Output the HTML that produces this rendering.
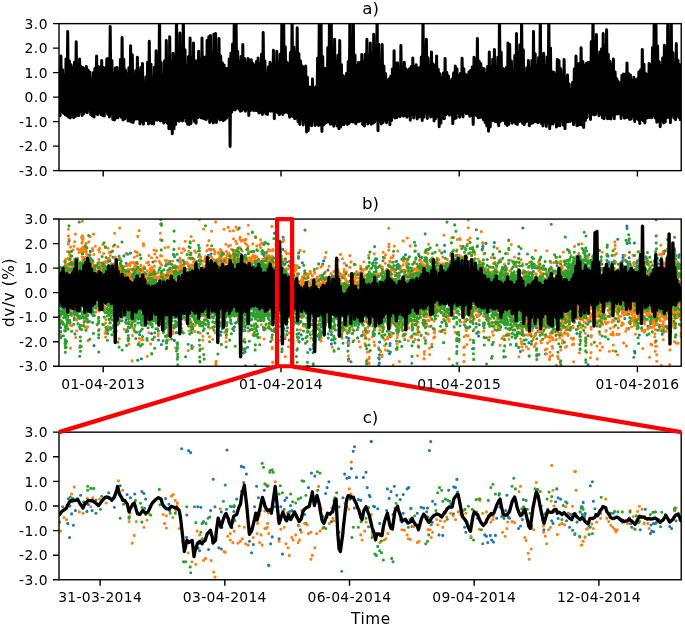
<!DOCTYPE html>
<html lang="en"><head><meta charset="utf-8"><title>dv/v time series</title>
<style>html,body{margin:0;padding:0;background:#fff}svg{display:block}</style></head>
<body>
<svg width="685" height="626" viewBox="0 0 685 626" style="display:block">
<rect width="685" height="626" fill="#fff"/>
<defs>
<clipPath id="ca"><rect x="59.0" y="23.64" width="622.2" height="147.0"/></clipPath>
<clipPath id="cb"><rect x="59.0" y="219.07" width="622.2" height="147.2"/></clipPath>
<clipPath id="cc"><rect x="59.0" y="432.16" width="622.2" height="147.6"/></clipPath>
</defs>
<g clip-path="url(#ca)"><path d="M59.2,70.1 60.1,115.8 60.9,55.9 61.8,111.3 62.6,69.8 63.5,113.3 64.3,75.4 65.2,114.8 66,59.1 66.9,115.7 67.7,31.6 68.6,117.3 69.4,60.7 70.3,117.9 71.1,64.8 72,115.5 72.8,67.9 73.7,117.7 74.5,62.2 75.4,116.5 76.2,41.8 77.1,115.2 77.9,64.2 78.8,115.6 79.6,58.9 80.5,111.8 81.3,66.8 82.2,115.5 83,67.4 83.9,113.4 84.7,69.3 85.6,111.4 86.4,66.6 87.3,112.8 88.1,70 89,110 89.8,71.9 90.7,114.4 91.5,79.5 92.4,116 93.2,72.7 94.1,117 94.9,68.5 95.8,113.4 96.6,55.9 97.5,114.8 98.3,66.6 99.2,112.6 100,68.1 100.9,114.7 101.7,60.5 102.6,115.4 103.4,67.6 104.3,116.1 105.1,68.2 106,111.1 106.8,59 107.7,114.2 108.5,58.2 109.4,117.1 110.2,26.5 111.1,114.1 111.9,60.4 112.8,119.4 113.6,73.5 114.5,120 115.3,68 116.2,118 117,67.4 117.9,117.8 118.7,71.4 119.6,115.8 120.4,59.5 121.3,117.2 122.1,37.5 123,119.9 123.8,59.3 124.7,119.1 125.5,70 126.4,117.2 127.2,74.1 128.1,120.9 128.9,67.8 129.8,121 130.6,45.7 131.5,122.1 132.3,54.7 133.2,122.5 134,75.1 134.9,119.3 135.7,70.7 136.6,119 137.4,57.2 138.3,119 139.1,71 140,123.9 140.8,67.4 141.7,122 142.5,63.5 143.4,124.3 144.2,82.2 145.1,120.5 145.9,77.1 146.8,120.6 147.6,62.3 148.5,124.1 149.3,41.3 150.2,122.5 151,63.9 151.9,123.8 152.7,78.2 153.6,124 154.4,67.3 155.3,120 156.1,50.8 157,120.3 157.8,57.4 158.7,119.5 159.5,11.6 160.4,121 161.2,62.5 162.1,120.7 162.9,78 163.8,123.1 164.6,60.7 165.5,121.4 166.3,40.6 167.2,123.3 168,64.2 168.9,128.7 169.7,36.7 170.6,128.5 171.4,61.9 172.3,133.8 173.1,53.3 174,128.9 174.8,58.3 175.7,124.6 176.5,11.6 177.4,120.6 178.2,54.4 179.1,121.2 179.9,32.9 180.8,120 181.6,49 182.5,121.1 183.3,11.6 184.2,117.5 185,49.7 185.9,121.3 186.7,66.1 187.6,124.2 188.4,56.7 189.3,124.4 190.1,38 191,123.5 191.8,58 192.7,118 193.5,43.1 194.4,121.4 195.2,60.8 196.1,123.2 196.9,61 197.8,117.7 198.6,51.2 199.5,116.8 200.3,59.7 201.2,118.1 202,38 202.9,118.3 203.7,56.9 204.6,119 205.4,57.2 206.3,119.4 207.1,40.6 208,117.6 208.8,36.7 209.7,122.6 210.5,35.4 211.4,120.2 212.2,53.2 213.1,123.1 213.9,34.2 214.8,122.1 215.6,33.4 216.5,122.4 217.3,54.3 218.2,117.9 219,38.5 219.9,120.1 220.7,55.9 221.6,119.3 222.4,62.7 223.3,120.7 224.1,65 225,119.4 225.8,68.6 226.7,118.1 227.5,68.6 228.4,113 229.2,58.9 230.1,146.6 230.9,53.3 231.8,111.9 232.6,44 233.5,109.4 234.3,11.6 235.2,109.9 236,11.6 236.9,107.5 237.7,51.2 238.6,109 239.4,61.4 240.3,111.3 241.1,56.5 242,110.5 242.8,44.4 243.7,108.9 244.5,58.6 245.4,111.2 246.2,62.2 247.1,109 247.9,58.5 248.8,115.5 249.6,60 250.5,110.6 251.3,59.7 252.2,110.1 253,63.5 253.9,110.5 254.7,66 255.6,110.4 256.4,61.6 257.3,110.8 258.1,57.9 259,113 259.8,63.7 260.7,112.2 261.5,54.2 262.4,114.4 263.2,32.4 264.1,111.7 264.9,60.8 265.8,113.8 266.6,73.3 267.5,114.5 268.3,67 269.2,111 270,62.3 270.9,111.2 271.7,65 272.6,110.9 273.4,50.3 274.3,118.8 275.1,63.8 276,111 276.8,51.3 277.7,112.9 278.5,62.6 279.4,114.8 280.2,53.9 281.1,113 281.9,11.6 282.8,114.5 283.6,11.6 284.5,112.5 285.3,46.8 286.2,112 287,62.3 287.9,113 288.7,63.6 289.6,117.2 290.4,52.6 291.3,115.9 292.1,11.6 293,116.6 293.8,46.9 294.7,118.8 295.5,52.9 296.4,118.1 297.2,27.8 298.1,122.1 298.9,53.4 299.8,124.6 300.6,61 301.5,119.3 302.3,65.9 303.2,124.9 304,67.5 304.9,122 305.7,66.1 306.6,132.1 307.4,77.3 308.3,130.4 309.1,87 310,124.9 310.8,87.3 311.7,125.8 312.5,79 313.4,120.8 314.2,88.8 315.1,125.4 315.9,86.8 316.8,124 317.6,58.1 318.5,125.6 319.3,11.6 320.2,124.9 321,11.6 321.9,131.4 322.7,56.5 323.6,124.9 324.4,68.7 325.3,123.3 326.1,68.3 327,122.3 327.8,47.5 328.7,122 329.5,11.6 330.4,124.2 331.2,11.6 332.1,123.7 332.9,50.7 333.8,126.2 334.6,39.3 335.5,123.2 336.3,61.1 337.2,126 338,55.2 338.9,128.8 339.7,40.6 340.6,127 341.4,64.5 342.3,124.8 343.1,75.5 344,124.6 344.8,77.1 345.7,122.2 346.5,73.4 347.4,124.5 348.2,61.4 349.1,123.3 349.9,11.6 350.8,121.6 351.6,46.1 352.5,122 353.3,11.6 354.2,122 355,54.9 355.9,123.8 356.7,65.5 357.6,121.6 358.4,62.6 359.3,121.4 360.1,62.7 361,120.7 361.8,54.6 362.7,124.6 363.5,61.5 364.4,126.1 365.2,54.2 366.1,121.2 366.9,39.3 367.8,124.1 368.6,55.4 369.5,122.4 370.3,43.1 371.2,124.3 372,54.3 372.9,123.2 373.7,34.2 374.6,122.2 375.4,49.3 376.3,119.8 377.1,11.6 378,130.8 378.8,44.2 379.7,121.2 380.5,61.9 381.4,124.1 382.2,44.4 383.1,122.5 383.9,66.1 384.8,120.1 385.6,73.5 386.5,122.8 387.3,80.4 388.2,119.5 389,79 389.9,124.8 390.7,76.2 391.6,120.6 392.4,69.1 393.3,116.7 394.1,50.8 395,117.9 395.8,63.5 396.7,117.8 397.5,62.8 398.4,115.9 399.2,72.9 400.1,116.7 400.9,45.4 401.8,115 402.6,69 403.5,116.2 404.3,62.3 405.2,115.4 406,68.8 406.9,117.3 407.7,70.4 408.6,115.4 409.4,69 410.3,120.3 411.1,66.8 412,114.4 412.8,57.9 413.7,118 414.5,66.7 415.4,113.9 416.2,64.8 417.1,119 417.9,68.4 418.8,117.3 419.6,67.5 420.5,116.5 421.3,57.1 422.2,120.6 423,11.6 423.9,117.3 424.7,49.3 425.6,113 426.4,39.3 427.3,118.5 428.1,57.7 429,113.7 429.8,65.8 430.7,117.1 431.5,52.1 432.4,116.2 433.2,63.9 434.1,121 434.9,65.5 435.8,118.4 436.6,55.9 437.5,116.5 438.3,69.2 439.2,126.7 440,73.8 440.9,123.1 441.7,78.1 442.6,118.3 443.4,72.9 444.3,118.7 445.1,58.5 446,114.7 446.8,72.2 447.7,113.4 448.5,76 449.4,115.2 450.2,81.4 451.1,114.1 451.9,79.1 452.8,123.8 453.6,73 454.5,118.8 455.3,66.1 456.2,118.1 457,68.8 457.9,113.1 458.7,75.5 459.6,117.2 460.4,73.6 461.3,114.8 462.1,58.2 463,117.1 463.8,68.7 464.7,112.1 465.5,74.2 466.4,113.8 467.2,75.8 468.1,113.7 468.9,72.1 469.8,116.2 470.6,70.4 471.5,115.4 472.3,67.1 473.2,124.4 474,57.2 474.9,114.7 475.7,60.3 476.6,115.8 477.4,38.5 478.3,117.8 479.1,61 480,117.5 480.8,63.6 481.7,117.2 482.5,68.2 483.4,119.8 484.2,68.8 485.1,122.5 485.9,73.7 486.8,126 487.6,66.4 488.5,131.3 489.3,52.1 490.2,126.9 491,66.7 491.9,121.1 492.7,59.3 493.6,120.3 494.4,49.5 495.3,121.8 496.1,67.1 497,121.9 497.8,57.3 498.7,125.7 499.5,11.6 500.4,121.6 501.2,51.9 502.1,120.2 502.9,68.3 503.8,120.5 504.6,69.5 505.5,124.1 506.3,67.4 507.2,125.6 508,43.1 508.9,124.3 509.7,44.4 510.6,120.6 511.4,61 512.3,123.2 513.1,72.2 514,121.4 514.8,55.5 515.7,123.8 516.5,33.4 517.4,124.5 518.2,52.7 519.1,121.4 519.9,44.7 520.8,121 521.6,11.6 522.5,123.2 523.3,49.8 524.2,124.7 525,74 525.9,121.9 526.7,67.8 527.6,120.8 528.4,60.5 529.3,125.7 530.1,67.7 531,123.4 531.8,60.5 532.7,123.1 533.5,31.6 534.4,121.8 535.2,53.7 536.1,121.5 536.9,66.1 537.8,122.7 538.6,57.6 539.5,121.7 540.3,11.6 541.2,123.2 542,56.7 542.9,125.9 543.7,53.3 544.6,122.2 545.4,66.3 546.3,126.4 547.1,57.1 548,122.8 548.8,11.6 549.7,128.7 550.5,48.1 551.4,124.1 552.2,71.7 553.1,123.9 553.9,72.2 554.8,121.6 555.6,74.9 556.5,127.1 557.3,59.5 558.2,125.2 559,60.5 559.9,125.7 560.7,68.7 561.6,120.9 562.4,74.6 563.3,125.1 564.1,59.5 565,128.7 565.8,77.4 566.7,122 567.5,74.9 568.4,121.4 569.2,84 570.1,121.4 570.9,90.3 571.8,120.2 572.6,82.5 573.5,124.7 574.3,68.9 575.2,121.9 576,55.9 576.9,125.7 577.7,63.6 578.6,124.9 579.4,63.8 580.3,124.5 581.1,47.7 582,125.1 582.8,61.5 583.7,127.5 584.5,65.4 585.4,120.5 586.2,63.6 587.1,117.6 587.9,62.5 588.8,112.2 589.6,62.5 590.5,119.4 591.3,41.5 592.2,114.2 593,11.6 593.9,115.1 594.7,41.1 595.6,114.5 596.4,34.4 597.3,111.9 598.1,56.7 599,115.8 599.8,52.1 600.7,113.8 601.5,49 602.4,117.8 603.2,33.4 604.1,118.8 604.9,45.9 605.8,114.9 606.6,29.8 607.5,118.8 608.3,54.2 609.2,118.4 610,61.3 610.9,119.1 611.7,64.9 612.6,115 613.4,59 614.3,118.7 615.1,71.9 616,114 616.8,78.7 617.7,114 618.5,81.7 619.4,113.7 620.2,83.3 621.1,118.4 621.9,75.4 622.8,114.8 623.6,74 624.5,118.2 625.3,74.3 626.2,117.4 627,63.1 627.9,117.6 628.7,73.7 629.6,119.4 630.4,74.9 631.3,118.9 632.1,80.7 633,116.8 633.8,77.2 634.7,121.5 635.5,80.1 636.4,118.2 637.2,79 638.1,119.4 638.9,72.1 639.8,123.6 640.6,70.1 641.5,119.2 642.3,49.5 643.2,120.8 644,64.3 644.9,123.1 645.7,73.5 646.6,118.2 647.4,74.8 648.3,117.6 649.1,63.5 650,117.6 650.8,65.1 651.7,117.8 652.5,47.4 653.4,115.3 654.2,11.6 655.1,117.9 655.9,11.6 656.8,122.2 657.6,45.8 658.5,121.3 659.3,61.7 660.2,126.7 661,66.2 661.9,120.7 662.7,58 663.6,123.1 664.4,45.2 665.3,121.9 666.1,51 667,117.6 667.8,11.6 668.7,117.5 669.5,43.3 670.4,122.7 671.2,11.6 672.1,115.3 672.9,52.6 673.8,117.9 674.6,64 675.5,119.7 676.3,43.6 677.2,116 678,60.2 678.9,117.8 679.7,64.6 680.6,121" fill="none" stroke="#000" stroke-width="3.0" stroke-linejoin="round"/></g>
<g clip-path="url(#cb)">
<path d="M110.7,266.6h0M142.7,278.1h0M77.1,275.8h0M90.4,251.4h0M79.1,268.1h0M147.5,285.4h0M86.1,247.6h0M68,264.3h0M135,282.8h0M113,257.2h0M122.2,274.9h0M94.1,274.5h0M85.8,266.3h0M141.3,281.2h0M92,263.9h0M103.8,269.2h0M91,264.3h0M90.3,263.9h0M145,281.4h0M132.7,278.2h0M125.8,276.2h0M135.3,264.3h0M123.8,274.7h0M84.5,262h0M78.7,275.6h0M99.1,272.4h0M129.9,282.5h0M144.8,283.3h0M85.8,249.4h0M140.4,276.4h0M89.5,261.5h0M135,278.2h0M132.3,274.6h0M101.8,268h0M94.2,268.4h0M117.3,272.1h0M107.5,272.6h0M108,274.4h0M149.2,277.3h0M62.7,267.7h0M107.5,275.2h0M133.7,273.3h0M124,255.9h0M108.1,274.8h0M133.9,274.6h0M141.8,278.1h0M130.5,253.1h0M91.5,263.3h0M89.6,268.5h0M80.3,273.1h0M69.1,241h0M98,267.9h0M85.1,264.2h0M127.6,280.6h0M113.4,264.3h0M109.8,260.6h0M83.6,264.4h0M121.6,278.8h0M146.6,274.2h0M81.6,269.3h0M133.3,275.6h0M142.4,281.7h0M107.2,267.3h0M142.5,278.5h0M113.9,269.4h0M111.1,267.8h0M141.4,281.4h0M126.2,263.2h0M65.3,265.7h0M101.6,265h0M136.4,268.8h0M136.5,263.5h0M126.9,308.4h0M94.3,315.6h0M140.7,318.3h0M142.4,309.2h0M74.4,319.6h0M87,308.2h0M104.4,299.7h0M127.7,331.1h0M72.5,313.1h0M131.9,316.1h0M138.2,318.9h0M92.6,309.9h0M75.3,313.7h0M80.2,303.7h0M93.8,299.4h0M102,302.2h0M118.4,318.7h0M139.6,334.7h0M140.7,317.8h0M131.8,326.3h0M107.1,331.6h0M113.6,315.5h0M130.7,307.4h0M134.7,308h0M80.9,303.2h0M82.6,314.1h0M61.5,313.5h0M111.4,314.1h0M129.5,309.9h0M79.3,318.3h0M70.4,303.6h0M80.3,304.4h0M144.8,318.6h0M110.5,315.4h0M122.2,308.5h0M89.8,301.6h0M77.5,315.3h0M116.8,312.7h0M63.3,323.9h0M94,345.6h0M113.2,305h0M133.5,313.6h0M120.5,305.4h0M114.1,309.6h0M66.2,305.9h0M102.8,306.2h0M128.7,307.1h0M60.6,327.5h0M105.5,303.2h0M78.2,305.9h0M130.9,307.3h0M135.2,317h0M92,309.9h0M75.9,306.1h0M136.5,307.5h0M130.6,315.8h0M61,304.4h0M126,319.6h0M87.7,321.9h0M78.4,317.1h0M69.7,323.3h0M67.2,307.1h0M128.8,311.1h0M119.3,315.4h0M84,318.2h0M126.6,323.2h0M126.4,312.4h0M141.6,324.9h0M141.4,358.8h0M141.7,319.6h0M188.5,276.2h0M196.4,261.5h0M212.8,269.1h0M194.2,276h0M241.9,268.8h0M256.8,266.4h0M182,267.5h0M263.4,269.9h0M210.1,268.9h0M164,283.4h0M264.6,256.1h0M181.9,276.7h0M152,273.6h0M153.2,281.2h0M201.6,274.1h0M267.6,265.7h0M152.3,285.7h0M243.7,268.6h0M157.3,284.5h0M272.2,268.6h0M168.5,274.7h0M197.2,268.4h0M274.5,233.3h0M216.9,260.4h0M256.3,266.2h0M239.9,259.1h0M200.3,276h0M180,261.9h0M211.1,254.1h0M233.8,261.8h0M250.7,268.1h0M233.4,263.9h0M194.1,265.1h0M158.9,277.4h0M270.1,257.4h0M208.4,255.2h0M200.3,268.9h0M177.7,260.3h0M260.1,265.4h0M256.6,265h0M257.4,260.7h0M233.8,250.7h0M240.8,254.3h0M209.1,269.8h0M165.7,265.7h0M172.7,277.5h0M170,268h0M269.5,258.4h0M154.9,281.8h0M209.5,264.2h0M168.6,281h0M264.9,242.9h0M263.6,254.5h0M234.3,262.4h0M232.5,270h0M169.4,285.1h0M163.9,284.8h0M198.1,272.5h0M257.6,265.6h0M170.1,261.5h0M264.6,258.7h0M152.9,262h0M228.8,253.8h0M173.5,254.2h0M217.1,270.1h0M193.3,270.2h0M175.4,271.7h0M176.2,279.7h0M186.6,276.3h0M260.5,266.4h0M243.9,258.5h0M185.4,278.9h0M215.7,269.7h0M259.2,269.7h0M240.2,268.6h0M183.9,278.7h0M256.5,263.6h0M232.5,269.5h0M188.6,265.7h0M226.7,270.1h0M212.7,269.3h0M264.2,266.2h0M245.3,263.1h0M245.4,259.1h0M150.9,279.3h0M150.8,272h0M181.7,316.2h0M223.1,313.6h0M235.5,323h0M221.1,331.9h0M245.9,324.7h0M223.6,308.2h0M179,319.3h0M200.3,324.6h0M166.4,318.5h0M226.1,323.7h0M271.1,314.9h0M189.1,315.5h0M191.8,345.9h0M270.5,323.2h0M234.4,326.7h0M151.7,314.1h0M217.5,306.8h0M168.8,335.7h0M234.3,309.9h0M164.7,324.5h0M209.1,311.3h0M239.9,312.9h0M274.3,306.8h0M246.1,315.2h0M181,324.3h0M152.6,309.6h0M163.6,331.1h0M238.5,310.4h0M188.4,324.5h0M198.5,317.5h0M268.2,313.9h0M217.3,306.7h0M155.2,315.6h0M248.6,316.2h0M261.3,311.5h0M209.4,307.8h0M173.2,312.5h0M174.9,317.4h0M204.9,310.2h0M245.5,325h0M217.6,314.5h0M208.5,308.7h0M212.9,308.7h0M269.4,314.3h0M158.3,313.7h0M161.4,344.5h0M256.2,313.8h0M164.9,311.5h0M174.4,340.4h0M238.8,320.5h0M194.5,319.6h0M176,332.8h0M267.3,306h0M220.5,322.8h0M178.9,312.5h0M150.3,324.1h0M151.5,333.5h0M249.8,306.9h0M238.3,309.4h0M198.7,323.1h0M194,311.6h0M233.7,311h0M165,324.2h0M158.5,340h0M208.7,323.1h0M164,314.2h0M216.9,319.1h0M239.5,311.7h0M234.2,306h0M177.3,315.8h0M182,318.8h0M199.9,309.2h0M151.3,316h0M269.6,309.7h0M184.1,313.1h0M264,329.8h0M237.1,314.8h0M272.6,312.8h0M163.5,322h0M156.3,322.9h0M156.2,318.7h0M156.5,321.9h0M245.2,323.9h0M245,342.1h0M245.1,352h0M244.9,330.6h0M245.1,348.9h0M245.1,327.2h0M245.5,365.7h0M245.2,323.9h0M290,281.8h0M279,259.2h0M276.1,273.6h0M277.4,272.5h0M290.5,279h0M286.4,274.4h0M290.7,267.1h0M276.2,272.5h0M288.9,265.9h0M282.9,272.2h0M279.9,262h0M277.8,252.1h0M291.5,270.8h0M294.6,281.1h0M286.6,262h0M289,277.7h0M276.2,259.6h0M278.1,265.3h0M278.3,255.9h0M278.1,254.7h0M278,260.8h0M278,251.9h0M282.4,261.5h0M282.9,268.4h0M282.7,241.5h0M283.1,237.3h0M282.9,249.4h0M285.4,270.1h0M284.8,264.2h0M280.7,266.1h0M280.8,265.5h0M280.4,255.5h0M277.1,314.8h0M291.4,309.3h0M295,310.2h0M285,338.5h0M293.4,313.3h0M284.1,321.8h0M284.2,320.3h0M279,320.7h0M287.4,327.8h0M288.7,310.8h0M283.9,312h0M291.1,318.8h0M277.9,326.3h0M341.8,275.2h0M343,292h0M331.4,284.5h0M313.9,292h0M299.1,285.2h0M360.4,284.2h0M316.4,282.1h0M307.5,287.9h0M328,270.1h0M302.4,262.8h0M338.8,288h0M352.9,292h0M336,289.8h0M339.9,273.8h0M299.9,287.4h0M319.6,285.4h0M353,283.5h0M333.4,289.1h0M330.2,284.9h0M302.9,284.6h0M353.9,288h0M312.3,281.5h0M317.6,285h0M297.6,276.2h0M334.2,279.9h0M335,282.7h0M310.5,288.8h0M317.7,284.4h0M362,285.2h0M338.6,289.8h0M333.4,277.3h0M304.8,290.3h0M364.5,288.6h0M352.9,276.8h0M351,281.7h0M340.3,283.3h0M336.7,277.8h0M352.4,286.3h0M326.9,288.6h0M303.1,285.3h0M322.7,264.1h0M331.5,287.7h0M339.2,275.5h0M338.9,277.3h0M323.7,260.8h0M323.4,278.4h0M342.1,311.5h0M362.3,323.7h0M298.6,307.4h0M318.1,309.6h0M361.5,335.8h0M320.7,310.7h0M299.7,312.5h0M347,311.1h0M350,318.1h0M342.8,331.1h0M302.6,339.1h0M356.4,314.4h0M363,316.7h0M337.4,313.9h0M298.2,310.4h0M358.4,319.7h0M310.2,349.4h0M319.1,312.5h0M349.7,319.2h0M299.8,322.1h0M295.9,308.3h0M324,310.2h0M331.4,313.1h0M313.1,352.6h0M300,308.2h0M329.9,310.8h0M348.1,316.9h0M295.5,310.3h0M334.9,342.9h0M351,361.7h0M354.8,320.4h0M348,342.7h0M301.1,334.9h0M342.5,323.1h0M325.6,310.7h0M316.8,312.8h0M333.6,318.8h0M312.9,314.4h0M346.6,337.2h0M320.7,313.4h0M298.8,311.4h0M358.7,324.4h0M329.4,310.4h0M340.4,315.2h0M319.5,339.2h0M347.1,313.8h0M313.1,310.5h0M313.1,311.2h0M306.3,313.6h0M327.2,312.4h0M331.5,334.6h0M331.4,343.9h0M331.6,332h0M331.6,339.7h0M301.1,316.2h0M301,321.5h0M301.7,316.4h0M348.4,343.5h0M348.7,358.9h0M348.5,341h0M348.7,338.3h0M348.5,359.6h0M348.3,345.5h0M348.6,320.1h0M320.9,320.8h0M320.7,319.6h0M320.9,327.1h0M376.6,259.1h0M404.4,270.4h0M384.2,280.4h0M407.8,277.3h0M458.1,270.5h0M459,263.5h0M388.6,283.5h0M519,253.9h0M370.5,287.9h0M468.4,266h0M521.6,281.6h0M441,270.6h0M501.5,275.4h0M371.2,288.5h0M445.1,274.1h0M447,273.1h0M446.1,267.9h0M367.5,282.5h0M370.9,283.8h0M389.2,277h0M494.3,242.6h0M506.6,274.5h0M450.5,261.6h0M376.2,287.8h0M506.2,269.4h0M433.7,268.6h0M520.5,285.7h0M405.5,254.7h0M486.6,275.4h0M515.2,281.8h0M427.8,270.1h0M454.9,269h0M418.8,272.3h0M508.1,284.9h0M395.3,275.4h0M467,270.6h0M494.9,279.5h0M379.1,287h0M490.5,273h0M475.7,264.9h0M522.9,228h0M435.1,274.5h0M365.3,288.6h0M435.1,271.8h0M448.7,273h0M516.8,275.5h0M391.1,273.8h0M457.3,262.4h0M523.3,281.8h0M365,287.6h0M430.3,271.5h0M442.9,273.7h0M448.8,272h0M369,288.7h0M474.6,268.8h0M453.2,268.7h0M475.5,262.7h0M463.1,265.1h0M481.2,274.8h0M475.1,274.3h0M366.8,286.2h0M401.3,285.9h0M506.5,278.4h0M441.8,267.7h0M369.8,286.6h0M505.8,268.5h0M408.9,272.5h0M400.5,282.3h0M426,267.9h0M418.4,278.9h0M407.2,281.3h0M439.4,269.3h0M368.1,285.9h0M496.1,281.5h0M385.3,283.8h0M465.7,262.7h0M373,282.6h0M446.7,268h0M455,262h0M506.8,280.1h0M397.1,266.6h0M398.8,286.6h0M490,278.3h0M381.6,283.7h0M377.9,276.4h0M439.2,265.9h0M510.7,282.9h0M451.5,269.9h0M393.3,269.2h0M503.6,285h0M365.9,286.4h0M444.6,275.4h0M388,283.3h0M499.8,280.3h0M387.2,279.5h0M457,255.4h0M483.2,276.1h0M373.3,262.7h0M461.9,266.7h0M388.1,284.7h0M465.3,264.2h0M376.7,277.5h0M437.2,262.9h0M490.7,283.1h0M481.7,270.6h0M482.9,246.4h0M482.4,248.8h0M482.7,243h0M386.5,271.1h0M386,271.5h0M386.2,274.7h0M444.7,251.6h0M444.6,245.3h0M419.6,273.5h0M420.2,257.9h0M420,264.2h0M419.1,255.6h0M397,273.6h0M397.1,278.7h0M396.7,273.6h0M396.9,268.2h0M396.7,265.4h0M441.2,312.3h0M514.4,309.4h0M465.3,309.7h0M427.5,307.1h0M375.7,313.2h0M445.6,314.7h0M517.3,333.7h0M513.5,312.4h0M437.1,301.1h0M503,322.7h0M478.6,336h0M511.6,315.8h0M405.9,312h0M403.4,317.1h0M424,308.7h0M386.2,312.6h0M456.3,303.2h0M517.7,313.3h0M390,319h0M519.7,314.4h0M451.5,315.6h0M467.3,300.4h0M440.5,302.4h0M450.9,299.9h0M519.2,315.9h0M472.6,348.8h0M405.4,311.8h0M463.5,314.2h0M507.3,311h0M397.6,333.1h0M377.2,312.7h0M497.1,306.7h0M489.9,310.5h0M479.8,302.3h0M383.6,315.3h0M414.8,309.5h0M523.6,315.9h0M380,316.6h0M493.2,313.8h0M448.5,315.7h0M511.7,308.9h0M496.3,309.1h0M368.6,314h0M507.3,311.8h0M391.4,314.8h0M511.1,308.9h0M374.8,315.2h0M416.1,334.1h0M472.6,320.9h0M416.3,311.2h0M495.5,322.1h0M512.9,311.5h0M455.7,304.2h0M479.2,324.8h0M387.9,325h0M389.1,312.4h0M469.8,326.8h0M465.7,321.2h0M428.9,302h0M518.2,318.3h0M508.8,311.2h0M484.9,306.1h0M496.7,315.2h0M366.9,321.4h0M408.2,311.7h0M420.2,303.3h0M446.8,309.1h0M463.7,300.2h0M520.4,351.5h0M506.3,313.6h0M477.7,310.8h0M492.5,309.4h0M404.3,316.5h0M501.7,309h0M441.9,322.2h0M470.4,302.3h0M430.4,302.6h0M465,305.1h0M431.8,305.5h0M511.2,314.5h0M389,314.6h0M488.5,317.8h0M401,322.7h0M442.9,306.2h0M476.7,333.3h0M496.1,309.5h0M461.4,302.4h0M394.9,316.4h0M456.6,312.6h0M372.5,315h0M392.1,320.3h0M503.1,316.5h0M404.5,329.8h0M522.1,331.5h0M388.7,329.3h0M521.1,323.1h0M389.7,335.1h0M390.2,332.3h0M389.9,336.7h0M390.1,343.5h0M390,318.2h0M390,345.5h0M389.5,353.7h0M390.1,336.8h0M390.3,325.5h0M390.4,352.1h0M379.2,358.9h0M379.6,342.1h0M378.9,365.1h0M379.3,363.1h0M379.6,354.7h0M379.7,322.9h0M555.9,281.2h0M533.4,271.6h0M548.6,282.4h0M546.7,273.8h0M529.6,283.8h0M526.5,286.2h0M528.5,281.6h0M532.6,265h0M532.5,280.9h0M551.9,280.9h0M546.8,282.4h0M532.2,277.6h0M535.1,282.5h0M553.5,279.8h0M530.2,281.2h0M549.1,270.9h0M548.1,283.5h0M540.2,284.6h0M557.1,265.7h0M550.9,318.9h0M550.9,314.6h0M527.8,315.7h0M526,315.6h0M535.7,333.5h0M547.8,319.9h0M545.4,354h0M555.6,313.2h0M552.4,323.1h0M552.9,325.7h0M552.5,311.6h0M527.9,314.2h0M553.7,313.2h0M555.5,331.6h0M564.8,333h0M564.1,317.1h0M528.8,342.8h0M538,331.2h0M553.6,318.5h0M533.3,313.1h0M552.3,310.9h0M552.2,313.2h0M544.5,312h0M554.8,311.9h0M552.9,326h0M535.2,335.2h0M534.3,317.6h0M557.2,319.8h0M561.9,318.7h0M566.2,281.9h0M573,275.1h0M565.5,273.2h0M592.6,274.8h0M593.5,267.3h0M570.3,265.3h0M578,267.5h0M588.2,272.8h0M597.6,274.2h0M571.2,265h0M574,274.1h0M580.9,260.5h0M596.8,272.8h0M573,265.8h0M576.2,272h0M566.2,273.1h0M583.4,263.6h0M567.3,260.6h0M592.8,256.5h0M579.4,268h0M577.7,264.9h0M586.9,274.6h0M595.1,268.1h0M584.5,252.7h0M583.7,259.9h0M584.2,267h0M566.3,321.7h0M571.6,312.8h0M583.1,312.4h0M594.6,317.1h0M597.3,299.5h0M592.4,301.4h0M581.5,315.4h0M580.1,304h0M596.6,301.1h0M577.3,305h0M569,321.2h0M576.7,316.7h0M569.1,309.2h0M587.8,302.9h0M576.9,333.5h0M573,310.2h0M576.6,313h0M582.4,316.6h0M570,309.3h0M597,326h0M568.6,314.7h0M594.3,302.4h0M582.1,314.7h0M574.7,316.7h0M579.4,322.9h0M588.1,364.7h0M588.4,322.5h0M588.3,310h0M588.1,335.8h0M655.6,270.7h0M664.4,271.4h0M638.7,274.5h0M616.3,274.8h0M652.1,270.4h0M657.4,269.5h0M622.3,261.8h0M620.8,262.7h0M646.7,258.9h0M681,284.9h0M657.2,272.4h0M662.5,272h0M622.8,260.5h0M656.7,267h0M609.3,276.4h0M664.6,263.7h0M620.6,276.4h0M646.5,271.2h0M676.7,270.7h0M616.6,276h0M634.1,275.1h0M608.5,262h0M629.1,257.7h0M626.1,271.7h0M627.8,267.8h0M630.8,275.6h0M637.7,270.9h0M631.7,267.5h0M641.9,274.2h0M634.7,275.8h0M626.8,261.6h0M617.8,239.3h0M616.1,271.5h0M643.7,275.5h0M626.9,274.8h0M608.9,264.4h0M634.3,243h0M659.9,260.5h0M666.2,269.5h0M627,268.9h0M608.1,256.1h0M668.5,256.6h0M601.9,264.3h0M669,270.6h0M623,257.5h0M638.4,273.7h0M658.7,269.5h0M614.3,261h0M673.1,272.9h0M607.9,271.4h0M601.5,278.3h0M628.2,263.1h0M633.9,263.3h0M674.7,276.7h0M663.7,253.6h0M647.5,271.5h0M663.3,253.5h0M630.6,268.1h0M613.3,275.4h0M636.9,263.3h0M643.8,272.6h0M623.2,255.2h0M606.5,266.7h0M613.4,269h0M663.7,251.5h0M658.6,263.7h0M634.9,269.6h0M605.6,273.3h0M672.1,266.1h0M679.1,267.2h0M678.8,257.2h0M679.1,254.9h0M668.6,258.6h0M668.9,260.1h0M627.1,243.4h0M627.3,266.7h0M627,228.4h0M626.9,226.1h0M634.2,262.5h0M659.7,325.6h0M630.7,305h0M677.6,306.3h0M622.6,309.4h0M622.3,302.5h0M620.9,300.9h0M665.9,308.5h0M675.1,310.9h0M678.1,305.8h0M636.3,303.4h0M632.8,305.1h0M650.8,303.4h0M642.7,308.3h0M654.2,303.2h0M660.5,310.1h0M643.6,316.5h0M679.7,298.3h0M679.5,313.4h0M647.9,326.2h0M610.5,298.7h0M637.3,306.5h0M654.9,318.5h0M664.8,305.6h0M647.1,306.3h0M608.2,310.2h0M604,309.1h0M644.4,303.5h0M615.6,302.7h0M678.4,298.8h0M603.4,301.8h0M632.3,312.1h0M617.2,298.8h0M621.6,308.4h0M628.8,328.6h0M639.3,335h0M602.2,309.5h0M662.2,334.3h0M661.3,311.7h0M665.7,326.4h0M669.7,329h0M645.9,302.6h0M680.6,298.3h0M650.4,302.9h0M602.7,315.2h0M680.5,303h0M638.9,301.3h0M600.8,297.9h0M672.9,304.3h0M605.4,318.4h0M615.7,307.2h0M665.2,308.4h0M623.6,311.4h0M649.9,303.6h0M659.6,329.8h0M624.8,318.6h0M634.7,310.1h0M634.5,351.4h0M634.9,353h0" stroke="#1f77b4" stroke-width="3.1" stroke-linecap="round" fill="none"/>
<path d="M107.4,262.2h0M89.3,266.5h0M101.9,269.2h0M78.9,276.2h0M67.3,275.7h0M137.1,255.8h0M127.3,275.3h0M68.6,275.1h0M137.6,273.3h0M116.6,273.7h0M72.9,270.1h0M103.3,267.1h0M82.7,260h0M88.1,262h0M82.9,260h0M93.3,274.5h0M143.4,277.1h0M126.1,273h0M135.5,276.5h0M148.9,255.6h0M119.1,271.7h0M108.6,258.5h0M70.6,247.1h0M72.2,272.4h0M111.4,263.5h0M72.8,262.2h0M90.7,265.2h0M92.2,273h0M67.3,267.6h0M129.5,274.9h0M92.4,248.6h0M86.2,251.6h0M142.6,283h0M137.4,266.9h0M123,271h0M108,260h0M92.6,265.5h0M141,280.4h0M129.3,281.6h0M76,272.2h0M111.3,267.3h0M81.3,272.3h0M88.8,241.9h0M61.3,273.1h0M114,275.4h0M86,243.4h0M149.5,273.1h0M74.7,241.7h0M100.2,274.5h0M102.9,244.5h0M138.9,280.9h0M65,261.3h0M148.8,284.3h0M79.7,262.1h0M122.5,274h0M91.3,267.7h0M86.2,265.5h0M82.4,241.8h0M60,267.3h0M130.9,269.2h0M113.3,270.1h0M119.9,270.4h0M125.9,278.4h0M147.3,270.8h0M111.2,272.3h0M84.2,248.4h0M117.8,246.6h0M85.5,257.6h0M68.9,272.7h0M69.3,274h0M128.6,281.5h0M94,273h0M136.4,282.3h0M89.8,254.8h0M121.6,268.9h0M149.2,285.8h0M119.6,266.2h0M127.2,274.2h0M65.8,276.4h0M129.4,275h0M83.1,270.1h0M107.7,272.9h0M127.2,275.3h0M132.5,280.6h0M104.1,275.2h0M130.1,263.1h0M80.6,267.3h0M121.2,270.4h0M136.9,282h0M144.8,276.4h0M148.6,284.7h0M125.9,272.1h0M97.7,275.6h0M63.5,270.8h0M68.7,269.4h0M79.4,271.4h0M89.1,266.2h0M144.1,266.9h0M118.3,269.6h0M133.8,277.6h0M66.4,272.3h0M74.7,276.7h0M142.7,276.8h0M96.9,275h0M128.3,275.4h0M75.1,263.1h0M145.5,280.2h0M134.3,277.2h0M86.6,262.5h0M73,266.4h0M65.3,277.9h0M124.2,277.5h0M122.5,269.8h0M135.1,264.9h0M136.1,271.9h0M143.4,243.8h0M63.2,277.5h0M94.6,273.2h0M75.3,264.9h0M61.6,276h0M128.3,279.4h0M82.7,268.1h0M100,273.9h0M83.7,251.7h0M131.1,282.1h0M123.4,272.9h0M124.6,275.8h0M71.1,277.1h0M86.1,260.6h0M140.1,278.9h0M127.1,279.9h0M91.4,267.3h0M148.8,281.8h0M129.7,272.8h0M149.7,284h0M118.6,273.9h0M101.5,273.4h0M84.6,266.6h0M128.8,277.7h0M135.5,278.1h0M80.8,266.9h0M144.3,276h0M77.5,270h0M146.1,278.3h0M140.8,265.4h0M83.1,263h0M130.8,276.7h0M94.8,276h0M81.1,265h0M142.7,281h0M138.6,280h0M99.9,271.7h0M79.4,275.6h0M83.5,268.8h0M106.1,273.8h0M130.1,278.3h0M99.6,248.2h0M71.8,262.1h0M110.4,272.5h0M140.3,273.9h0M70.3,257.3h0M109.2,258.4h0M73.8,273.6h0M122.8,270.9h0M132.4,281.1h0M134.8,266.9h0M119.9,270h0M96.1,265.3h0M139.2,276.3h0M93.8,254.5h0M75,269.2h0M140.1,281.3h0M126.8,265.8h0M62.6,269.9h0M102.8,273h0M62,271.4h0M89.9,268.4h0M77,271h0M95.3,246.2h0M119.7,228.1h0M82.1,272.2h0M139.1,230.6h0M142.9,276.1h0M114.2,270h0M91.6,272.2h0M79.5,264.1h0M105.3,275.4h0M95,276.6h0M116.8,272.3h0M115,271.6h0M115,275.6h0M93.4,266.4h0M145.1,281.5h0M60.3,274.3h0M137.3,271.9h0M133.4,270.6h0M141.4,281h0M99.6,252h0M78.9,272.4h0M83.1,238.6h0M132.2,279.9h0M149.1,265h0M127.9,281.7h0M69.5,254.5h0M144.8,282.8h0M142.1,282.5h0M140.2,270.8h0M116.3,275.7h0M123.2,278.5h0M119.9,272.2h0M108.3,273.1h0M59.5,277h0M134.9,281.6h0M66,272.3h0M106.4,270.5h0M138.9,276.9h0M147.2,282.8h0M100.1,275.8h0M146,281h0M115.7,274.4h0M133.4,282h0M97.5,274.7h0M137.4,278.8h0M116.5,271.7h0M75.3,234.1h0M128.6,279.7h0M149.7,277.2h0M75.5,270.5h0M85.4,257.2h0M101,271.9h0M142.9,271.3h0M97,270.8h0M137.3,252.4h0M109.3,252.4h0M103.9,274.2h0M84,263.5h0M93.7,265.2h0M95.8,272.7h0M67.8,276.6h0M120.3,275.3h0M100.7,263.5h0M116.1,259.6h0M128.4,264.9h0M65.4,263.8h0M145.4,280.5h0M145.3,283.4h0M64.8,266.9h0M96.6,272.2h0M144.2,277.5h0M147.1,277.7h0M81.7,271.1h0M106.3,268.4h0M139.7,282.7h0M63.3,277.8h0M114.2,258h0M102.8,274.6h0M117.6,277.7h0M81.6,250.6h0M103.9,274.1h0M59.5,278.1h0M88.5,263.4h0M99.9,264.2h0M102.3,276h0M83.5,263.7h0M61.8,274.9h0M102.5,271.9h0M89.5,255h0M106.2,261.2h0M89.1,267.7h0M62.8,269.3h0M87.8,266.7h0M113.4,267.9h0M113.7,275h0M96.1,275.8h0M60.8,276.4h0M71.5,271.1h0M148.7,279.7h0M82.3,269.9h0M106.9,271.8h0M139,278.1h0M112.4,272.4h0M106.4,275.9h0M69.4,275.8h0M86.6,259.8h0M123.2,278.8h0M69.4,271.8h0M120.3,278.2h0M124.6,271.6h0M109.4,271.3h0M66.7,272.1h0M126.5,281.4h0M107.4,271.6h0M98.4,263.1h0M119.2,268.7h0M84.1,264.3h0M118.9,267.8h0M138.1,267.5h0M148.2,281.5h0M140.9,280.7h0M123.7,279.4h0M102.3,272.8h0M64.5,275.3h0M124.2,266.3h0M93,262.3h0M142,281.2h0M135,280.7h0M89.9,267.4h0M78.7,271.2h0M74,246.3h0M147.7,284.9h0M64.3,278h0M143.8,281.9h0M121,271.9h0M77.3,275.4h0M121.9,279.7h0M137.7,275.5h0M80.7,274.6h0M118.7,272.3h0M88.2,265.1h0M101.3,269.1h0M108.1,248.3h0M117.4,266.3h0M103.7,253.5h0M103.9,262.7h0M75.8,274.4h0M138.5,282.5h0M135.8,271h0M111.8,273.8h0M128,272.6h0M85.7,249.9h0M103.1,275h0M65.5,270.4h0M114.6,233.3h0M68.3,277.3h0M115.8,268.5h0M99.4,262.6h0M142.7,268h0M130,283h0M73,250.1h0M145.9,282.3h0M106,274.5h0M96.2,274.6h0M83.9,265.7h0M68.7,259.5h0M99.7,272.9h0M117.3,271.1h0M90.1,236.6h0M94.2,268.7h0M132.3,276.4h0M99.8,276h0M69.3,270.4h0M67.9,271.9h0M115.8,266h0M149.9,282.7h0M72.6,267.1h0M99.3,271.1h0M129,271.4h0M110.3,255.5h0M112.1,272.6h0M143.5,245.8h0M148.1,274.1h0M68.8,268.3h0M130.2,280h0M114.3,274.8h0M77.8,271.2h0M65.7,276.1h0M80.2,263.7h0M88.2,255.3h0M132,277.2h0M63.8,277.7h0M114.7,274.7h0M81.8,265.8h0M104.2,271.5h0M110,267.2h0M62.9,278h0M87.2,262.3h0M64,276.5h0M76.9,272.2h0M132.9,283h0M137.6,270.4h0M79,250.1h0M85.9,250.7h0M66.1,274.8h0M105.2,246.5h0M135.2,262.9h0M64,277.9h0M149.6,281.3h0M96,271.6h0M128.9,281.3h0M133.4,262.6h0M98.8,259.4h0M95.4,276.2h0M97.1,275.7h0M67.2,272.4h0M134.1,269.2h0M104.7,267h0M134.3,257.2h0M120.5,268h0M112.1,266.9h0M101.5,269.1h0M80.9,273.9h0M92.8,250.6h0M109.4,274.8h0M133.1,283.3h0M143.8,275.1h0M109.7,275.3h0M60.7,274.1h0M86.2,262.3h0M108,275.3h0M148.5,262.1h0M68.3,272h0M107.6,273.9h0M126.2,253.2h0M149.7,278.9h0M77.5,268.4h0M92.3,264.6h0M106.9,274.6h0M124.1,277.9h0M133.2,283.1h0M137.8,236.4h0M60,272.8h0M70.3,272.6h0M67.4,251.5h0M76,268.3h0M118.6,276.6h0M78.8,264.5h0M62.9,269.6h0M88.9,265.3h0M92.8,275.4h0M111,268.9h0M123.2,279h0M87.1,267.7h0M107.6,272.4h0M99.3,262.5h0M77.6,248.7h0M124.5,278h0M143.2,277.8h0M142.9,270.1h0M120.9,266.6h0M113.3,271.3h0M65.7,259.4h0M81.2,270.5h0M93.6,234.1h0M125.1,279.7h0M86.9,263.2h0M70.2,264.1h0M98.1,271.2h0M106,271.9h0M102,267.3h0M122.9,277.4h0M74.4,273.3h0M67.3,268.6h0M104.1,269.9h0M69.2,266.9h0M130.1,265.4h0M135.1,251.6h0M63.1,271.6h0M128.8,278h0M120.3,258.5h0M120.5,275.4h0M136,278.5h0M60.2,273.4h0M113.2,246.2h0M114.4,271.1h0M149.4,276.7h0M80,268.2h0M90.5,269.1h0M123.9,271.8h0M147.5,283.9h0M141.9,270.7h0M82.3,271.1h0M116.5,274.2h0M69.1,239.1h0M74.2,259.4h0M99,267.3h0M110,272.9h0M147.9,278h0M125.2,278.7h0M128,272.8h0M134.4,270.5h0M79.4,270.5h0M141.9,282.3h0M61.1,275.7h0M143.9,283.8h0M64.2,276.4h0M140.2,275.2h0M122,268.2h0M98.7,249.8h0M101.1,265.3h0M87.1,267.7h0M113.1,274.5h0M84.3,265.1h0M92.1,272.3h0M116.5,272.4h0M64.5,273.8h0M114.7,274.4h0M148.7,279.1h0M105,262.4h0M62.5,272.8h0M142.3,281.1h0M74.7,260.8h0M125.5,270.2h0M63.5,277.7h0M96.2,276.9h0M66.9,269.8h0M99.1,276.5h0M138.8,281.6h0M139.4,276.8h0M115.6,270.4h0M120.2,264h0M82.6,257h0M77.8,266.1h0M126.8,279.5h0M92.5,265.4h0M78,262.8h0M139.7,277.7h0M89.3,260.3h0M88.4,267.2h0M79,252.4h0M134.3,280.8h0M78,273h0M71.8,274.8h0M104.9,261.8h0M64.3,274.5h0M69.9,273.3h0M76.2,264.2h0M93.2,274h0M119.7,265.3h0M131.4,262.5h0M93.6,274.9h0M86.7,254.1h0M132.2,269.7h0M137.5,263.8h0M121.5,277.9h0M81.2,267.1h0M142.1,282h0M140.9,275.4h0M132.3,277.7h0M128.7,281.6h0M118.8,278.4h0M146.9,262.7h0M74.3,267h0M134,280.9h0M110.6,274.2h0M115.4,257.1h0M124.9,277.7h0M109.6,269h0M60.3,274.9h0M91.9,269.9h0M138.1,270.4h0M128,276.4h0M127.9,269.9h0M128.1,271.5h0M128,269.2h0M82.5,263.8h0M82.4,235.7h0M82.6,239.2h0M82.7,236h0M82.8,247h0M82.4,253.7h0M82.3,221.2h0M81.9,243h0M81.5,248.9h0M81.8,252h0M82.1,256.7h0M81.5,237.2h0M98,267h0M139.1,272.6h0M68,266.2h0M68.2,258.4h0M68.4,243.4h0M67.8,264.3h0M68.4,235.7h0M67.6,267h0M68.2,244.3h0M68.4,229.3h0M145.6,308.9h0M111.4,303.8h0M131.4,312.1h0M126.6,309.9h0M118.4,321.6h0M141.7,339.6h0M99,304.8h0M75.8,303.4h0M124.1,329.2h0M127,316.6h0M116.4,331.1h0M110.9,303.5h0M136.5,309.8h0M141.3,314.4h0M131.2,320.8h0M148.8,332.8h0M104.8,306.7h0M125.8,315.2h0M116.4,304.6h0M62.8,307.7h0M130.7,319.1h0M93.3,304.3h0M105.8,301.3h0M59.4,317h0M105,333.2h0M75.8,337.5h0M83.9,315.3h0M123.4,306.9h0M145.1,308.3h0M117.7,307.8h0M139.1,309h0M70.5,348.1h0M83,302.7h0M67.6,311.3h0M107.9,326.5h0M132.5,307.2h0M143.9,325.5h0M143.9,312.5h0M94.1,299.8h0M142.1,315.4h0M103.6,305.9h0M121.7,317.4h0M128.9,316.5h0M83.1,325.7h0M136,311.4h0M74.6,303h0M143,339.7h0M84,322.4h0M61,303.3h0M123.2,311.3h0M132.5,335.6h0M71.7,325.7h0M93.4,300.2h0M91,304.5h0M140.6,310.8h0M59.8,304.5h0M149.4,318h0M114.6,304.4h0M134.7,312.1h0M113,303.7h0M129.7,308.3h0M71.7,315.6h0M134.8,318.4h0M86.7,302h0M114,309.6h0M70.7,325.2h0M108.3,303.3h0M107.4,308.6h0M77.4,309h0M90.4,308.2h0M96,297.3h0M137.9,311.4h0M96.7,306.4h0M147.2,356.3h0M96.6,309.3h0M136.3,310.6h0M147.2,309h0M119,308.2h0M78.8,304.8h0M144.7,311.3h0M142.1,310.3h0M89.2,307.3h0M148.9,310.8h0M137.4,311.5h0M145.7,316.8h0M83.2,313.3h0M73.9,312h0M61.7,321.1h0M113.1,309.1h0M60.5,334.8h0M70.6,310.5h0M61.6,305.7h0M95.7,312.3h0M88.7,307.3h0M130.6,310.1h0M89.4,305.6h0M84.1,317h0M66.9,304.1h0M97.5,300.1h0M135.5,310.4h0M97.5,298.8h0M134.6,310.5h0M134.5,327.6h0M83.4,303.6h0M130.8,319.2h0M79.9,304.4h0M115,312.4h0M139.2,313.9h0M99.1,329.3h0M119.2,338.7h0M121.7,311.5h0M122.9,315.9h0M82.2,304.5h0M143.9,310.4h0M70.6,309.6h0M94.7,301.7h0M67.4,305.5h0M131.2,307.8h0M87.4,305.6h0M108.5,329.9h0M96.5,305.7h0M94.7,298.3h0M128.8,344.1h0M138.9,309.4h0M77.2,307.1h0M147.1,310h0M115.8,306h0M149.1,309.7h0M110,322.9h0M132.8,327.7h0M94.4,303.2h0M84.9,303.1h0M132.1,360.9h0M111,314.9h0M139.1,342.6h0M139.2,316.8h0M139.4,338.5h0M66.3,318.7h0M66.4,313h0M65.9,313.1h0M66.3,328.1h0M86.2,309.8h0M85.9,314.8h0M87,311.8h0M99.4,307.1h0M99.2,311.1h0M105.9,319.6h0M105.7,333h0M105.6,337.1h0M105.8,309.6h0M105.8,330.6h0M105.5,323.1h0M149.3,320.9h0M85.4,327h0M84.9,327.1h0M85.5,320.5h0M85.2,309h0M65.9,312.6h0M87,327.9h0M87.6,306.8h0M87.6,311.3h0M87.5,326.8h0M88,340.6h0M67.5,320.5h0M66.9,326h0M67.2,326.4h0M67.2,320.6h0M76.2,308.8h0M75.8,314.7h0M76.4,320.1h0M76.6,318.8h0M76.6,330.8h0M76.3,314.1h0M170.5,274.2h0M223.4,252.9h0M268.3,267.2h0M267.6,269.2h0M205.5,256.6h0M180.6,272.2h0M244.1,265.6h0M210.1,262.3h0M174.6,275.5h0M181.6,276.2h0M221.5,261.1h0M266.9,255.9h0M212.8,263.4h0M180.3,261.6h0M245,242.8h0M254.2,261.2h0M262.2,260.7h0M228.9,259.1h0M231.5,249.3h0M266.2,271.1h0M243.9,265.1h0M210.8,250.1h0M271.7,257.9h0M244.7,257h0M260.6,261.3h0M180.4,280.9h0M245.1,258.2h0M241.4,264h0M232.2,255.6h0M216.5,266h0M178,281h0M228.6,255.7h0M182.1,279.1h0M231.8,266.1h0M249.3,270.3h0M246.5,268h0M262.7,268.7h0M169.7,270.8h0M246.7,267.7h0M209,249.2h0M186.9,262h0M220.8,267.4h0M168.2,247.1h0M165.3,260.4h0M255.6,261.1h0M257.6,270.1h0M220.3,267.9h0M187.6,272.4h0M154.8,254.1h0M159.8,276.9h0M185.7,271.3h0M265.7,256.3h0M162.4,284.3h0M211,249.3h0M150.7,282.1h0M255.2,236.8h0M175.3,279.3h0M254.1,266.6h0M180.7,281.1h0M177.1,278.1h0M241.6,264.8h0M264.7,260.7h0M214.7,253.9h0M200.4,273h0M253.1,262.5h0M178.9,273h0M265.7,265.9h0M163.1,279.7h0M208.3,271.2h0M270.2,250.6h0M162.7,282.4h0M189.1,274.6h0M184.3,277.6h0M236,255.9h0M237.5,256.3h0M221.6,268.4h0M167.5,275.4h0M234.3,266.5h0M167.2,283.9h0M259.9,270.5h0M161.8,283.2h0M157,257.8h0M219.4,265.6h0M161.8,256h0M267.5,263.3h0M245.7,264.8h0M272.3,260.1h0M239.8,247.5h0M175.8,268.9h0M230.9,266.5h0M197.2,274.9h0M204.1,267.4h0M199.4,219.5h0M160.3,284.4h0M243.2,268.5h0M226.4,258.5h0M220.4,271h0M175.8,281.1h0M269.3,260.2h0M237.1,255.2h0M190.7,267h0M151.2,284.1h0M251.5,269.7h0M231,263.5h0M169.6,277.8h0M180.5,260.2h0M193.1,268.8h0M268.6,258.8h0M210.7,261.3h0M226.9,266.5h0M158,273h0M265.1,264.9h0M172.6,261h0M206.7,261.6h0M211.3,270.5h0M170.2,282.2h0M268.9,269.7h0M193.6,240.7h0M175.8,270.1h0M268.5,249.6h0M170,282.9h0M181.5,252.7h0M180.8,279.9h0M184,278.3h0M239.6,264.7h0M200,273.4h0M197.5,275.7h0M194.2,259.2h0M171.7,279.6h0M193.4,274h0M165,247.7h0M155.2,283.5h0M257.9,271h0M176.4,280.7h0M254.5,269.7h0M268.2,271h0M220.7,257.6h0M219.8,263.2h0M204.7,268h0M274.1,262.9h0M229.9,268.3h0M270.2,266.6h0M169.4,263.3h0M213.6,269.2h0M228.1,227.4h0M254.7,255.8h0M150.6,281.5h0M155.3,261.1h0M150.1,268.7h0M229.8,270.5h0M244.2,257.8h0M165.1,275.9h0M223.9,263.5h0M268.2,271.8h0M172,275.9h0M170.1,274.4h0M176.2,272.4h0M201,262.2h0M225.9,270.6h0M214.8,251.8h0M167.1,275.2h0M252.9,267.7h0M178.2,279h0M246.5,257.8h0M189.4,268.7h0M174.4,280h0M244.2,267.9h0M221.2,258.3h0M271.4,267.9h0M207.5,259.8h0M166.3,263.6h0M195.7,269.9h0M274.4,271.5h0M180.9,280.4h0M237,263.6h0M179.9,258.1h0M185.8,269.6h0M194.7,250.9h0M264.2,269.6h0M269,267.3h0M230,269h0M236.8,260.8h0M224,261.5h0M209,271.5h0M264.2,269.7h0M226.9,268.6h0M155.2,284.4h0M161.2,284h0M256.8,245.9h0M251.7,266.2h0M153.9,282.6h0M171.1,281.3h0M179.9,280.6h0M236,227h0M252.8,243.9h0M179.7,266.5h0M246,263.5h0M271.6,264.6h0M153.5,285.7h0M189.1,264.5h0M220.8,263.2h0M152.3,277.8h0M219.3,254.2h0M204,273.2h0M188.7,268.8h0M239.7,266.9h0M268.8,272.1h0M179.3,276.2h0M250.5,266.9h0M234.4,261.4h0M201.2,272.3h0M166.8,284.2h0M240.8,255.9h0M266.4,267.1h0M206.8,250.9h0M273.1,270.8h0M269,265.1h0M168.4,279.3h0M150.4,281h0M215.4,262.8h0M191.3,258.9h0M232.9,263.6h0M226.7,255.4h0M226.3,261.3h0M264,268.1h0M258,267h0M151.4,274.2h0M195.3,264.2h0M214.7,259.8h0M210.8,262.5h0M177.4,281.3h0M233.5,238.8h0M263.8,260h0M231.7,268.7h0M236.4,265.1h0M249.4,265h0M191.6,268.8h0M163.2,280.7h0M225.9,244.3h0M172.3,270.9h0M175.2,279.3h0M205.4,267h0M219.8,268.3h0M174.5,278.2h0M183.3,273.8h0M247.7,262.3h0M240.9,265.3h0M256.6,270.3h0M272,271.1h0M219.8,266.9h0M198.4,273.7h0M154.2,274.5h0M193.6,261.8h0M241.5,262.6h0M159.3,261.4h0M194.3,266.3h0M238.9,261.3h0M241.4,262.2h0M252,261.6h0M262.6,263.6h0M200.6,272.1h0M220.3,270.4h0M217.8,259.1h0M234.8,252.4h0M154.4,266.1h0M265.3,264.6h0M265.4,270.2h0M195.6,274.8h0M233.7,263.9h0M266.4,270.6h0M246.1,266.7h0M177.6,275.2h0M216.1,270.7h0M197,268.4h0M256.4,268.8h0M224,271.3h0M264,272.1h0M271.4,270.9h0M244,263.3h0M213.2,268.3h0M176,282.8h0M161.8,282.6h0M231.8,264.6h0M220.9,251.8h0M268.2,269.9h0M183,273.6h0M271.1,270.5h0M237.7,260.5h0M233.7,256.3h0M242.6,262.9h0M267.1,252h0M192.3,274h0M235.7,241.3h0M229.5,263.6h0M194.1,270.9h0M185.8,269.9h0M257.7,261h0M175.4,283.7h0M259.8,265.1h0M236.1,264.5h0M267.5,270.8h0M264.1,265h0M267.6,269.8h0M160,277.6h0M170.1,273.3h0M244.6,267.6h0M217.5,269.9h0M259.4,266.5h0M240,239.3h0M158,277.6h0M160.5,279.8h0M257.1,271.4h0M260.5,263.7h0M188.6,264.6h0M198,272.6h0M191.2,236.6h0M273,264.9h0M211.7,257.4h0M255,271.3h0M249.5,257.7h0M200.7,272.7h0M269.7,260.2h0M197.1,266.7h0M209.2,261.4h0M185.8,274.9h0M196,252.4h0M211.6,231.3h0M218.4,267.1h0M205.1,259h0M183.4,248.9h0M232.9,268.1h0M218,262.9h0M175.2,274.5h0M254.7,271.1h0M153.7,276.7h0M207.8,261.7h0M233,261.3h0M196,271.2h0M253.6,270.8h0M232.6,263.6h0M231.3,261.9h0M182.6,272.4h0M216.7,266.3h0M247.7,264.9h0M231.2,258.1h0M240.9,267.7h0M156.9,257.5h0M231.3,268.7h0M166.3,279h0M172.2,264.7h0M178,266.9h0M239.5,263.5h0M233.9,267.3h0M185.7,272.1h0M158.3,285.7h0M267.9,258.4h0M244.2,269.1h0M228,266.9h0M203.8,273.1h0M240.8,268.5h0M208.8,266.9h0M205.5,272.1h0M202.6,271.4h0M260.2,269.9h0M249.3,260.4h0M183.9,273.5h0M164.6,283.1h0M229.2,269h0M175.5,272.3h0M257.2,269.1h0M216.4,261.5h0M222.7,261.5h0M229.8,231h0M250.1,266.5h0M232.6,268.7h0M170.2,283.7h0M178,278.2h0M260.6,271.8h0M234.8,266.1h0M228.2,254.1h0M252.6,267.3h0M214.7,262.4h0M171.5,282.2h0M243.5,269.4h0M266.6,266h0M240,237.3h0M226.6,262.7h0M187,273.9h0M244.4,267.8h0M221.8,262.2h0M271.1,263.4h0M180.1,267.3h0M265.1,266.8h0M222.3,269.8h0M243.4,240.1h0M252.8,255.5h0M237.8,229.6h0M231.1,259h0M231.5,262.8h0M228.5,246.3h0M202.9,274.6h0M194,265.9h0M176,284h0M259.9,267.6h0M258.6,266.7h0M241.2,266.2h0M231.5,264.6h0M191.1,272.8h0M236.7,259h0M273.8,257.9h0M201.8,274.9h0M151.9,286.1h0M224,229.3h0M164.2,284.3h0M235.2,267.1h0M155.7,276.7h0M168.6,283.9h0M244.3,263.5h0M269.5,261h0M168.5,281.2h0M230.4,245.2h0M181.1,280.7h0M193.8,274h0M194.3,274.2h0M244.1,263.3h0M256,268h0M186.3,263.3h0M179.1,248.5h0M229.4,264h0M181.4,279.6h0M154.1,285.5h0M188.7,251.3h0M199.7,275.8h0M168.1,284.8h0M155.1,281.3h0M229.8,268.7h0M260.4,261.3h0M226.9,270.9h0M172.7,271.1h0M266.9,264.9h0M242.1,251.1h0M162.1,281.2h0M209.8,269.4h0M220.5,265.4h0M271.4,271.3h0M187.4,277.3h0M177.9,273.4h0M196.1,270.8h0M191.1,265.6h0M170.7,274.4h0M177.1,275.2h0M187.6,275.9h0M215.5,270.5h0M257.9,271.2h0M201.4,264.3h0M171,284.6h0M210.7,256.7h0M197.8,273.5h0M236.4,252.2h0M193.4,268.8h0M255,258.6h0M198.5,269.5h0M213.1,270h0M262.9,271.7h0M242.8,261.7h0M247.9,266.5h0M252.6,258h0M180.9,264.4h0M253.4,252h0M266.1,264.2h0M266.6,270.6h0M267.9,260.6h0M267.8,265.7h0M219.5,257.5h0M234.1,263.9h0M186.1,278.2h0M182.3,278.1h0M173.7,273.3h0M233.5,266.9h0M181.7,269.8h0M155.1,284.7h0M252.5,269.1h0M208.9,240.6h0M176.1,283.8h0M251.5,268.1h0M192.1,264.7h0M160.2,284.3h0M221.1,250.1h0M189.6,276h0M161,280.8h0M228.3,262.8h0M236.8,243.8h0M235.2,258.9h0M224.3,258.9h0M241.3,241.1h0M172.4,278.4h0M165.5,282.3h0M265.8,269h0M220.9,270.8h0M213.8,270.6h0M222.6,266.1h0M235.9,268.3h0M219.4,266h0M246.7,266.5h0M192.1,273.7h0M271.9,256.2h0M234.3,268.7h0M251,262.9h0M228.6,268.4h0M248.2,270.2h0M162.2,282.8h0M175.3,273.2h0M164.6,284.8h0M216.2,270.8h0M249.3,268.4h0M187.8,276h0M272,268.8h0M178.2,280.5h0M247.4,264.3h0M169.3,284.7h0M188.2,276.4h0M243.4,266.9h0M243.4,269h0M203.6,229h0M156,286h0M152.1,283h0M214.7,251.3h0M231.7,256.4h0M216.2,264h0M164,275h0M174.4,266.2h0M245.4,265.9h0M213.9,268.3h0M225.6,270.9h0M226.8,270.1h0M269.3,271.1h0M231,268.7h0M218,252.6h0M239.9,267.7h0M273,249.6h0M222.5,269.7h0M203.7,266.7h0M199.6,274.7h0M198.6,274.6h0M162.5,283.8h0M213.7,266.2h0M172.5,281.1h0M226.5,251.6h0M170.1,282.1h0M182.9,272.3h0M205.8,267.8h0M221.3,261h0M228.1,263h0M249.3,265.9h0M246.9,262h0M182.5,265.5h0M164.3,285.1h0M184,273.7h0M228.8,268.6h0M222.3,269.8h0M187.8,272h0M251,263.4h0M268.9,255.5h0M192.3,273h0M248.1,246.5h0M220.4,249.6h0M233.3,267.2h0M221.3,269.2h0M162.4,279.8h0M183.5,278.3h0M270.6,260.2h0M198.5,256.7h0M163.4,278.1h0M260.5,239.7h0M249.1,267.9h0M220.8,270.8h0M157.9,272.5h0M150.3,285.2h0M163.2,274.4h0M228.6,266.7h0M201.3,261.5h0M176.3,282.7h0M230.8,267.3h0M219.6,268.4h0M154.1,282.8h0M244,264.8h0M169.8,268.6h0M180.6,273.2h0M195.7,274.6h0M180.7,278.8h0M160.3,276.3h0M216.8,271h0M168.9,281h0M220,269.7h0M186.4,263.5h0M242.1,265.9h0M191.2,266.8h0M205,271.6h0M251.1,260.1h0M205.8,265.5h0M178.2,281h0M175.5,282.7h0M268.5,259h0M183.3,269.9h0M193.8,269.7h0M210.7,269.1h0M186.3,278.1h0M195.2,269.1h0M207.3,245.4h0M266.1,258.6h0M221.7,262.9h0M171.3,278.5h0M158,285.8h0M230.3,265.7h0M256.1,269.2h0M215.6,221.9h0M166.5,277.8h0M213.5,263h0M159.8,278.8h0M264.9,268.1h0M238,248.9h0M195,266.9h0M266.9,270.8h0M207,261.9h0M154,250.1h0M156.4,250.8h0M271.3,259.7h0M261.9,242.9h0M188.2,264.3h0M234.9,263.4h0M246.8,265.3h0M214.1,268.4h0M185.3,241.2h0M246.3,269.9h0M246.4,244.2h0M238,261.6h0M183,273.2h0M197.4,267h0M238.1,262.6h0M260.5,247.6h0M175.1,280h0M151.6,257.8h0M160.7,284.7h0M242,267.7h0M185.7,278.1h0M156.3,279.6h0M167.3,272.7h0M153.2,276.5h0M173,282.9h0M243.8,268.5h0M157,285.7h0M242.4,264.8h0M229.1,254.2h0M207.9,263.4h0M163.6,275.8h0M247.2,249.6h0M179.4,277.7h0M272.5,264.5h0M243.5,260.3h0M207.3,261.7h0M236.3,253.6h0M235.2,267.9h0M199.3,273.4h0M210,264.5h0M220.1,269.5h0M235.2,261.5h0M179.4,279.4h0M226.3,266.8h0M222.8,252.8h0M200.7,256.7h0M161.2,277.1h0M201.8,274.3h0M199.4,271.6h0M174.8,265.5h0M183.6,276.8h0M218.9,270.1h0M251,257.7h0M176.2,282.1h0M273.1,250.5h0M208.6,269.3h0M238.5,268.4h0M257.4,271.7h0M156.2,280.2h0M207,273.2h0M185.7,271.9h0M246.7,268.8h0M259.6,263.2h0M273.7,269.9h0M188.7,258.1h0M211,267.1h0M215.6,261.5h0M189.1,273.4h0M243.6,257.8h0M232.5,266h0M238.2,265.1h0M167.7,279.7h0M171.5,280.6h0M224,259h0M156.9,284.9h0M161.3,274.7h0M221.8,267.8h0M154.9,284.5h0M213.5,266.5h0M233.5,230.7h0M204.3,261.2h0M172,271.1h0M172.1,280.6h0M262.9,259.1h0M209.1,268.8h0M190.3,270.1h0M204.8,269.3h0M254.4,268.2h0M203.4,268.5h0M243.3,269.3h0M270.8,264.4h0M172.5,270.8h0M202.4,274.8h0M243.8,265.2h0M272.9,260.9h0M157.1,277.1h0M152.3,271.6h0M233.3,261.6h0M249.9,265.3h0M237.6,259.5h0M161.6,265.1h0M261,271.4h0M198.3,266.1h0M184.6,250.2h0M216.4,265.4h0M225.7,271.9h0M159,286.4h0M228.5,265.5h0M197.9,273.4h0M237.1,262.3h0M245.7,239.4h0M165,283.6h0M161.7,279.7h0M271.9,226.4h0M257.1,266.6h0M183.1,265.9h0M196.5,274.9h0M163.4,284.6h0M228.9,266.2h0M255.9,266.6h0M245.3,261.4h0M189.2,275.6h0M199.1,271.6h0M259.9,244.7h0M170.4,278.4h0M213.8,269h0M196.4,263.9h0M246,260.7h0M187.9,276.5h0M235.6,269h0M273.2,271.4h0M216.1,268.3h0M268.5,263.9h0M256.9,260.7h0M177.6,276.4h0M225.9,258.2h0M247.8,269.5h0M197.9,271.5h0M214.9,270.8h0M191,270.3h0M239.1,266.3h0M243.3,265.4h0M196.2,275.2h0M238.4,253.8h0M238,251.1h0M151.3,272.8h0M151.2,271h0M152.1,270h0M152.3,281h0M152.5,275.1h0M151.8,267.5h0M179.1,272.2h0M179,269.8h0M167.6,260.8h0M248.2,251.3h0M248.2,250.2h0M248.1,253.4h0M248.3,225.2h0M248.3,234h0M214.6,261.9h0M215,261.5h0M154,270.2h0M153.8,270h0M205.9,259.6h0M205.5,268.2h0M206,261.4h0M183.5,267.6h0M183.7,267.3h0M183.8,269.3h0M183.9,267.5h0M234,251.7h0M233.9,252.4h0M234.2,262.6h0M234.2,263.1h0M233.9,259.3h0M234,253.6h0M182.6,266.2h0M183.1,273.3h0M257.1,261h0M256.9,256.8h0M256.7,264.4h0M213.9,259.7h0M213.5,249.4h0M200.4,269.9h0M200.2,257.4h0M160.6,255.6h0M160.5,263.4h0M160.5,239.6h0M160.3,233.2h0M160.5,224.1h0M219.3,258.4h0M268,314.6h0M188.6,320.7h0M199.3,306.7h0M160,311.8h0M247.9,306.2h0M203,315.7h0M193,308.6h0M200.2,333.1h0M215.6,309.2h0M250.7,319.4h0M207,309.5h0M152.2,309.7h0M196.9,312.4h0M271.2,324h0M189.1,310.4h0M171,314.3h0M212.6,339.3h0M172.8,331.6h0M239.2,312.5h0M158.1,335.7h0M253,314.3h0M272.5,313h0M260.3,306h0M228.9,314.1h0M194.7,331.4h0M161.5,315.8h0M188.3,350.6h0M247.7,307.2h0M166,310.7h0M172.4,317.4h0M259.1,314.7h0M200,322.9h0M221.9,320.5h0M150.5,316.8h0M222.7,308.1h0M267.3,306.1h0M271.7,310.8h0M174.2,315.5h0M229.7,316.5h0M209.5,336.8h0M261.3,324.5h0M195,325.4h0M152.7,315.3h0M194.2,308.3h0M254.1,329.1h0M166.3,313.9h0M153.1,339.8h0M216.5,313.8h0M201.7,311.6h0M260.2,307.9h0M268.1,307.8h0M191.2,321.5h0M269.1,325.5h0M242.3,347.7h0M259.8,337.5h0M159.7,317.2h0M165.1,319.3h0M158.2,333.8h0M265.5,329.1h0M154.7,317.2h0M167.9,316.4h0M153.9,311.8h0M190.5,308.6h0M232.8,310.6h0M240,325.1h0M208.8,315.4h0M274.6,307.3h0M260.7,309.4h0M151.1,310.9h0M240.1,306.7h0M257.2,316.3h0M244.9,311.2h0M224.7,332.3h0M208.4,323.6h0M237.9,308.5h0M188.8,322.8h0M204.6,309.5h0M244.3,339.3h0M249.8,312.7h0M195.3,315h0M254.8,309.2h0M237.7,316.9h0M233.3,315.6h0M233.6,309.9h0M152.9,315.8h0M262.2,308.5h0M232.7,307.2h0M207.3,315.5h0M237.5,312.5h0M161.6,324.4h0M256.1,316.5h0M252.8,334.5h0M172.7,334h0M197.8,308.3h0M170.1,329.5h0M226.6,308.2h0M162.5,327.7h0M189.6,315.9h0M230.1,310.6h0M263.8,320.1h0M248.7,314.6h0M203.6,311.3h0M181.4,311.5h0M248.4,331.3h0M254.2,305.6h0M186.1,310.6h0M264.2,306.7h0M217.8,314.8h0M175.5,348h0M272.6,312.9h0M167.4,327.5h0M214.3,326.8h0M227.3,329.3h0M246.1,310.8h0M243.4,310.2h0M271.9,308h0M151.4,321.4h0M184.6,319.6h0M226.4,323.9h0M242.3,308.3h0M254.2,324.4h0M190.8,326.3h0M184.8,311.9h0M207.6,311.6h0M186.2,312.1h0M188.9,310.9h0M222.9,305.9h0M181,314.2h0M238.3,312.9h0M162.5,313.6h0M204.7,320h0M190.1,311.5h0M219.9,305.9h0M272.1,309.3h0M264.1,339h0M245.5,314.4h0M261.5,313h0M201.7,308.4h0M171.4,327.7h0M271.2,313.1h0M240.4,314.5h0M211.7,310.3h0M219.1,307.2h0M243.2,327.3h0M213.1,312.4h0M272,307.5h0M239.6,313.9h0M193.1,346.8h0M154.6,309.4h0M230.3,322.8h0M152.4,314.6h0M200.1,312.3h0M215.9,312.7h0M150.9,313.3h0M205.8,317.6h0M197.4,310.4h0M191.9,310.8h0M195.2,321.1h0M204.2,323.9h0M225.6,311.7h0M150.6,343.9h0M174.4,325.4h0M155.5,321.3h0M198.4,321h0M198.7,316.6h0M171.7,317.7h0M171.4,326.6h0M171.6,324.8h0M225.6,313.9h0M226,333.1h0M226,341.8h0M226.2,337.5h0M209.8,314.9h0M209.9,328.2h0M202.8,322.1h0M202.9,336.3h0M202.9,312.8h0M202.8,340.2h0M202.7,348.6h0M216.2,313.9h0M216.3,312.4h0M216.3,313.6h0M230.6,316h0M230.2,317.2h0M168.8,321.5h0M168.5,332.8h0M168.2,339.7h0M272.3,347.4h0M272.2,348.8h0M272.8,362.4h0M272.5,362.2h0M272.3,339.6h0M215.8,321.7h0M215.8,323.8h0M216.2,361.2h0M215.8,363.3h0M215.3,332.7h0M215.9,364.7h0M216.3,321.3h0M244.8,313.3h0M245,323.1h0M244.9,323.4h0M188.7,323.9h0M188.9,315h0M188.6,323.4h0M189.1,326.3h0M189.1,331h0M168.3,323h0M168.2,330.6h0M262.4,315.3h0M262.2,317.1h0M288,278h0M285.3,251.3h0M291.2,275.4h0M285.6,276.5h0M278.5,269.8h0M285.7,273.6h0M286.1,274.4h0M277.3,264.8h0M278.7,261h0M284.2,271.9h0M282.9,264.9h0M275.8,271h0M289.4,277.4h0M276.6,268.5h0M286.1,272.9h0M279.7,274.2h0M290.2,277.7h0M282,273.1h0M281.6,256.1h0M292.3,277.5h0M293.2,278.8h0M284.8,274.4h0M276.7,266.8h0M280,273.4h0M284.9,261h0M282.2,269.8h0M280.1,267.3h0M276.5,265.6h0M282.1,267.7h0M286.2,275.9h0M279.8,267.8h0M284.4,271.8h0M277,262h0M286.3,269.6h0M279.7,271.4h0M288.7,279h0M291.2,283h0M291.9,275.3h0M277.5,261.6h0M293,274.7h0M288.1,269h0M277.9,272.1h0M279.1,263.5h0M286.4,268.8h0M281.1,273h0M282.4,259h0M286.7,253.6h0M288.7,279.4h0M280.5,259.6h0M290.2,263h0M282.2,272.6h0M276,244.4h0M281.1,273.8h0M287,273.5h0M276.5,223.8h0M289.4,253.5h0M285.1,276.6h0M276.5,251.4h0M289.7,276.1h0M283.5,271.9h0M290.5,276.5h0M293.5,272.1h0M283.1,266h0M280.6,256.4h0M280.3,260.4h0M280.6,251.9h0M280.5,258.8h0M280.9,248.9h0M283.2,241.2h0M283.6,239.7h0M275.3,323.1h0M288.5,346.8h0M283.3,308.7h0M284.6,311.4h0M280.5,340.2h0M290.5,308.6h0M280.9,313.4h0M289.9,312h0M278.8,311.3h0M288.2,317.1h0M288.7,311.6h0M293,308.1h0M280.4,321.1h0M283.4,323h0M291.5,319.7h0M282.2,327.1h0M281.6,308.5h0M275.2,310.7h0M288.9,332.7h0M281.6,313.9h0M278.6,307.8h0M278.1,308.5h0M293.6,319.4h0M281.9,312.3h0M277.7,312.3h0M276.3,314.9h0M286.7,308.6h0M285.1,318.2h0M285.1,337.3h0M284.9,316.3h0M285.3,356.5h0M352.2,288.2h0M310,291.7h0M307.4,275.8h0M318.1,284.6h0M298.8,289.2h0M342.3,284.5h0M350,267.3h0M320.3,288.6h0M348.5,289.9h0M351.4,290h0M312.4,285.5h0M340.3,280h0M352.6,291.9h0M306.5,278.9h0M299.2,283.8h0M326.7,279.3h0M319.5,283.8h0M336.2,289.4h0M297.8,284.3h0M308.4,290.1h0M312.3,281.5h0M311.7,284.1h0M339.8,281.4h0M359.9,281.1h0M304.7,289.4h0M302.7,276.7h0M308.4,290.2h0M301.5,288.8h0M341.5,289.5h0M320.4,290.9h0M296.3,277.4h0M358.6,290.3h0M308.6,284.1h0M300.2,287.6h0M347.6,291.4h0M316.3,289.4h0M309.4,282.7h0M361.5,287.5h0M312.8,288.9h0M343.3,290.5h0M352.2,290h0M308.9,291.4h0M325,257.6h0M301.1,280.5h0M303.1,284.9h0M344.7,290.8h0M317.2,268.4h0M357.1,290.8h0M351,261.9h0M325.4,271.8h0M348,291.2h0M362.8,272.4h0M312.9,281h0M333.2,277.8h0M349.2,289.8h0M312.9,291.8h0M353.7,284.9h0M333.6,285.6h0M356.5,271.6h0M344.3,263.3h0M295.2,265.4h0M337.3,289.8h0M306.7,289.4h0M324,288.4h0M312.2,286.6h0M299.7,288.5h0M311.2,279.8h0M306.7,290.4h0M324.3,282.1h0M337.6,269.2h0M326,252.4h0M348.7,289.5h0M347.7,289.2h0M305.9,286.2h0M327.3,284.2h0M343.7,290.3h0M342.3,288.6h0M311.3,292h0M358.5,289.1h0M316.6,291h0M318.6,285.1h0M357.9,289.8h0M359.7,286.7h0M297.5,288.4h0M296.3,283.7h0M348.9,275.4h0M350.5,292.1h0M347.4,292.3h0M317.6,279.3h0M346.1,283.4h0M340.2,288.3h0M338.9,283h0M350.3,276.1h0M357.3,275h0M353.7,290.1h0M296.5,287.7h0M361.1,287.9h0M335.5,282.6h0M339.4,290.4h0M328.2,281.2h0M351.4,291.1h0M364.9,281.4h0M315.3,289h0M361,288.9h0M339.6,289.5h0M350.5,290.7h0M345.1,287.5h0M305.6,290.2h0M363.1,283.3h0M327.9,289h0M329.3,278.9h0M312.4,275.9h0M319.9,289.1h0M351.9,290.4h0M339.7,278.6h0M345.6,291.3h0M338.1,260.3h0M310.1,271.4h0M310.9,291.2h0M332.3,276.7h0M305.9,285.1h0M314,281.6h0M329.4,276.8h0M305.1,284.7h0M312.7,285.9h0M349.4,289.8h0M317.4,283.6h0M345.2,291.3h0M312.9,290.5h0M296.6,284.9h0M364.9,285.7h0M360.6,286.8h0M358.9,290h0M317.2,277h0M358.6,284.5h0M342.8,286.1h0M363.9,261.8h0M352.3,291.6h0M360.6,266.2h0M344.8,293.5h0M324,286.5h0M319.8,279.9h0M315.3,292h0M325.2,280.7h0M321.6,287.2h0M322.2,283.2h0M316.2,290.9h0M349.7,267.4h0M350.6,289.3h0M349.5,288.9h0M315.5,290.1h0M327.8,283.5h0M355.3,264.5h0M315.2,290.7h0M314.9,279h0M310.9,289.7h0M310.7,288.5h0M348.5,291.8h0M317.5,290.9h0M358.8,272.7h0M321.3,283.7h0M311,290h0M333.9,287.4h0M358.5,278h0M303.6,278.3h0M324.7,290h0M361.9,285.9h0M328,284.8h0M354.9,289.2h0M322.9,290h0M322.8,287.8h0M312.4,289.1h0M307.1,291.1h0M355.7,291.1h0M357.4,284.1h0M322.7,284.5h0M322.5,280.9h0M335.6,287.1h0M334.4,287.4h0M358.1,289.5h0M329.7,290.1h0M313.5,283.5h0M338,274.2h0M305.9,285.4h0M302.2,286.5h0M302.3,277h0M329.1,266.2h0M320.8,288.1h0M356.2,284.2h0M322.1,265.7h0M321.5,290.1h0M311,284.4h0M326,287.1h0M344.3,292.7h0M340.5,254.4h0M340.3,274.5h0M344.8,277.4h0M342.8,284.6h0M364.5,275.5h0M306,288.7h0M325.5,287.1h0M305,287h0M365,282.3h0M333.1,287.6h0M297.2,283.5h0M308.3,274.2h0M331.2,287.5h0M337.9,283h0M311.6,291.2h0M346.7,281h0M329.2,288.3h0M362.4,289.3h0M306,273.4h0M355.4,275.5h0M336.7,283.5h0M297.2,265.9h0M339.9,289.8h0M347.3,282.1h0M308,275.2h0M324.3,286.7h0M303.2,279.1h0M315.6,286.9h0M311.4,291.3h0M362.1,285.5h0M361.8,271.1h0M334,285.6h0M297.1,281.8h0M342.8,283.8h0M351.9,284.5h0M321.8,285.6h0M329.6,284.1h0M305.7,288.1h0M307.8,286.6h0M364.6,280.2h0M333.7,271.6h0M303.4,288.6h0M360.8,280.5h0M306.1,285.5h0M348.8,285.2h0M297.2,275.8h0M353.8,288.2h0M359.4,286.8h0M354.4,289.4h0M336.4,278.5h0M326,277.2h0M344.5,288.5h0M353.4,285.2h0M309.1,288.7h0M353.9,285.8h0M354.3,291.2h0M364.5,269.5h0M363.9,280.7h0M324.4,288.7h0M350,292.6h0M349.7,281h0M355.3,282.8h0M361.3,289.2h0M310.8,273.3h0M357.6,281.7h0M337,278.1h0M296.2,268.9h0M341.2,287.6h0M331,284.8h0M311.2,292.2h0M301.6,283.3h0M363.4,288.6h0M342,289.3h0M329.6,290.1h0M334.7,280.3h0M353.4,274.6h0M351.8,291.7h0M356.4,286.4h0M355.8,278.1h0M300.7,284.6h0M330.4,281.7h0M360.7,289.6h0M337.2,286.3h0M304.4,282h0M346,293.6h0M302.3,284h0M362,278.9h0M341.5,288.6h0M361.6,289h0M304.7,289.1h0M301.5,279.9h0M330.2,284h0M354.6,283.5h0M350.4,287.4h0M322,290.4h0M312.8,287.6h0M317.2,283.3h0M317.1,285.5h0M303.6,287.2h0M351.2,273.6h0M300.1,284.4h0M362.6,289.2h0M352,290.5h0M342.4,258.8h0M347.2,293h0M335.9,282.4h0M334.1,286.5h0M308.5,288.7h0M303.1,280.9h0M300.7,289.4h0M346.3,271.7h0M297,273.7h0M342.2,292.1h0M315.6,289h0M337.2,289.1h0M333.4,282.4h0M330.9,273.5h0M310.8,290.9h0M328.7,284.6h0M342.8,291.9h0M359.1,286.3h0M303.8,283.8h0M319.2,283.9h0M309,284.3h0M351.2,289.5h0M349.9,255.6h0M339.1,273.1h0M337.2,286h0M361.9,269h0M335.3,281.3h0M337.3,285.1h0M345.4,279.2h0M347.5,282.5h0M304,251.6h0M359.3,283.8h0M333.5,289.6h0M361.7,280.8h0M337.8,289.5h0M304.7,274.5h0M342.1,275.1h0M344,286.7h0M337.3,288h0M320.9,267h0M304.5,287.8h0M306.8,290.9h0M326.6,283.2h0M334.2,280.8h0M300.1,250.4h0M297.7,289.1h0M296.6,279.1h0M344.1,272.3h0M344,272h0M344.1,269.4h0M344.3,275.3h0M361.4,274.3h0M361.8,283.9h0M361.4,278.4h0M361.2,279h0M361.5,283.9h0M361.2,272.3h0M338,272.5h0M338.1,270.5h0M338.1,271.5h0M319.7,275.7h0M319.6,283.6h0M314.7,273.2h0M313.9,281.4h0M314.6,284h0M314.5,279.8h0M354.6,281.2h0M355.1,274.2h0M355,278.9h0M295.7,267.9h0M295.2,270.7h0M295.4,269.9h0M344.7,284.5h0M344.7,278.4h0M334.9,276.9h0M314.2,271.2h0M314.4,286.1h0M326,281.4h0M326.3,280h0M327,281.7h0M342.6,314.6h0M327.7,318.9h0M303.3,325.9h0M332.2,332h0M319.6,312.2h0M323.4,319h0M295.8,307.4h0M364.9,321.8h0M345.3,316.8h0M308.7,313.5h0M311.9,309.4h0M309.7,332h0M322.5,320.5h0M307.7,323.5h0M315.7,310.5h0M317.1,309.2h0M337.2,318h0M354.8,309.9h0M323.6,326h0M319.3,309.2h0M351,310.9h0M345,314.1h0M356.4,313.1h0M342.5,313.4h0M363.8,313h0M353.6,312.7h0M328.7,310.8h0M301,309.5h0M310.9,338h0M357.2,311.2h0M315.4,330.4h0M348.5,310.7h0M352.8,329.6h0M338.6,334.4h0M363.3,313.7h0M336.1,310.1h0M362.3,319.2h0M320.9,314.9h0M361.6,314.3h0M352.4,312.9h0M343.8,328.2h0M302,312.5h0M303,311.8h0M304.9,326.2h0M308.4,309.9h0M336.5,312.1h0M360.3,347h0M317.6,325.8h0M331.3,326h0M342.4,322.2h0M313.7,312.5h0M311.3,315.8h0M320.6,309.5h0M339.3,323.8h0M333.4,313.6h0M358.1,318.3h0M338.3,315.8h0M349,319.9h0M333.2,314.2h0M349.9,323.5h0M301.4,308.1h0M302,317.7h0M338.2,311.4h0M363.3,331.8h0M324.7,316.2h0M332.3,347.2h0M353.9,340.4h0M314.9,334.3h0M300.4,311.2h0M324.4,310.7h0M319.3,309.6h0M351.4,325.8h0M313.2,311.7h0M322.3,319.2h0M315.6,314.5h0M349.4,332.6h0M344.3,310.8h0M297.9,340.4h0M363.1,312.4h0M329.4,321.9h0M314.9,309h0M312.7,321.1h0M326,320.3h0M300.3,329.9h0M353.8,316.1h0M347.8,310.1h0M304,316.1h0M301.6,311h0M328.9,310.7h0M352.6,326.1h0M350.3,313.2h0M314.7,310.5h0M335,310.4h0M347.7,321.4h0M359,341.6h0M342.1,338.2h0M342.6,330.5h0M342.2,332.2h0M348.5,360.8h0M348.8,325h0M348.9,342.7h0M348.3,355.7h0M319.2,329.5h0M318.8,321.2h0M318.7,334.5h0M346.1,329.8h0M346,330.8h0M346.4,322.3h0M321.1,341.3h0M321,331.7h0M321.2,338.3h0M321,324.7h0M320.6,318.5h0M480.2,272.8h0M387.8,273.7h0M460.5,257.8h0M397.2,286.3h0M375.1,286.7h0M415.1,280h0M419.7,280.2h0M427.9,274.9h0M413,270.9h0M503.1,282.5h0M385.5,284.1h0M455,270h0M494.9,271h0M522,279.8h0M451.5,270.2h0M392.5,283.6h0M515.4,276.5h0M487,273.1h0M514.5,282.2h0M510.9,285h0M459.2,255.3h0M486.4,282.5h0M419.7,265.7h0M396.6,282.1h0M457.3,239.6h0M392.6,285h0M523,282.1h0M483.9,278.6h0M433.5,266.8h0M482.6,263h0M432.6,270.1h0M431.3,261.4h0M415.6,279.7h0M506.6,283.7h0M425.4,274.9h0M391.5,283.8h0M390.7,270.8h0M369.2,288.3h0M447.7,264.5h0M438.4,272.2h0M485.1,271.6h0M489.6,272.1h0M494.1,276.2h0M486.1,276.2h0M447.2,265.3h0M446.4,274.1h0M392.4,257.8h0M423.4,277.9h0M422.3,264.4h0M523.1,283.7h0M370.5,268.8h0M520.7,282.6h0M421.6,262.5h0M406.2,280.1h0M499.1,280.2h0M384.4,283.4h0M390.1,282.3h0M397.2,282.2h0M409.8,277.3h0M472.6,271.4h0M456.1,266.4h0M522.5,284.9h0M420,271.8h0M454.4,266.4h0M430.4,269.7h0M482.9,271.4h0M470.1,271.6h0M472.9,274.1h0M500.7,276.4h0M409.2,276.5h0M466.2,265.5h0M481.3,231.6h0M387,283h0M521.2,272.9h0M437.2,258h0M509.1,276.6h0M500.9,281.7h0M388.4,280.2h0M494.6,280.1h0M414.6,274.3h0M488.2,270.5h0M517,283.7h0M483.1,269.3h0M410.2,245.9h0M444.1,269.9h0M523.9,284.1h0M471.4,256h0M499.3,282.3h0M388.3,283.7h0M509.2,276.8h0M385.2,275.5h0M470.9,266.8h0M485.4,268h0M413.3,282.7h0M473.4,264.8h0M480.1,270.9h0M473.1,271h0M390.2,284.2h0M448.2,264.5h0M445.6,271.3h0M522.7,263.9h0M491.2,257.6h0M404.2,283.3h0M463.5,271.9h0M404.8,277.5h0M406.2,263.6h0M440.3,275.1h0M384.7,258h0M430.4,272.3h0M392.1,280.8h0M489.2,281.6h0M459.8,266.5h0M513.2,279.1h0M439.3,250.4h0M495.3,274.9h0M487.7,282.6h0M438.9,259.9h0M401.9,279.5h0M385.5,281.8h0M453.9,269.4h0M460.7,269.3h0M444.2,266.6h0M481.8,270.8h0M392.6,269.8h0M452,265.1h0M371.1,287.2h0M490.9,273.2h0M438.1,275.1h0M496.6,275.6h0M460,266.8h0M499.2,278.1h0M393.2,255.5h0M463.6,270.5h0M499.6,279.7h0M370.3,276.3h0M477.6,245.8h0M478.5,271.1h0M389.1,266.5h0M502.5,279.3h0M430.9,273.6h0M468.1,270.8h0M442.7,257.1h0M436.9,276.3h0M381.8,285.1h0M469.5,268.9h0M470.5,266.7h0M491.7,278.2h0M514.7,265.9h0M441.6,271.6h0M416.7,270.5h0M422,279.5h0M414.7,282h0M383.4,286h0M424.5,267.1h0M455.6,264.3h0M395,273.7h0M385.2,274.3h0M390.1,280.9h0M444.2,275.1h0M497.9,279.6h0M454.7,259.5h0M413.9,282.8h0M388,275.1h0M426.1,251.6h0M501.3,278.8h0M460.5,269.7h0M442,270.6h0M513.8,283h0M398.1,286.5h0M458.9,269.9h0M408.9,272.8h0M455.9,255.5h0M506.7,280.7h0M443.9,235.1h0M415.9,275.4h0M436.3,272.8h0M481.5,272.5h0M407.5,268.3h0M514.5,257h0M444.9,264.3h0M506.9,283.1h0M426,274.6h0M435.6,271.3h0M382.6,280.2h0M407.5,283.6h0M419.1,260.5h0M506.1,283.5h0M370,287.3h0M437.4,276.4h0M475.1,273.9h0M431.1,272.7h0M517.9,283.6h0M404.5,274.1h0M485.1,269.4h0M421.1,279h0M477.3,266.8h0M521.4,284.3h0M497.3,248.4h0M397.8,276.2h0M500.8,271.2h0M483.4,278.1h0M503.4,278.3h0M412.1,275.1h0M496.9,283.2h0M367,287.4h0M386.3,281.6h0M386.9,285.4h0M408.1,270.2h0M483.9,278.9h0M513.3,284.1h0M505.8,285.2h0M461,266.1h0M479.8,268.7h0M495.3,278.6h0M390.3,262.1h0M474.9,254.2h0M434.1,272.7h0M517.8,283.9h0M460.3,239.4h0M381.3,273.5h0M496,269.2h0M420,275.9h0M523.3,270.5h0M513.6,277.2h0M506.5,277.8h0M460.6,246h0M483,272.6h0M424.6,278h0M504.2,283.1h0M518.6,280.3h0M465.5,264.3h0M514.3,276.1h0M394.1,271.2h0M469.4,269.7h0M394.4,281.2h0M489.8,278.9h0M492.2,278.1h0M493.4,278h0M515.4,283.6h0M488.3,271.8h0M397.9,278.2h0M404.5,285.6h0M501,280.8h0M419.3,277.7h0M449.7,271.6h0M415.2,275.8h0M447.9,269.1h0M485.6,282.3h0M483.2,243.1h0M442.9,275.4h0M400.8,269.6h0M479.6,267h0M395.6,283.6h0M490.1,274.3h0M442.4,273.9h0M515.8,282.5h0M480.2,264.5h0M490.2,280.9h0M438.7,270.6h0M377.5,274.9h0M410.1,282.9h0M372,286.5h0M385.9,282.6h0M429.6,268.2h0M408,284.3h0M462.6,264.7h0M427.6,275.7h0M490.5,277.4h0M426.2,275.3h0M481.1,276.4h0M510.6,279.8h0M468.1,273.7h0M366.8,275.4h0M490.5,282.4h0M523.2,283.9h0M453.4,266.3h0M421.6,265.9h0M520.9,259.6h0M402.1,284h0M474.5,261.8h0M468.1,265.5h0M489.1,276.6h0M383.5,285.1h0M440,269.9h0M382.4,267.1h0M415.8,279.8h0M522.1,280.5h0M505.9,270.2h0M374.9,282.6h0M484,253.9h0M405.4,282.4h0M468.6,266.6h0M445.9,270.7h0M377.1,286.1h0M397.9,285.9h0M511.4,260.5h0M414.2,263h0M494.4,272.4h0M477.3,269h0M472.3,274.8h0M460.2,271h0M466.4,263.2h0M425.4,270.7h0M447.5,273.6h0M477.9,276.4h0M514.7,282.3h0M423.6,269.6h0M495.7,276.6h0M432.1,263.9h0M397.5,278.8h0M472.5,269.6h0M464,272.9h0M397.1,285.8h0M411.4,278.2h0M453.3,265.4h0M423.8,266.7h0M434.9,274h0M431.1,274.6h0M393.8,280.1h0M449.5,272.3h0M412.9,282.1h0M419.3,279.5h0M375.8,280.5h0M371.6,286.9h0M480.9,273.4h0M487.5,280.3h0M456.1,266.3h0M381.9,286.3h0M421.6,277.4h0M430.5,274.1h0M365.2,283.6h0M470.1,238h0M468.2,262.5h0M380,282.6h0M398.7,285.5h0M376.9,283.2h0M389,280.8h0M370.3,285.7h0M418.3,276.3h0M485.1,272.7h0M415.5,282.4h0M433.8,272.4h0M427.7,263.6h0M431.1,271.3h0M504,284.2h0M524,274.1h0M443.7,274.1h0M383.1,283.7h0M480.1,270h0M474.9,267.9h0M451.7,237.8h0M442.5,264.7h0M420.6,259.4h0M495.1,262.2h0M517,283.2h0M381.3,286.8h0M389.7,261.1h0M395.2,280.9h0M373.7,280.2h0M430.1,273.8h0M460.1,266.9h0M374.1,280.4h0M380.2,265.6h0M433.7,270.6h0M460.6,262.4h0M515.1,283.4h0M432.4,257.9h0M483,268.4h0M493.6,276.3h0M373.4,284.6h0M407.2,238h0M368.4,287.2h0M440.2,274.5h0M418.1,272.4h0M381.3,274.1h0M421.4,275.1h0M493.5,263.2h0M406.4,258.7h0M412.6,268.7h0M512.7,279.7h0M379.7,283.7h0M474.5,252.5h0M447.2,259.4h0M422,266.3h0M380.8,280.7h0M418.7,278.1h0M432.5,275.3h0M457,249.9h0M403.3,286.5h0M500.5,259.5h0M464.2,267.7h0M382.4,271.4h0M373.3,279.7h0M499.9,280.8h0M459.4,268.3h0M468.8,269.5h0M407.4,274.5h0M484.2,275.4h0M451.8,262.9h0M462.7,268.7h0M370.6,286.6h0M481.6,275.6h0M398.5,278.4h0M487.1,278.2h0M455.2,262.9h0M407.7,270.9h0M452.3,268h0M498.3,284.8h0M496.9,274.7h0M365.9,286.1h0M385.3,263.3h0M487.7,278.5h0M468.1,265.4h0M502.2,281.3h0M385.3,275.1h0M498.6,280.2h0M495.7,282.2h0M502.4,280.6h0M497.8,283.8h0M449.3,265h0M391.7,284.9h0M427.2,275.2h0M401.5,284.6h0M383.8,272.5h0M464.4,271.8h0M507.3,285.2h0M511,277.3h0M440.1,269.8h0M420.6,279.9h0M381.2,267.4h0M412.8,282.9h0M493.8,281.8h0M426.5,271.2h0M447.4,266h0M505.8,276.3h0M407.6,285.8h0M516.3,278.3h0M515.7,264h0M433.2,268.7h0M480.7,275.6h0M375,287.4h0M455.8,259.9h0M468.6,261.1h0M377.7,274h0M477.4,272.4h0M447.2,269.6h0M420.2,277.7h0M518.3,269.2h0M511.2,244.5h0M374.3,253.9h0M423,271.8h0M435.1,267.6h0M390.8,281.2h0M415.4,269.8h0M510.2,275.8h0M390.8,282.3h0M446.2,272h0M377.1,283.2h0M461.7,272.2h0M381.1,281.9h0M494.2,281.8h0M511.5,281.1h0M386.1,270.1h0M394.8,272.5h0M407.3,285.7h0M464.1,272.4h0M382.5,285.2h0M483.8,278.2h0M498.1,283h0M493.2,280.6h0M502.2,285.4h0M380,286h0M421.5,269.5h0M455,266.3h0M413.7,280.8h0M428.8,267.3h0M474.3,268.3h0M390,283.4h0M524,276.3h0M411.3,275.5h0M495.8,272.8h0M402.2,284.2h0M500,275.5h0M519.2,276.4h0M445.8,263.6h0M380.6,273.4h0M461.3,269.7h0M392.2,284.8h0M424,265.1h0M376.8,284.7h0M392.8,282.6h0M376.2,287.7h0M471.6,270.1h0M510.7,278.6h0M491.4,273.5h0M443.3,272.9h0M476.8,276.2h0M494.9,281.9h0M482.2,278.1h0M479.7,269.3h0M479.8,275h0M507.5,253.5h0M456.3,263.5h0M503.1,284.8h0M487.9,271.8h0M522.3,286.7h0M412.3,274.3h0M458,265.2h0M477.5,271.6h0M456.4,271.3h0M369.9,283.5h0M471.5,268.8h0M444.6,270h0M373.1,285h0M489.7,272.9h0M425.5,271.7h0M403.1,240.9h0M473.5,264.1h0M512.2,282.5h0M450.4,262h0M471.4,270.2h0M418.6,278h0M390.9,284.3h0M445.1,270.7h0M400.7,266.6h0M439.7,263.9h0M504.1,267.7h0M469.3,273.2h0M393.4,283.9h0M459.6,238.6h0M428.5,272.5h0M513.2,273.9h0M475.6,275.5h0M449.9,262.2h0M377.1,287.1h0M390.1,276.2h0M504.4,264.2h0M417.2,267.4h0M453,263.7h0M458.1,266.9h0M433.5,275.5h0M415.2,282.5h0M488.4,272.5h0M416.2,277.3h0M440.5,276.5h0M493.6,271.3h0M453.6,262.1h0M454.7,265.7h0M374,281.1h0M410.1,274.7h0M414.3,273.4h0M509.6,284.1h0M407.4,270.7h0M433.3,260.1h0M384.8,285.9h0M492.9,282.9h0M410.4,278.7h0M434.6,266.5h0M442.7,275.7h0M390,283.7h0M400.3,284.9h0M414.2,268.8h0M479.8,270.1h0M406.9,261.4h0M422.7,279h0M504.2,285.3h0M425.6,273.8h0M515.6,277.3h0M514.8,282.2h0M519.7,284h0M416.4,275.5h0M465.4,260.3h0M384.7,280.8h0M465.2,272.7h0M445.7,264.8h0M369,284h0M480,261.5h0M399.7,269.2h0M421.9,273.3h0M385.5,254.9h0M511.8,274.6h0M521.9,285.9h0M494.9,279.3h0M382.2,280.4h0M508.2,282.6h0M398.2,283.1h0M503.6,272.7h0M372.6,281.1h0M517.6,281.4h0M496.9,267.1h0M431.9,271.2h0M466.5,264.5h0M472.5,270.8h0M478.1,259.3h0M421.5,280h0M377.9,285.6h0M472,270.9h0M428.6,244.2h0M415.9,273.6h0M462.6,261.4h0M483.2,274.6h0M521.6,284.6h0M483.8,280h0M523.7,281.7h0M376.2,287.4h0M468.5,272.1h0M424.3,273.5h0M494.6,274.4h0M486,274.3h0M420.9,274.9h0M380.3,275.2h0M475.1,270.8h0M404.4,285.7h0M403.8,279.9h0M466.9,266h0M505.8,272.6h0M492.2,272h0M492.4,283h0M419.6,280.7h0M429.5,270.8h0M416.8,282.2h0M397.6,251h0M428,276.4h0M436.2,269.4h0M393.9,268.8h0M431.4,261.4h0M463.2,258.6h0M418.9,280.4h0M394.3,246.1h0M396.2,281.8h0M383.2,252.3h0M426.6,273.5h0M507.3,282.3h0M461.4,256.9h0M494.2,284.2h0M510.6,281.4h0M481.4,272.1h0M412.4,282.7h0M366.1,275.1h0M407.6,268.6h0M388.1,284.8h0M367.9,279.9h0M431.7,268.9h0M434.1,274.6h0M456,271.5h0M425,252.6h0M523.1,280.9h0M414.9,280.4h0M452.6,270.8h0M390.8,277h0M384.7,271.8h0M519.6,273.4h0M437.7,263.3h0M448.9,264.9h0M366.9,284.9h0M391.5,280.4h0M455.8,259.5h0M391,257.7h0M442,268.2h0M422.3,271.3h0M450.4,255.7h0M488.1,281.4h0M464,269h0M477.4,268.9h0M513.3,280.5h0M377.1,283.5h0M425.9,270.4h0M398.6,281.2h0M501.5,282.9h0M444.7,272.3h0M494.8,268.7h0M437.3,270.1h0M395.4,282.9h0M427.9,253.4h0M391.7,278.4h0M374.7,285.4h0M469.9,252.5h0M399.7,282.3h0M401.8,270.1h0M404.8,286.7h0M517,275.1h0M398.2,281.7h0M500.1,282.1h0M438.4,265.1h0M368.7,255.4h0M479,266.6h0M422.1,275.3h0M376.9,287.6h0M460,271.4h0M389.1,284.2h0M418.7,272.1h0M430.2,276.1h0M371.2,287h0M458.5,271.6h0M434.8,273.5h0M370.7,285.9h0M372.4,279.8h0M467.5,273.6h0M455.8,264.8h0M372.1,274.5h0M416.3,279.8h0M504.1,282h0M510.5,271h0M509.9,270.7h0M510.5,278.4h0M419.8,270.8h0M419.8,266h0M495.7,270.8h0M495.3,277.1h0M388.8,273.5h0M388.7,228.2h0M389,244.1h0M388.8,246.8h0M388.7,250.1h0M367.2,280.4h0M367.1,278.2h0M366.6,269.1h0M366.7,279.5h0M366.8,266.7h0M367.1,278.8h0M467.5,244h0M466.9,263.4h0M467,264h0M468,240h0M485.8,275.3h0M422.8,268.7h0M391.1,275h0M390.6,279.2h0M391.1,276h0M391.2,269.4h0M390.8,273.9h0M391.1,269.9h0M403.7,271h0M403.4,261.3h0M403.2,264.9h0M442.8,263.5h0M442.5,265.4h0M442.9,264h0M524.9,274.4h0M524.4,277.1h0M524.2,278.3h0M427.2,266.7h0M427.1,263h0M521.2,280.8h0M522.5,280.4h0M468.1,253.7h0M468.3,227.8h0M468.1,265.9h0M468.4,253.6h0M468.2,264.7h0M468.3,220.1h0M387.8,270h0M387.6,276.3h0M388,279.7h0M399.6,317.1h0M486.4,304.1h0M519.8,318.8h0M391.8,314h0M451.1,301h0M391.1,323.6h0M505,321h0M484.7,306.9h0M409.1,309.3h0M458,299.5h0M381.9,356.6h0M522.6,311.9h0M443.1,303.8h0M428.1,309.3h0M476.3,314.7h0M416.8,304.2h0M519.4,332.4h0M430.7,310.3h0M467.6,303.7h0M387.5,338.9h0M404.1,324h0M395.2,318h0M465,319.8h0M520.5,333.8h0M466.9,344.6h0M411.3,337.8h0M458,299.6h0M441.3,305.2h0M390.1,317.8h0M494.2,325.8h0M504.7,321.2h0M395.6,322.6h0M430.2,314h0M475.4,303.1h0M409,327.9h0M376.5,315.2h0M441.9,301.9h0M389.1,322.2h0M375.4,321.6h0M474.4,311.2h0M468.3,299.7h0M514.9,322.7h0M497.2,319.2h0M497.9,306.4h0M501.5,321.5h0M442.2,300.5h0M420.8,307.4h0M387.4,323.4h0M399.1,330.2h0M490.5,318.9h0M380.2,313.1h0M513.2,311.1h0M514.2,318.1h0M397.6,316.6h0M492.4,331.7h0M407.9,315h0M486.6,308.5h0M496.8,320.9h0M388.2,320.6h0M405.5,327.7h0M517.7,311h0M453.3,303h0M392.1,333.3h0M404.7,313.6h0M502,338.4h0M404.2,315.7h0M401.7,328.2h0M458.6,299.6h0M484.8,316.4h0M520.9,311.7h0M439,307.7h0M430.8,310.6h0M451.3,300.7h0M509.7,316.2h0M385.2,314.3h0M455.7,301h0M429.6,303.3h0M450,309.2h0M513.5,325.9h0M408.2,340.8h0M518.2,313.3h0M450.1,299.8h0M405.6,333.8h0M366.5,319.9h0M412.4,308.2h0M450,302.3h0M397.1,344h0M434.8,304.3h0M381.4,317.6h0M458.9,304.4h0M471.1,305.2h0M442.7,300.6h0M380.1,316.6h0M371.2,311.5h0M465,312h0M508.9,309.2h0M495.4,307.4h0M395.7,320.3h0M457,305.9h0M511.4,321.6h0M422.9,311.9h0M394.6,318.8h0M393.3,313.3h0M379.7,329.9h0M423.1,313.9h0M391.8,313.8h0M504.8,317h0M398.1,312.9h0M460.5,322h0M474.1,329.3h0M430.1,303.1h0M380.8,351.4h0M399.4,361.5h0M467,305h0M433,301.7h0M510.2,320.4h0M523.7,319.8h0M471.2,310.6h0M365.2,328.2h0M422.2,303.6h0M483.3,306.7h0M420,308.2h0M413.7,309.8h0M480.6,310.4h0M427.5,320.3h0M406.3,313.8h0M493.2,335.1h0M518.9,356.7h0M519.1,327.8h0M424.1,316h0M519.8,310.5h0M421.3,303.4h0M510.1,314.5h0M384.6,345.7h0M411.5,310.6h0M435.1,308h0M415,309.1h0M484.1,324.2h0M371,312.9h0M497.4,310.2h0M437.1,310.1h0M397.9,316.1h0M517.3,309h0M410.7,308.6h0M374.3,317.7h0M449.9,313.4h0M406.8,322h0M388.2,313.9h0M374.9,315.3h0M417.6,307.3h0M432.6,300.6h0M510.7,311.9h0M372.3,336.5h0M481.3,303.6h0M425.1,303.1h0M509,339.2h0M373.6,312.2h0M430.8,309.8h0M497.8,326.9h0M514.2,315h0M483.7,331h0M483.6,316.1h0M497.4,315.8h0M410.8,308.8h0M487.2,304.2h0M491.3,308.8h0M454.1,305.7h0M514.3,309h0M402.6,324.7h0M449.4,302.1h0M446.9,311.5h0M426.7,304.7h0M462.1,309.4h0M426.7,316.5h0M509.7,334.1h0M521.1,327.9h0M398.9,322h0M390,317.3h0M467,300.3h0M401.9,328.7h0M412.2,322.8h0M478.3,307.8h0M499.5,309.6h0M387.3,314.8h0M420.1,305h0M447.8,316.2h0M449.1,321.3h0M420.6,313.2h0M512,316.1h0M472.8,322.3h0M412.9,316.4h0M480.5,301.9h0M429.8,316.5h0M507.6,311.9h0M407.6,320.4h0M374.7,320.7h0M474.2,310.5h0M413,308.2h0M457,332.2h0M430.5,306.3h0M487.6,320.3h0M478.8,302.1h0M374.7,312.7h0M508.9,310.2h0M475.6,302.8h0M507.2,314.2h0M500,345.3h0M468.9,312.5h0M524.5,313.2h0M372.5,326h0M458.6,303.2h0M473.3,316.6h0M419.6,303.5h0M522.8,350.2h0M380.4,322.3h0M505.3,310h0M492.2,305.6h0M477.1,316.7h0M484.8,309.7h0M428.1,334.1h0M434.9,307.6h0M477.5,303.2h0M418.3,305.1h0M419.5,308.1h0M442.8,303.6h0M374.5,316.8h0M430.6,304.5h0M407.5,320.8h0M516.3,312.8h0M442.2,312.7h0M513.1,309.5h0M439.7,331.3h0M450,302.4h0M425.3,310.9h0M472.2,308.5h0M481.5,302h0M490.7,322.8h0M425.6,307.1h0M518.8,312.6h0M491.4,308.8h0M451.9,311.5h0M511.4,308.4h0M503.6,336.3h0M370.9,316.3h0M506.3,310.9h0M366.4,318.7h0M522.9,316.5h0M503.7,314.9h0M462.6,299.5h0M520.6,338.7h0M495.8,306.8h0M369.7,314.8h0M499.8,316.1h0M374.1,321.9h0M433.7,337.9h0M430.1,310.3h0M451.5,308.1h0M516.7,318.9h0M501,308.3h0M395.8,325.5h0M473.3,310.3h0M422.4,307h0M431.9,344.3h0M452.5,303.1h0M445.1,302.4h0M381.8,327.5h0M434.8,315.8h0M493.6,310.2h0M372.7,311.6h0M373.7,315.8h0M392.4,315.7h0M399.3,323.5h0M485.3,314.1h0M485.8,307.4h0M421.8,304.2h0M374.8,319.7h0M519.4,315.5h0M439.4,305h0M424.7,306.4h0M517.1,308.7h0M450.3,302.3h0M404.7,315.6h0M382.1,355.1h0M434.7,299.8h0M452.6,300.5h0M501.4,313.7h0M411.6,310h0M398.3,317h0M461.4,300.9h0M452.4,303.1h0M483.1,306.5h0M433.7,302.5h0M405.3,314.6h0M523,323.7h0M411.7,310.7h0M436.2,306.4h0M420.5,313.6h0M483.6,305.8h0M481.3,303.4h0M498,306.2h0M457.7,310.7h0M482.4,305.2h0M470.5,317.8h0M429.2,305.4h0M436,312.8h0M400.9,323.5h0M484.5,312.6h0M447.7,318.7h0M386.2,312.8h0M448.3,299.7h0M406,312.3h0M516.4,313.4h0M406.4,314.6h0M394.6,324.2h0M394.1,323.9h0M454.5,302.4h0M501.1,321.4h0M370.3,317.8h0M470.8,310.3h0M431.4,314.2h0M521,310.5h0M508.4,311.4h0M403.3,320.9h0M490.8,308.1h0M399.4,317.7h0M371,321.9h0M443.7,319.2h0M444.3,307.6h0M393.3,365.1h0M486.2,305.6h0M374.2,313.3h0M463.3,301h0M405.9,315.5h0M419.3,332.3h0M482.1,306.2h0M376.2,312.7h0M378.5,318h0M472,301h0M488.1,311.1h0M465.7,312.4h0M479.2,315.6h0M448.5,310.5h0M390.3,323h0M368.8,331.1h0M489.5,337.2h0M500.1,329.6h0M520.1,324.9h0M429.4,315.4h0M390.1,332.2h0M417.7,334.2h0M386.5,319.5h0M468.2,300.7h0M464.4,305.3h0M372.4,319.7h0M435.2,301.5h0M497.2,319.2h0M469.7,309.9h0M390.4,312.1h0M504.2,318.9h0M442.5,308.5h0M431.8,308.7h0M435.7,311.4h0M395.8,312.4h0M501.5,312.1h0M414.3,323.8h0M369.6,312.1h0M416.6,311.8h0M449.3,319.7h0M468.1,335.9h0M411.7,308h0M459.3,314.3h0M398.9,327.2h0M482.5,308.7h0M516.5,313.5h0M426.6,315.7h0M367.9,327.3h0M469.9,305.9h0M505.6,309.3h0M403,336.2h0M511.5,314.3h0M516.3,311.9h0M474.8,306.7h0M504.4,312.7h0M437.8,315.7h0M429.8,304.8h0M442.4,299.1h0M393.4,321.7h0M498.6,309.8h0M374.6,345.4h0M437.6,302.8h0M419.5,311.9h0M513.4,316.2h0M466.1,303.4h0M412.4,309.3h0M507.6,333.7h0M380.9,314.8h0M472.2,312h0M416.3,319.8h0M455.4,332.2h0M378.3,322.9h0M403.5,318.7h0M418.1,322.2h0M386.2,320.3h0M416.6,323.8h0M404.7,313.5h0M406.5,321h0M380.3,317.3h0M505.2,308.8h0M485,307.6h0M387.6,337.3h0M391.4,315.8h0M423.4,309.6h0M391.5,313.5h0M427.6,309.3h0M494.2,327.1h0M416.6,334.4h0M415.1,339.4h0M486.8,314.2h0M449.8,303.6h0M455.8,299.6h0M517,315h0M441.6,313.3h0M501.8,311.3h0M514.5,316.7h0M392,321.5h0M426.8,326.2h0M469.4,303.7h0M471.2,307.4h0M445,299.1h0M407.1,328.4h0M479.3,302.5h0M405.6,312.4h0M478.4,310.1h0M449.1,358.9h0M470.2,305.3h0M409.7,312.4h0M497.7,315.3h0M431.8,303.7h0M384,327.5h0M429.6,303.7h0M499.8,306.1h0M401.6,312h0M368.2,320.9h0M416.7,315.6h0M395.7,313.5h0M482.5,304.6h0M453.2,299.7h0M514.4,320.7h0M374,341.9h0M453.8,313.2h0M499.9,312.9h0M438.3,307.3h0M463.2,300.2h0M474.4,306.8h0M475.6,304.9h0M416.5,310.4h0M426.7,323.7h0M405.3,320.1h0M469.1,300.4h0M498.4,328.6h0M453.4,308h0M420,309h0M484.3,314h0M383.8,313.1h0M434.4,329h0M398.2,315.2h0M429.1,308.8h0M407.5,324.2h0M382.3,314.6h0M443.7,342.7h0M396.4,312.3h0M401.2,312h0M380.6,314.7h0M410.7,337.2h0M391.2,336.2h0M456.1,311.5h0M385.3,350h0M430.2,303.6h0M505.6,309.2h0M411.9,308.9h0M459.5,302.7h0M445.4,321.1h0M385.4,312.5h0M496.8,313.7h0M410.5,313.1h0M430.2,300.6h0M417.8,306.8h0M383.9,319.1h0M432.9,301.6h0M430.9,317.5h0M445.2,313.1h0M444.8,311.1h0M444.5,306.3h0M467.9,308.1h0M424.5,325.9h0M425.2,321.6h0M424.8,315.6h0M425,325.3h0M424.7,316.7h0M365,343.6h0M365.1,336.5h0M364.9,321.4h0M365.4,345.5h0M365,338.2h0M365,334.1h0M444.9,315.9h0M445.1,329.7h0M444.9,333.1h0M378.5,347.9h0M378.7,325.9h0M470.1,316h0M469.7,320.1h0M470,313.4h0M469.9,306.1h0M424.7,316.9h0M423.9,358.5h0M424.4,351.6h0M424.3,321.2h0M424.2,325.8h0M424.1,358.9h0M424.3,337.9h0M424.3,354.2h0M382.6,320.3h0M382.5,331.6h0M382.7,335.2h0M382.4,325.2h0M382.1,323.6h0M382.6,335.7h0M409.7,320.2h0M410.1,316h0M409.2,316.8h0M397.2,337.5h0M397.6,334.8h0M397.6,326.2h0M397.1,349.5h0M397.4,324.6h0M464,309.5h0M463.9,322.2h0M464.1,336.8h0M464,354.7h0M464,347.4h0M463.8,347.5h0M463.9,361.4h0M464.4,346.7h0M422,313.7h0M479.1,310.1h0M478.9,306.8h0M479.1,332.5h0M479.2,307.7h0M478.6,309.6h0M479.2,320.4h0M498.1,318.7h0M498.5,315.3h0M417.7,319.3h0M417.7,329.8h0M466.1,329.3h0M466.1,319.7h0M466.3,327.1h0M466.4,330.7h0M466.1,335.2h0M369.4,325.5h0M369.2,357.2h0M368.9,362.7h0M368.9,362.7h0M369,358.4h0M369.1,339.3h0M369.1,363.7h0M368.7,351.8h0M369.1,320.7h0M433.4,306.4h0M470.2,339.8h0M470.6,311.3h0M521.2,328.6h0M521.9,315.7h0M521.8,346.7h0M521.9,328.7h0M521.5,341.6h0M521.6,343.6h0M521.7,317.1h0M367.4,352.1h0M367.2,332.7h0M367.1,359.7h0M367.6,317.8h0M384.8,339.9h0M429.6,354.5h0M429.3,320.6h0M429.5,326.5h0M429.4,348.2h0M429.5,311.9h0M417.9,314h0M417.5,355.8h0M418.1,345.7h0M417.7,328.9h0M389.9,327.7h0M389.8,322.2h0M434.1,332.3h0M434.7,329.9h0M434.6,332.8h0M434.7,310.7h0M434.6,336.7h0M434,320.9h0M474.9,310.2h0M475.3,309.6h0M516.1,324.6h0M516.1,324.1h0M516.4,326.1h0M516.5,315.5h0M516.4,318.4h0M530.5,272.2h0M536,283.1h0M560.8,278.5h0M536.2,283.3h0M536.3,274h0M533.6,266.9h0M543.2,278.1h0M535.5,273.8h0M548.5,282.8h0M527.6,283.9h0M526.7,285.2h0M547.5,282h0M550.5,276.4h0M553.6,272.1h0M525.9,287.3h0M526.2,277.5h0M531.2,281.4h0M536.1,279.6h0M542.5,269.4h0M526,285h0M537.1,278h0M541,284.9h0M542.7,275.7h0M559.6,276.9h0M536.2,286.1h0M531.5,277.9h0M529.4,284h0M560.2,281.1h0M544.1,278.6h0M546.2,273.7h0M526.9,274.8h0M546.3,279.6h0M544.3,280.3h0M543.2,284.2h0M556.1,281.7h0M552.8,281h0M545.3,269.1h0M562.3,267.6h0M535.5,277.2h0M563.8,261.4h0M548.8,278.3h0M564.9,275.7h0M528.7,273h0M561.9,266.4h0M537.1,279.9h0M525.2,282.6h0M564.2,271.8h0M548.4,280.8h0M550.4,276.3h0M557.9,278.3h0M526.5,279.6h0M538.1,282.4h0M530.5,286.7h0M529.6,283.7h0M525.1,281.9h0M539,270.8h0M527.2,277.7h0M542.9,283.8h0M526.3,283.4h0M563.7,270.8h0M531.3,282.3h0M546.6,272.1h0M562.1,275.8h0M559.7,274.6h0M542.8,283.9h0M549.6,275.6h0M542.3,276.3h0M535.6,267.7h0M549.4,280.8h0M552.3,270.9h0M540.6,258.1h0M555.4,278.9h0M552.1,268.7h0M548,277.1h0M544.6,279.5h0M539.6,281.1h0M558.1,273.9h0M547.6,281h0M548.7,278.1h0M526.2,273.9h0M535.5,250.6h0M556.1,279.9h0M544.4,269.3h0M555.4,280.5h0M529.2,262.8h0M562.3,281.4h0M558.4,262.5h0M556.7,275.5h0M533.9,285.5h0M561.4,277.5h0M546.1,281.9h0M552.4,278.2h0M528.2,271.9h0M532.2,281.1h0M542.7,277.8h0M561.9,276.6h0M556.1,279.8h0M553.6,277.5h0M555.2,273.1h0M528.5,273.1h0M539.1,285.1h0M553,272.3h0M534.5,264.8h0M551,262.7h0M560.7,261.2h0M546.9,250.8h0M526.1,281.5h0M551.9,279.3h0M556.3,273.5h0M530.6,277.8h0M528.2,285.4h0M553.6,281.3h0M553.3,282h0M556.7,280.6h0M525.9,277.9h0M542,266.7h0M525.2,287.5h0M543.7,278.1h0M563.4,252h0M538.1,280.6h0M549.1,279.3h0M554.3,281.4h0M529.4,285.6h0M542.8,277.9h0M536.9,266h0M556.6,257.2h0M526.5,280.5h0M555.9,281.3h0M543.3,282.2h0M546.7,273.6h0M550.3,280.4h0M527.5,282.4h0M527.3,275.6h0M526.9,285.7h0M529.8,284.7h0M547.1,282.5h0M553.9,262.6h0M564.6,260.9h0M564.4,273h0M564.8,274.4h0M540.6,268.7h0M540.3,278.1h0M540.4,275.6h0M540.7,272.6h0M541.2,278.9h0M541.1,275.5h0M541.4,273.2h0M538.6,262.3h0M538.5,262h0M539.1,261.4h0M538.8,265.4h0M560,273.7h0M559.9,267.6h0M530.1,312.4h0M561.8,314.4h0M525.6,326.2h0M536.4,325.4h0M546.5,321.3h0M547.7,318.9h0M546.5,353.8h0M536.2,312.3h0M559.3,322.3h0M528.7,315.2h0M547.6,325.1h0M535.6,325.3h0M532.2,330.6h0M537,314.5h0M558.2,326.8h0M553.2,321.4h0M556.9,314.9h0M528.8,317.8h0M560,311.4h0M532,312.6h0M560,318.3h0M552,316.5h0M535.4,334.5h0M535.4,322.5h0M549,320.7h0M565,311.4h0M548,312h0M535.8,315.6h0M532.7,320h0M531,313.6h0M564.5,314.3h0M530.3,323.6h0M543.9,315.3h0M551.4,325h0M557.5,312.8h0M546.4,318.8h0M526,316.4h0M545.7,319.4h0M533.2,339.4h0M561.1,333h0M528.1,317.7h0M545.7,312.5h0M556.6,320.9h0M556.5,311.2h0M562.5,340.5h0M544.4,313.6h0M547.5,311.1h0M560.1,316.1h0M558.5,358.8h0M551,318.8h0M555.6,319.1h0M560.6,314.6h0M549.7,316.4h0M557.6,356.4h0M538.3,321h0M540.3,315.7h0M562.4,335.4h0M555.3,316.4h0M559.1,326.3h0M534.1,316.6h0M546.9,317.8h0M538.5,321.8h0M557.8,324.2h0M528.5,315.1h0M535.5,312.1h0M548.1,336.7h0M547.7,317.9h0M545.7,326.7h0M553.7,329.5h0M540.5,326.9h0M556.5,313.1h0M543.9,322.5h0M557.8,322.8h0M528.5,349h0M526.6,329.9h0M527.7,312.3h0M539.4,329.3h0M537.8,311.4h0M545.1,324h0M529.5,311.1h0M554.7,315.5h0M537.5,328h0M529.1,334.6h0M548.6,311.3h0M549.9,322.8h0M539.9,319h0M559.1,311.5h0M526.1,314.6h0M535.1,317.3h0M554.5,313.3h0M539.3,312.6h0M553.8,320.7h0M551,316.5h0M526.6,324.5h0M530.3,312.8h0M564.3,314h0M539.2,323.9h0M543.7,313.7h0M528.7,319h0M536.9,319.3h0M550.4,336.2h0M543,333.2h0M555.1,312.5h0M527.7,321h0M559.7,315h0M531.9,313.5h0M536.4,314.7h0M533.8,317.1h0M551.9,312.1h0M528.7,311.7h0M543.9,315.6h0M536.7,324.6h0M546.2,315.5h0M533.8,336.8h0M540.7,341h0M563.7,318.7h0M555.5,319.7h0M557.2,315.2h0M531.1,334.3h0M552.1,313h0M552.4,320.9h0M537.1,321.5h0M544.1,320.3h0M563.8,315.3h0M526.5,346.7h0M558,320.4h0M528.2,327.2h0M541.4,342.8h0M541.2,323.2h0M554.2,319.2h0M559.7,338h0M536.6,327.5h0M548.7,319.8h0M546.9,317.6h0M525.6,334.7h0M553.1,339.9h0M539,311.3h0M526.2,318.3h0M535,345.1h0M536,343.2h0M540.1,313.7h0M539.5,316.3h0M529.9,315.8h0M538.2,316.7h0M561.3,329.1h0M562.1,320.6h0M556.1,321h0M543.1,334.4h0M538.8,320.1h0M547.3,327.3h0M550.2,321.7h0M527.8,335.1h0M555.5,319.5h0M536.5,316h0M555.7,314.2h0M539.4,318.8h0M539.5,323.2h0M542.4,318.4h0M552.5,315.5h0M554.2,315.9h0M540.2,319.8h0M543.5,325.7h0M525.4,311h0M532.9,319.4h0M563.8,310h0M525.2,316.1h0M558.5,322.2h0M530.6,316.7h0M551.3,325h0M559.5,314.5h0M552,324.1h0M533.8,321.5h0M530.7,324.7h0M540.8,328.1h0M556.7,315.5h0M546.9,315.1h0M551.2,326.8h0M532.6,320.9h0M546.8,349.1h0M557.5,331.4h0M550.2,333.5h0M547.1,312h0M562.9,324.6h0M557.7,313h0M547.2,311.6h0M557.8,315.1h0M551,311.7h0M539,313.2h0M540.2,320.4h0M546.2,312.1h0M545.4,311.1h0M542.7,313.6h0M548,315.2h0M550.8,322.6h0M540.6,316.3h0M552,331h0M551,312.5h0M562.5,343.1h0M531.4,329.7h0M539.6,325.5h0M545.2,324.9h0M549.4,359.4h0M549.9,321.6h0M544.2,313.9h0M530.7,333.7h0M540.3,312.6h0M556.1,318.3h0M539.9,319.7h0M564.8,312.7h0M554.7,318.7h0M534,317.8h0M563.6,310.3h0M546.4,313.4h0M531,311.1h0M541,322.7h0M539.4,321.7h0M542,319h0M546.5,317.7h0M553.6,325.5h0M542.1,325.8h0M557.8,315.8h0M562.6,340.2h0M545.9,311.7h0M547,312.3h0M546.2,317.8h0M540.8,331.4h0M557,318.8h0M533.4,319h0M550.8,320h0M559.5,313.3h0M530.6,324.6h0M564.2,311h0M545.4,314.5h0M549.8,316.2h0M560.2,334.1h0M552.8,318h0M541.7,312.1h0M531.5,314.9h0M550,324.7h0M526.3,318h0M553.2,325.9h0M552.5,319.4h0M526.2,327.1h0M565,317.5h0M534.4,346.8h0M542.4,311.7h0M556.4,366.4h0M546.8,324.1h0M530.7,312h0M546,319.1h0M529.1,319.8h0M535,320.9h0M535.5,320.6h0M534.8,324.5h0M535.3,321.1h0M535,322.3h0M549.5,326.2h0M559.5,335.3h0M549.9,356.5h0M549.7,337.5h0M550,352.2h0M549.9,341h0M549.7,322.7h0M549.8,319.9h0M552.8,333.1h0M552.6,355.2h0M552.7,337.9h0M552.2,346.3h0M552.6,339.5h0M552.7,348.3h0M552.9,321.1h0M552.5,322h0M526.1,320.9h0M526.1,319.9h0M526.2,323h0M526.2,318.1h0M545.5,319.2h0M563,327.6h0M563.2,321.9h0M558.8,333.4h0M558.9,323.1h0M545.2,337.2h0M545.1,328.5h0M545.1,323.8h0M545.3,349.9h0M525.5,323h0M525.6,322.9h0M525.5,326.2h0M556,366.1h0M556.2,318.6h0M556.6,365.4h0M555.9,335.4h0M556.2,339.5h0M548.2,317.3h0M547.6,343.1h0M539.4,327.5h0M539,332h0M560.8,349.9h0M560.7,317.1h0M553.1,332.1h0M594.3,272.3h0M596.3,270.5h0M578.6,253.3h0M580,256.4h0M599.9,268.4h0M588.6,270.8h0M570.8,276.7h0M575,264h0M571.2,255.6h0M583.9,274.1h0M567.8,264.5h0M599.4,263.4h0M599.8,273.4h0M596.8,276.4h0M565,278.1h0M565.6,279.3h0M582,264h0M590.7,271.9h0M567.2,270.3h0M587,269.4h0M584.1,265.8h0M575,268h0M574.5,246.4h0M568.3,268.5h0M578.9,260.1h0M583.6,269.3h0M590.3,274h0M581.8,243.8h0M584.9,268.9h0M571,279h0M570.5,275.3h0M583.2,265.1h0M592,262.8h0M588.1,257.6h0M599,277.4h0M581.5,260.7h0M599.7,268.1h0M579.5,258.8h0M579.8,272.6h0M572.7,275.7h0M578.2,267.5h0M573.4,268.9h0M576.7,265.1h0M586.6,268.7h0M595.2,270.3h0M595,272.2h0M577,270.1h0M576.5,262.1h0M585.4,270.2h0M576.8,260.4h0M565.4,271.8h0M570.9,316.4h0M590,307.1h0M582.5,301.1h0M576.9,315.5h0M579,301.3h0M598.4,316.6h0M574,304.7h0M581.8,303.2h0M582.8,319.8h0M575,306.4h0M586.7,323h0M565.5,315.3h0M569.7,312.9h0M581.2,315.3h0M574.3,304.5h0M596.1,308.9h0M585.1,302.4h0M567.3,310.1h0M583.5,302.5h0M585.1,300h0M572.3,344.7h0M580.6,306.7h0M566.6,327.9h0M582.8,304h0M583.2,303.9h0M589.8,301.9h0M591.1,327.2h0M589.6,314.4h0M575,312.2h0M569.9,307.1h0M589.5,302.1h0M566.7,314.9h0M565.4,347.2h0M583.3,303.4h0M567.7,321.9h0M589.1,307.8h0M574.5,307.6h0M574.8,316.7h0M585.1,300h0M575.1,304.2h0M573,339.2h0M578.6,305h0M575.6,306.9h0M595.4,300.8h0M573.9,312.6h0M591.6,315h0M571.4,305.9h0M594.6,312.7h0M576.6,318.4h0M599.6,307.9h0M573.2,304.8h0M569.1,319.6h0M580.8,336.7h0M595.7,298.8h0M572.4,313.4h0M591.7,303.1h0M575.6,301.2h0M579.6,304.1h0M598.7,314h0M579.2,301.3h0M578.3,329h0M587.2,319.5h0M578.8,301.6h0M570,318.6h0M599,307.4h0M595.1,307.3h0M585.6,304.3h0M573.8,305.3h0M578.1,302.1h0M595,320.3h0M571.9,310.1h0M572.7,306.6h0M599.5,325.9h0M566.7,346.3h0M581.2,302.6h0M575.7,306.1h0M578.1,308.1h0M568,335.4h0M576.9,302.5h0M586.2,300.8h0M599.4,299.2h0M584.8,302.3h0M585.1,303h0M574,310.9h0M579.6,315.5h0M578.9,302h0M578.2,314.9h0M581.2,310h0M584.8,303h0M596.1,311.8h0M566.2,311h0M599.6,302.2h0M582.7,308.5h0M586.3,323.7h0M587.7,310h0M587.2,306.9h0M569,319.2h0M566,312h0M577.2,303.4h0M588.4,306.5h0M587.7,311.7h0M589.9,318.4h0M598.8,312h0M583.8,313.5h0M573.8,306h0M577.1,310.4h0M577.2,302.6h0M595.5,299.6h0M577,306.2h0M570.7,313.4h0M594.8,314.8h0M565.4,314.8h0M595.1,306.7h0M565.8,330.3h0M591.8,300.6h0M591.1,302.3h0M586.2,301.8h0M576.8,314h0M580.7,303.2h0M595,308.7h0M582.4,301.4h0M589.7,312.9h0M576.2,301.9h0M579.3,352.7h0M584.1,322.1h0M598.3,324.9h0M569.9,309.5h0M566.1,320.2h0M571.2,338.2h0M573,326.4h0M567.4,321.1h0M597.4,300.3h0M576.4,305.7h0M597.8,299h0M588.5,304.9h0M596.1,301.6h0M591.9,308.8h0M586.5,307.5h0M578.9,306.9h0M588.2,305.5h0M597.5,304.6h0M567.6,333.7h0M593.2,301.2h0M581.5,300.7h0M567.7,313.4h0M596.5,302.3h0M589.3,319.9h0M593.4,313.8h0M586.5,318.3h0M581.9,317.6h0M596.1,308.2h0M568.2,317.8h0M574.3,302.8h0M566.3,311.6h0M572.8,310.3h0M575.5,301.8h0M589.3,312.7h0M592.4,315.6h0M566.8,308.7h0M575.2,309.2h0M570.5,306.9h0M583.1,309.9h0M579.2,310h0M573.3,307.2h0M565.7,322.9h0M589.6,308h0M578.7,301.9h0M569.2,313.5h0M591.9,299.6h0M593.2,300h0M566.9,310.1h0M588,300.2h0M583.8,312.2h0M580.2,311h0M573.5,312.6h0M598.6,299.4h0M596.8,315.5h0M566.2,318.8h0M578.9,309h0M589,311.8h0M572.6,320.1h0M595,316.8h0M591.2,315.2h0M583.5,312.3h0M584.5,302h0M567.3,317.1h0M593.2,303.3h0M592.3,306.4h0M588.9,313.1h0M592.9,306.9h0M579.9,322.9h0M596,320.6h0M569.7,317.2h0M572.9,306.3h0M569.6,323.5h0M582.8,300.6h0M578,314.6h0M591,304h0M570.9,306.5h0M595.9,314.5h0M585.2,333.3h0M579.4,302h0M583.6,301.6h0M572.4,306.3h0M579,301.5h0M593,299.1h0M597.3,301.8h0M573.2,303.5h0M573.3,310.1h0M577.1,302.8h0M569,316.7h0M575,315.9h0M567.7,312.8h0M570.6,308.9h0M581.4,305.6h0M590.8,316.8h0M587.7,308.3h0M589.7,307.9h0M575.4,307.4h0M570.9,306.6h0M565.5,333.7h0M581.2,303.1h0M581.4,327.5h0M575.2,318.4h0M574.3,322.4h0M586.7,300.3h0M594.8,300.3h0M576.8,303.7h0M595.7,303.7h0M577.1,312.5h0M573.9,307.7h0M576.6,307.1h0M579.2,317.7h0M576.9,318.6h0M597.8,309.5h0M598.7,307.3h0M579.7,315.8h0M592.5,301.8h0M586.7,307.9h0M586.6,318.7h0M586.7,318.3h0M593.6,319.4h0M593.9,321.4h0M582.1,316.2h0M581.9,319h0M581.7,306.8h0M582.3,309.9h0M591,352.6h0M591.1,336.9h0M591.4,335.6h0M591.3,344.4h0M591.2,329.2h0M592.3,308.8h0M592.2,313.7h0M592.6,314.4h0M595,319h0M594.6,323.7h0M594.9,323.5h0M594.6,311.9h0M595.4,323.5h0M595.1,314.2h0M595.4,316.9h0M599.2,315.2h0M598.8,320.6h0M572.2,327.3h0M572.2,314.8h0M581.8,315.1h0M581.6,309.6h0M581.8,312.1h0M582,314.2h0M597.5,322.2h0M597.6,366.9h0M597.2,358.9h0M597.2,366.3h0M597,346.1h0M585.3,308.9h0M585.6,311.5h0M585.9,316.1h0M599.9,313.8h0M600.1,343.2h0M600,350.3h0M599.9,334.3h0M600.3,308h0M585.4,340.9h0M585.3,327.2h0M585.4,306.2h0M573.6,338.2h0M573.2,327.7h0M573.4,343.8h0M573.6,361.8h0M573.6,344.1h0M597.8,305.8h0M567.5,326.4h0M568.1,317.2h0M590.3,357.8h0M590.3,319.7h0M574.8,322h0M574.8,322h0M574.9,311.6h0M574.5,320.4h0M596.1,307.6h0M595.9,311.8h0M678.2,281.6h0M610.8,272.5h0M621.1,272.3h0M602.3,271.2h0M632.9,255.2h0M633.7,277h0M671.3,268.9h0M607.1,254.1h0M661.7,271.4h0M609.4,276.9h0M644.2,276h0M680.6,283.4h0M612.6,265.5h0M615.1,263.3h0M606.8,273.6h0M608.1,276.4h0M614.5,262.7h0M641.7,276.4h0M616.5,271.9h0M661,258.7h0M645.2,272.1h0M652.1,275.8h0M609,267.6h0M633.5,270.3h0M642.5,272.3h0M634.5,262.7h0M610.8,267.2h0M665.1,268.1h0M647.9,260.6h0M645.5,271.9h0M629.7,261.9h0M656.2,273.8h0M650.4,266.5h0M663.2,252h0M638,251.8h0M613.4,268.5h0M614.4,275.2h0M644,266.4h0M672.9,258.6h0M662.2,266h0M634.8,263.8h0M669.9,266.2h0M610.4,269.3h0M632.7,271.2h0M679.6,275.4h0M614.9,270.9h0M664.8,264.9h0M630.8,265.8h0M603.2,273.3h0M627.4,275.6h0M674.4,273h0M667.9,265.5h0M631.5,275.2h0M656.6,271h0M676.4,268.9h0M602.6,269.2h0M623.8,273.2h0M616.4,253.6h0M648.6,273.5h0M657.8,272.5h0M670.8,273.5h0M641.3,266h0M639.4,258.6h0M655,263.4h0M644.7,265.5h0M681.1,272.9h0M600.8,278.2h0M624.8,255.4h0M600.9,277.5h0M680.6,284.9h0M649,265.7h0M644.6,275.2h0M667.9,265.6h0M645.1,268.1h0M616.9,275.2h0M636.5,271.7h0M658,270.2h0M676.1,270h0M677.5,261.7h0M647.6,261h0M602.7,271.1h0M651,272.7h0M647.9,262.4h0M614.6,274.4h0M635.2,270.7h0M676.8,261.7h0M610.3,271.8h0M659.7,254.4h0M677.3,269h0M600.9,261.7h0M610,274.7h0M660.8,245.2h0M612.1,271.1h0M639.1,260.4h0M612.9,270.7h0M669.3,266.4h0M641.6,277.2h0M669.8,271.3h0M666.8,268.8h0M639.9,267h0M612.8,272.6h0M636.5,267.6h0M602.7,276.6h0M620.7,270.9h0M620.2,267.4h0M657.6,271.2h0M617.7,269.5h0M679.1,268.2h0M678,280.9h0M623,266.4h0M615.7,262h0M673.7,259h0M602.2,252.2h0M641.6,273.8h0M648.6,264.9h0M661.8,254.2h0M667.3,266.9h0M634,265.5h0M640.1,276h0M624.3,273h0M675.1,263.3h0M667.3,255.9h0M650,272.1h0M629.7,276.6h0M630.4,269.6h0M627.1,271.8h0M620.7,264.1h0M641.2,273.5h0M609,266.2h0M619.2,272.8h0M656.1,267.1h0M654.7,272.7h0M620.6,275.6h0M622.8,266.6h0M644.7,267.6h0M654.7,273.8h0M644.1,275.8h0M666.7,267.8h0M675.3,263.9h0M614.6,275.6h0M624.7,259.8h0M680.6,277.4h0M612.4,273.4h0M670.8,267.1h0M606.8,264h0M681,286.2h0M621.6,266.6h0M659.4,267.3h0M611.3,273.9h0M645.4,268.8h0M612.3,266h0M677.6,277.9h0M677.3,280.4h0M664,262.9h0M679.8,264.8h0M679.3,273h0M675.7,271.7h0M675.8,264.3h0M614.7,255.1h0M615.1,245.4h0M614.7,262.6h0M614.8,241.9h0M614.8,248.8h0M667.1,249.4h0M666.8,251h0M654.1,263h0M671.8,258.6h0M671.9,257.3h0M671.5,265.4h0M605.5,306.7h0M608.9,302.5h0M663.1,310.9h0M613.9,304.9h0M608.4,301.1h0M661.2,325.6h0M606.6,299.4h0M637.9,315.4h0M659.5,307h0M631.5,326.7h0M630.8,308.9h0M605.9,330.9h0M651.3,308.7h0M655.7,323.3h0M676.3,308.7h0M680.8,314.4h0M612.6,333.9h0M657.9,304h0M672.5,309.4h0M650.9,307.4h0M652,327.5h0M655.7,305.9h0M680.4,314.4h0M669,327.8h0M672.1,314.5h0M603.2,317.3h0M653.7,307.9h0M625.3,311.5h0M676.1,302.5h0M676.8,307.2h0M669.8,305.2h0M656,305.9h0M671.7,313.6h0M654.9,333.8h0M627.3,304h0M655.2,306.2h0M619.6,299.1h0M608.3,298.7h0M655.3,307.4h0M611.3,307.2h0M662.6,307.1h0M610.9,304.6h0M663.8,312.9h0M680.2,310.2h0M620.7,299.9h0M680.7,319.5h0M681,302.6h0M643,306.4h0M612.8,319.9h0M662.7,328.6h0M627.3,311.3h0M658.6,305.7h0M608.1,322.3h0M653.3,326.6h0M605.7,302.2h0M644.7,308.3h0M655.6,346.3h0M675.5,303h0M609.5,302.6h0M659.1,311.9h0M617.2,307.2h0M643,309.2h0M653,309.4h0M644.2,332.3h0M662.7,309.8h0M651.3,315.7h0M629,322.5h0M608.7,302h0M649.6,315.1h0M635.4,305.6h0M654.6,306.8h0M661.9,308.9h0M612.7,311.2h0M654,303.1h0M642.9,310.9h0M671.5,323.6h0M637.1,302.8h0M673.1,321.2h0M608.8,301.3h0M625.5,314.2h0M670.6,313.8h0M603.2,313.3h0M641.6,329h0M654.2,320.3h0M640.7,315.1h0M678.2,301.8h0M631.4,311.4h0M680.9,315.7h0M657.1,308h0M672.6,308.5h0M639.8,305.5h0M625.8,299.9h0M663.3,304.8h0M671.7,306.2h0M647.6,305.5h0M666.6,312.3h0M615.5,302.4h0M641.3,305.8h0M602.9,300.9h0M657.2,324.6h0M628.8,303.6h0M647.5,310.3h0M633.4,312h0M625.1,306.1h0M628.7,311h0M632.5,317.9h0M612.4,302.5h0M679.4,297.8h0M637.2,301.5h0M603.9,305.6h0M680,297.8h0M658.4,312.6h0M661.8,315.5h0M630.9,318.6h0M641.3,307.3h0M602.6,299.2h0M621.5,325.4h0M614.5,301.5h0M667.1,317.7h0M633.3,319.2h0M628.1,304.5h0M674.8,308.8h0M655.2,329.6h0M647.1,305.7h0M617.1,303.2h0M616.9,301h0M646.7,303.4h0M637.9,316.6h0M627.5,307.5h0M627.3,314.6h0M667,312.5h0M622.3,310.3h0M622.3,301.6h0M623.8,305.4h0M651.1,310.3h0M662.4,316.6h0M631.5,311.5h0M633.1,302.9h0M632,306.4h0M621,299.2h0M672.2,313h0M673.9,310.3h0M681.1,307.8h0M602.3,347.1h0M664.8,317.8h0M643.2,312.1h0M626.7,299.3h0M618.9,307.3h0M661.6,306.4h0M628.1,302.4h0M675.5,309.6h0M619.1,301.8h0M674.8,318.2h0M661.7,310.5h0M674.1,310.3h0M602.6,324.4h0M609.5,298.5h0M667,318.5h0M676,309.6h0M652,312.3h0M643.5,317.3h0M607.5,316.2h0M638.6,317.6h0M608.5,310.8h0M608.8,298.2h0M621.4,300.6h0M616.3,308.5h0M643.7,302.7h0M602.2,319.6h0M680.7,301.7h0M650.2,308.1h0M653.2,308h0M642.9,310.4h0M671.3,309.9h0M656.5,304.3h0M671.5,306.7h0M617.4,301.7h0M603.5,300.4h0M627,311.1h0M623.3,323.9h0M642.8,348.5h0M623.4,298.5h0M674.9,314.2h0M669.7,315.1h0M626.5,307.5h0M664.3,306.3h0M655.9,318.1h0M644.7,320.8h0M601,304.5h0M648.7,312.3h0M601.1,307h0M648.9,315.2h0M651.7,344.9h0M616.3,310.4h0M627.8,305.4h0M644.9,304.5h0M620.6,316.4h0M625,298.7h0M660.8,312.2h0M622.9,298.5h0M649.9,321h0M609.4,307.1h0M650,316.4h0M609,305.3h0M652.1,306.4h0M667.5,312.8h0M663.9,306h0M632.5,308.6h0M611.1,307.2h0M661.2,304h0M662.3,309.8h0M659.1,303.8h0M658.4,309.7h0M635.7,323.6h0M658,311.5h0M674.9,304.2h0M610.9,334.5h0M630.1,309.1h0M603.9,298.6h0M639.4,306.4h0M655.3,306.3h0M674.1,302.5h0M635,308.9h0M604.9,322.1h0M658.3,314.8h0M651,305.6h0M639.4,304.6h0M604,304.2h0M663.1,307.8h0M656.4,310.9h0M612.5,303.3h0M636.2,304.5h0M675.3,322.7h0M667.8,306.9h0M667.4,328.4h0M677.2,311.9h0M668.6,309.9h0M677,317.8h0M607.9,303.2h0M609.3,351.3h0M600.4,317h0M657.9,311.6h0M675.2,305.6h0M631.3,305.5h0M670.5,309h0M660.4,330.3h0M634.6,300.1h0M662.4,315.6h0M617.1,318.9h0M651.8,303.7h0M645,317h0M667.2,312.3h0M600.3,316.5h0M677.5,304.2h0M653.3,303h0M667.8,311.3h0M607.7,301.6h0M625.7,331.3h0M626.9,301h0M679.4,298.1h0M637.3,303.5h0M677.4,312h0M637.7,304.1h0M624.1,310.6h0M639.6,304.1h0M667.3,326.7h0M631.8,305.5h0M679.3,314.3h0M640.1,303.1h0M632.9,300.1h0M606.2,302.8h0M641.6,309.2h0M603.2,299.6h0M606.4,323.6h0M656.1,308.6h0M658.6,311h0M671.7,314.6h0M669.4,319.1h0M655.5,303.8h0M641.6,306.8h0M668.8,305.4h0M679,299.9h0M614.4,298.9h0M625.1,304.2h0M641.9,302.9h0M633.4,308.1h0M662.8,312.3h0M619.2,320.7h0M647.2,304.5h0M656.8,311.7h0M670.4,306.3h0M665,311h0M656.6,303.6h0M658.5,303.2h0M646.8,314.2h0M607.9,305.6h0M618.5,305.6h0M633.4,320.2h0M608.8,305.8h0M621.3,309.6h0M668.1,306.8h0M618.4,302.5h0M673,322.8h0M601.9,312.2h0M661.1,303.8h0M617.6,299.1h0M611.6,299.9h0M650.9,303.9h0M656.8,314.9h0M611.5,301.4h0M673.6,311.5h0M680.6,311.9h0M611.5,299.3h0M664.4,312.1h0M675.4,309.5h0M655.5,307h0M642,330.4h0M640.6,308h0M681,301.8h0M647.5,304.9h0M611.6,308.2h0M600.6,324.4h0M654.5,309.6h0M618.2,327.8h0M679.5,300h0M651.8,310.1h0M619.3,310.3h0M660,305.1h0M671.4,322.8h0M611,305.7h0M657.7,308.9h0M606.5,298.4h0M628.8,303.3h0M609.6,312.7h0M677,304.7h0M644.9,310.7h0M677.4,313.4h0M643.8,306.1h0M673.9,309.4h0M615.1,304h0M646.4,304.5h0M639.8,308.3h0M621.8,301.7h0M608.1,303h0M628.9,299.7h0M674.3,341.5h0M655.6,321.9h0M614.5,303.3h0M603.8,300.1h0M606.3,330.6h0M672.1,306.3h0M607.9,300.5h0M676.6,307.4h0M634.4,325.5h0M600.7,311.4h0M642.6,302.4h0M650.8,315.8h0M612.3,302h0M646.9,306.1h0M666.3,311.4h0M669.9,312.9h0M640.8,308.3h0M632.7,320.4h0M610.2,328.5h0M611.2,301.5h0M640.2,316.7h0M678.3,301.8h0M613.6,311.2h0M672,318.2h0M640.3,302h0M635.4,334.1h0M646.6,308.4h0M632.3,305.3h0M661,311.7h0M649.9,314.5h0M664.9,319.8h0M602,303.3h0M601.7,305.1h0M654.9,309.8h0M668.6,312.3h0M626.9,303.3h0M642.4,318.6h0M604.7,298.2h0M654.6,305.3h0M654.5,307.5h0M670.7,304.1h0M602.4,304.9h0M640.3,308.2h0M623.6,342.9h0M654.6,313.2h0M632.4,300.4h0M618.2,328h0M640.2,320h0M626.4,306.4h0M604.3,302h0M657.1,304.8h0M623.1,300.7h0M645.5,312h0M654.4,303h0M614,298.9h0M659.1,304.3h0M678.2,303.3h0M651,322.1h0M617.7,299.6h0M656.2,310.2h0M644.4,302.4h0M631.3,310.7h0M661.5,316.3h0M669.4,307.1h0M638.7,301.5h0M636.4,309.7h0M671,309.5h0M606.4,298.1h0M622.9,298.8h0M661.2,305.8h0M622.1,322.9h0M671.2,312.6h0M652.3,311.4h0M626.4,345.9h0M634.7,318.3h0M641.5,312.4h0M617.4,303.3h0M653.2,315.4h0M645.9,307.2h0M644.8,331h0M629.3,299h0M671.1,319h0M676.8,311.2h0M675.5,302.7h0M647.9,315.6h0M610.4,305.5h0M670.8,311.2h0M612.8,332.2h0M634.6,307h0M662.4,314.6h0M670.1,324.2h0M654.4,306h0M659.6,319.5h0M623.8,314.9h0M648,304.7h0M629.8,303.5h0M612.2,300.6h0M653.8,319.7h0M619.3,304.6h0M658.2,304.1h0M663.4,312.3h0M661.7,311.3h0M655.9,314h0M635.1,306h0M666.3,331.2h0M646.5,307h0M653.6,307h0M671.4,304.1h0M672.8,302.9h0M671.2,305.8h0M608.1,299.6h0M662.9,321.9h0M608.8,305.7h0M619.2,334.2h0M650.8,344.1h0M656.8,310.5h0M677.9,301.9h0M607.7,298.7h0M655.2,305.9h0M669.4,307.6h0M610.7,308h0M617.9,303.6h0M659.2,318.1h0M643.2,308.1h0M680.4,296.4h0M652,306.4h0M634.1,319.3h0M629.2,301.8h0M660,320.6h0M672,325.9h0M637.4,314.5h0M667.5,305.2h0M600.4,305.1h0M638.1,323.8h0M644.4,305.3h0M675.2,325.6h0M620.2,306.4h0M675.9,304h0M647.8,329h0M615.7,300.9h0M654.3,303.5h0M620.4,298.8h0M617.7,314.4h0M632.7,301.4h0M624.7,302h0M676.4,310.3h0M629.8,301.8h0M600.5,319.1h0M626.3,302.2h0M631.6,300.4h0M616.8,309.6h0M676,316.5h0M639.7,310.6h0M618.6,319.8h0M647.8,310.1h0M659.8,309.8h0M635.3,313.3h0M619.2,316.7h0M650.8,304.7h0M628.4,328.7h0M623.7,298.2h0M602.6,300.3h0M675.6,309.4h0M674.8,310.7h0M647.5,303.2h0M660.3,313h0M605.6,319.3h0M643.6,319.9h0M603.9,300.1h0M658.7,309.9h0M665,311.3h0M656.3,303.8h0M663.3,317.1h0M680.8,298.5h0M645.1,303.9h0M673.2,307.7h0M634,323.1h0M608.9,302.9h0M656.4,304.3h0M654.9,310.1h0M678.2,317.1h0M611.8,313.9h0M611.7,322.1h0M635,311.4h0M637,300.5h0M674.4,307.9h0M658.2,319h0M628.7,305.2h0M628.4,307.1h0M666.9,313.5h0M631.2,300.3h0M648.1,310.3h0M624.5,298.2h0M648.4,303.9h0M631.1,320.8h0M611.2,315.2h0M616.8,311.6h0M636,312.1h0M621.4,305.2h0M610,316.4h0M603.1,302.3h0M669.8,309.3h0M639.2,310.2h0M661.2,365.4h0M652.9,320.2h0M679.6,303h0M678,343.2h0M641.4,308.1h0M641,318.4h0M640.9,309.9h0M680.9,325h0M680.8,325.6h0M681.1,333h0M680.6,302.6h0M680.9,305h0M680.9,336.1h0M656.5,346.2h0M656.7,354.7h0M656.7,361.2h0M656.9,315.4h0M656.1,314.3h0M663,322.3h0M662.5,326.4h0M662.5,325.8h0M626.7,314h0M626.9,328.5h0M613.5,320.9h0M613.9,321.1h0M613,350.8h0M613.3,345h0M656.2,322.9h0M656.3,319.8h0M663.3,323h0M662.8,311h0M663.3,315.6h0M663,311.4h0M663.2,309.6h0M663.2,324.2h0M663.2,339.6h0M652.5,323.3h0M653.3,313.3h0M652.9,326.8h0M652.7,321.8h0M677.5,306.2h0M677.6,307.8h0M642.1,310.5h0M642.6,316.8h0M642.2,313.5h0M617,334.4h0M617.5,354.7h0M655,325.2h0M655.2,309.3h0M655,324.1h0M655.1,314.7h0M663.6,327.9h0M663.9,329.3h0M663.8,332.3h0M604.8,314.9h0M622.3,313h0M621.9,307.9h0M669.3,313.3h0M669.7,364.6h0M669.2,316.5h0M669.7,327.7h0M670,349.9h0M669.3,336.3h0M669.3,336.7h0M669.5,335.7h0M669.7,344.2h0M669.3,328.7h0M609.4,306.5h0M609.1,306.8h0M649.5,308.8h0M649.5,357.3h0M649.7,314.8h0M649.7,326.3h0M649.4,327.7h0M664.7,314.9h0M664.9,310.7h0M664.7,313.6h0M664.8,319.1h0M602.9,309.7h0M640.9,318.1h0M640.8,315.8h0M640.6,314.1h0M640.9,313.7h0M640.8,321.4h0M640.8,311.2h0M679.6,312.9h0M630.7,306.5h0M655.2,351.2h0M655.4,329.4h0M654.7,336.8h0M655.2,342.3h0M666.2,314.3h0M613.4,334.9h0M613.7,327.1h0M670.9,331.9h0M671.6,315.1h0M671,322.3h0M671,327.2h0M644.8,330.1h0M644.5,309.6h0M644.4,310.6h0M644.6,324h0M644.6,321.6h0M644.5,310.2h0M675.9,335h0M676,343.1h0M675.8,313.9h0M675.7,327.6h0M631.5,312h0M632,314.6h0M634.6,306.8h0M634.6,316.6h0M634.4,319.7h0M634.6,322.1h0M657.5,324.3h0M656.7,316.8h0" stroke="#ff7f0e" stroke-width="3.1" stroke-linecap="round" fill="none"/>
<path d="M87.9,264.7h0M122.5,271.4h0M144.6,268.4h0M90.7,263.6h0M123.7,278.3h0M145.8,282.6h0M121.2,261.2h0M141.7,280h0M148.5,285h0M62.7,274.5h0M111.5,271.1h0M66.8,276.9h0M111.8,265.2h0M128.5,271.2h0M138.9,275h0M104.1,271.1h0M78.7,269.1h0M91.5,272.2h0M75.5,275.8h0M69.4,252.1h0M109.2,273.1h0M89,267.4h0M73.5,270.5h0M75.9,276h0M123,274h0M120.3,263.2h0M105,265.8h0M98,263.1h0M90.4,258.3h0M81.6,268.9h0M90.5,267.7h0M136.2,278.9h0M92,269.8h0M134.3,278.3h0M119.8,274.8h0M94.7,273.7h0M114.4,273.8h0M92.7,260.7h0M146.6,282h0M66,267.8h0M144.8,284.2h0M117.5,277.7h0M109.3,273.7h0M119.1,256.2h0M118.7,277.1h0M66.1,275.9h0M84.1,266.5h0M77.3,258.2h0M99,267.4h0M104.4,269.1h0M123.7,269.7h0M112.3,274.1h0M101,276.5h0M114.2,275.5h0M108.2,274h0M136.9,281.8h0M119.1,259.4h0M84.3,259.5h0M89.2,267.7h0M82.9,270.6h0M120.3,279.1h0M77.2,274.3h0M132.2,277h0M101.7,274.9h0M132.6,275.9h0M105.9,275.5h0M106.2,257.5h0M111,265.9h0M139.9,282.9h0M65,261.5h0M144.8,284.1h0M61.5,278.4h0M111.6,271.3h0M110.2,267.5h0M60.7,267.8h0M82.2,262.9h0M91.4,269.6h0M95.9,277h0M98.2,273.8h0M91.7,272.3h0M89.7,255.1h0M148.5,278.4h0M137.9,276h0M68.5,277.5h0M139.5,281.1h0M68.9,269.2h0M123.4,276.5h0M104.7,273.7h0M88.2,266.9h0M116.9,269.5h0M67,273.3h0M91.2,272h0M113.3,266.5h0M84.4,259.5h0M141,279.7h0M142.7,280.8h0M117.9,270.6h0M84.5,264.4h0M140.5,269.5h0M67.2,271h0M78.6,272h0M111.3,251.9h0M125.3,280h0M93.1,269.8h0M142,274.7h0M76.3,276.1h0M81.8,270.8h0M90.5,266.5h0M105.6,268.5h0M145.9,283.7h0M110.9,268.3h0M73.1,271.7h0M77.4,265.7h0M88.7,235.6h0M80.5,263.2h0M112.4,269.1h0M143.6,279.9h0M88.9,260.3h0M103.5,269.6h0M73.2,276.1h0M126.1,271.3h0M137,281.8h0M81.1,264.7h0M92.1,273.7h0M79.3,222h0M83.4,266h0M135,275.5h0M127.6,254.2h0M86.4,259.4h0M109.3,274.2h0M71.3,269.1h0M71.8,264.6h0M109.9,274.3h0M139,273.7h0M99.5,273.9h0M101.9,272.7h0M112.3,269.5h0M114.5,245h0M115.9,272.9h0M72.8,276.8h0M134.7,283.5h0M82.5,253.8h0M104.6,273.1h0M78.6,273.6h0M73.8,271.1h0M85.7,261.1h0M121.7,278.7h0M119.6,278.4h0M108.8,261.1h0M144,281.1h0M148.5,283.2h0M86.3,263.3h0M105.5,247.4h0M99.9,276.6h0M122.8,274.4h0M139.3,280h0M86.1,266.3h0M86.7,263.1h0M83.5,267.8h0M112.5,251.1h0M69.2,263.7h0M65.5,277.6h0M93.3,271.3h0M138.7,283.1h0M117.9,268h0M97.1,265.9h0M81.7,269.2h0M64.1,266.9h0M61.9,277.9h0M125,275.1h0M105.7,275.3h0M73.9,263.8h0M70.5,270.2h0M127.5,279.8h0M145.6,282.6h0M107.2,268.5h0M104.7,272.3h0M63.5,274h0M130.9,283h0M108.8,266.6h0M96,275.6h0M116,264.9h0M140.8,258.4h0M149.9,281.7h0M83.7,267.4h0M65.7,271.9h0M70.1,259.2h0M121.8,279.3h0M101.4,274.7h0M142.6,283.3h0M88.4,263.7h0M75.7,258.7h0M102.9,266h0M65,274.8h0M112.8,274.4h0M63.4,273.4h0M86.9,247.7h0M122,242h0M140,254.7h0M89.2,261.9h0M82.8,265.8h0M78,276.1h0M81,273.3h0M120.3,274.6h0M63.5,277h0M77.5,259.7h0M79.4,274.4h0M75.3,269.1h0M138,267.4h0M107.1,273.3h0M65.7,277.7h0M135.7,274.2h0M121.5,265.8h0M135.3,282.9h0M103.2,263.9h0M131.3,282.9h0M92.2,270.4h0M112.7,274.7h0M108.6,265.7h0M125.8,280.9h0M99.3,268.3h0M94.5,272.9h0M145,283.9h0M145.3,284.2h0M66.4,274.4h0M85.3,245.8h0M135.6,274.5h0M94.6,277h0M116.1,273.7h0M69,225.9h0M59.5,270.7h0M104,242.7h0M138.7,282.5h0M104.5,271.7h0M99.2,276.6h0M92,259.7h0M59.7,275.5h0M140.4,282.9h0M145,272.8h0M78.4,263.6h0M102.2,262.8h0M93.4,271.8h0M71.1,274.3h0M85,264h0M80.6,265.7h0M80.2,268h0M94.6,266.9h0M94.7,269.6h0M94.9,265.8h0M122.8,267.3h0M122.6,268.8h0M135,272.4h0M135.3,270.7h0M136.9,262.6h0M137.2,268.6h0M71.3,262.6h0M71.3,251.4h0M71.3,255.8h0M71.7,256h0M132.7,269h0M102.1,256.5h0M138.2,344.4h0M138.4,312.8h0M110.4,303.2h0M98.4,318.3h0M82.8,304.8h0M92.5,301.4h0M65.5,343.7h0M59.6,315.9h0M140.7,307.9h0M69.8,307.5h0M75.8,303.8h0M142.5,336.6h0M128.9,308.9h0M136.6,332.2h0M88.7,305.9h0M71.6,305.3h0M134.8,308.9h0M98.3,302h0M140.2,309.2h0M118.8,312.1h0M117.9,342.3h0M134.1,330.2h0M85.8,304.5h0M70.4,307.8h0M70.1,322.2h0M63.6,303.2h0M131,324.5h0M147.6,316.1h0M63.4,311.7h0M85.3,313h0M61.1,302.9h0M113.5,325.5h0M110.3,309.7h0M113.5,303.9h0M65.1,310.1h0M109,305.5h0M75.5,311.4h0M96.5,297.5h0M143.4,314.2h0M63.5,308.4h0M80.9,305.8h0M61.9,303.9h0M62.3,303.3h0M118.2,304.7h0M139.7,318h0M83.7,325.5h0M145.6,310.1h0M110.1,327.6h0M87.4,302h0M67.1,319.9h0M77.2,313.3h0M143.5,325h0M88,306h0M112.2,305.3h0M79.5,318.1h0M93.7,312.1h0M95.4,296.9h0M138.9,315.6h0M146.2,313.5h0M84.8,303.4h0M87,305.9h0M76,310.5h0M86,330.3h0M99.8,306.3h0M63.8,305.2h0M145.7,309.4h0M65.6,310.1h0M85.6,305h0M114.5,309.5h0M76.4,307.1h0M100.6,305.9h0M65.5,310.1h0M110.6,301.9h0M147.1,316.8h0M129.6,327.8h0M145.3,310h0M59.8,303.6h0M100.9,296.5h0M148.2,323.2h0M110.9,329.1h0M97.2,324.5h0M124,311.1h0M85.1,303h0M87.9,303.4h0M66.6,325.2h0M82.7,317.1h0M65.3,326.7h0M117.9,306h0M147.8,310.4h0M83.1,313h0M89.8,308.2h0M80.9,308.6h0M122.1,350h0M139.5,316.2h0M107.5,305.2h0M120.6,312.2h0M135.4,311.5h0M75.2,305.5h0M89.8,339.2h0M100.7,302.4h0M143.7,315.3h0M145.1,309.2h0M60.5,303.9h0M122.1,320.8h0M134.9,311h0M121.5,309.3h0M112.6,307h0M93.5,302.5h0M135.8,338.6h0M91.1,300.3h0M135.7,318.1h0M147.2,310.1h0M92.7,322.6h0M109,319.4h0M139.6,316.6h0M145.2,325.8h0M93.7,303.4h0M96,307.2h0M107.5,333.6h0M134.2,319.1h0M142.2,329.1h0M137,307.7h0M60.7,310.7h0M89.5,321.6h0M94.8,302.4h0M81.6,329.5h0M141,330.8h0M92.5,312h0M107.9,305.3h0M103.2,308.9h0M139.1,312.8h0M121.3,314.5h0M92.1,305.1h0M131.6,324.4h0M67,323.1h0M148.3,313.4h0M116.7,306.8h0M113.9,331.7h0M126.9,329.9h0M85.9,301.8h0M133.4,307.8h0M80.4,307h0M129.6,312.2h0M135.3,320.9h0M135.8,314.3h0M139.1,310.8h0M91.5,302.4h0M112.2,320h0M132.6,309.1h0M70.3,313h0M121.6,307.7h0M64.5,303.3h0M81.8,304.5h0M78.1,304.3h0M74.8,308.9h0M67.7,307.4h0M99,306.6h0M138.3,312.6h0M70.7,303.6h0M120.5,310.4h0M111,305.3h0M119.1,347.1h0M67.1,308.4h0M62.4,307.7h0M115.1,310.1h0M64.3,314.8h0M74.5,310.9h0M93.9,307.5h0M92,313.9h0M93.1,302.8h0M72,306h0M129.2,314.2h0M85.2,313.1h0M138.9,316.2h0M98.7,298.4h0M74.4,308.5h0M85.1,304.4h0M67.9,316.8h0M80.7,309h0M66.2,347.2h0M134.4,308.5h0M107.2,312.4h0M114.3,306.7h0M146,312h0M133.7,313.5h0M118.2,312.1h0M107,308.5h0M116.1,306.1h0M64.7,330.4h0M82.3,313.9h0M81,317.9h0M148.5,314.9h0M88.4,302h0M61.8,304h0M63.7,305.4h0M148.6,309.7h0M109.1,303.1h0M62.6,322.1h0M70.8,306h0M133.4,310.3h0M77.3,311.2h0M76.9,307.2h0M87.1,304.9h0M87.5,305.8h0M143.9,321.5h0M75.2,309.8h0M72,305.9h0M65.7,326.4h0M125.2,310h0M129.5,313.7h0M75.4,302.9h0M99.2,304.8h0M100,298.4h0M142.4,344.2h0M126.4,307.9h0M80.3,304.3h0M97.2,303.9h0M79.6,327.1h0M74.2,317.9h0M140.1,312h0M137.8,310.7h0M114,306.4h0M89.1,307.4h0M99.3,303.8h0M125.4,314.5h0M90.8,312.1h0M128.5,316.9h0M79.4,310.7h0M84.3,321.5h0M60.8,315.1h0M128.9,307.7h0M121,313h0M117.1,315h0M142.3,315.1h0M133,319.8h0M93.1,315.4h0M77,315h0M148.3,317h0M114.7,312.7h0M143.5,315.9h0M134.1,312.8h0M137.2,313.5h0M118.5,304.9h0M65.8,303.7h0M126,309.3h0M141.7,308.6h0M74.9,333.9h0M97.3,304.3h0M130.1,310.4h0M147.6,311.7h0M137.2,314.4h0M144.1,309.6h0M143.2,320.8h0M99.9,307.1h0M109.6,309.6h0M122.4,315.6h0M60.1,320h0M113.7,305.4h0M104.3,317.1h0M86.2,312.8h0M74.5,314.6h0M144.7,309.5h0M129.2,312.8h0M64.7,311.2h0M122.7,317h0M145.5,308.4h0M83.6,303.8h0M92.9,303.1h0M61.2,307.3h0M83,317.3h0M93.5,301.1h0M99.4,304.6h0M73.7,307.3h0M141.1,322.3h0M87.7,301.5h0M138.8,317.6h0M122.3,308.1h0M81.2,346.5h0M65.8,316.6h0M88.5,304.7h0M79.9,309.3h0M120.1,309.9h0M90.2,303.4h0M70.6,314.5h0M140.4,307.9h0M90.6,301.3h0M145.9,310.9h0M65.5,309.8h0M149.9,322.2h0M69.7,320.2h0M106.5,329.1h0M127.6,307h0M100.4,302h0M108.6,305.6h0M147,338.6h0M135.2,332h0M87.2,302.1h0M74.5,311.5h0M129.4,317h0M142.2,318.3h0M89.6,304.7h0M108.6,310.6h0M128,316.3h0M73.7,324.3h0M140.6,345.9h0M85.8,312.2h0M112.2,310.6h0M81.3,304.5h0M64.8,302.9h0M81.4,311.4h0M120.6,310.7h0M96.5,304h0M128.8,312.6h0M65.7,313.2h0M149.4,311.5h0M149.7,311.8h0M87.2,319.3h0M147.5,310.4h0M124.6,308h0M95.4,307.8h0M116.9,305.2h0M103.8,310.6h0M115.7,309.5h0M126.2,309.2h0M63.2,303.2h0M115.6,312.5h0M135.1,325.1h0M69.5,305.5h0M97.3,299.8h0M141.8,309.1h0M86.9,303.2h0M89.1,310.8h0M68.2,311.4h0M102.7,324.2h0M110.7,312.5h0M126.2,306.9h0M127.5,308.8h0M121.8,309.4h0M67,312h0M139.5,332.1h0M109.2,314h0M133.2,309.8h0M71.4,304.2h0M107.6,329.7h0M110.5,306.9h0M131.9,307.8h0M90.1,308h0M127.8,306.4h0M116.1,305.1h0M105,312.5h0M134,320.9h0M148.1,327.8h0M65.2,307.1h0M137.3,308.6h0M123.2,306.6h0M77.9,307h0M85.9,317.4h0M80.6,325.4h0M103.4,324.8h0M147.3,314h0M137.4,313.6h0M119.3,313.2h0M138.3,314.4h0M71.7,331.3h0M106.9,308.6h0M66.7,341.5h0M105.9,327.2h0M66.1,326.2h0M93.4,333.4h0M115.9,316.1h0M143,316h0M137.3,309.5h0M60.3,305.9h0M85.1,307.4h0M110.1,322.7h0M131,314.7h0M117.5,324.6h0M137.5,314.1h0M149.6,311.5h0M63.4,335.8h0M75.1,314h0M105.8,302h0M97.7,297.5h0M67.1,313.8h0M100.2,299.5h0M130.8,310.1h0M61.6,313.1h0M96.4,295.5h0M82.4,302.9h0M89.3,304.5h0M78.7,306.7h0M73.7,303.1h0M75.5,312.3h0M74.3,312.1h0M139.1,314.3h0M102,302.4h0M131,318.1h0M132.1,323.1h0M126.5,345.6h0M126.5,314.9h0M126.2,331.4h0M63.3,309.1h0M63.3,313.1h0M65.2,341.2h0M65.3,347.8h0M65.3,352.3h0M64.9,316h0M65.2,345.5h0M65.2,339.5h0M65,331h0M65.1,330.5h0M77.9,323.5h0M78.4,311.1h0M78.1,323.9h0M63.8,309.4h0M63.5,309.6h0M63.6,310.5h0M63.5,324.1h0M63.6,317.6h0M65,343.2h0M86,314.3h0M107.4,340.3h0M107.4,315.9h0M107.4,311.8h0M141.1,315.3h0M80.5,340.9h0M80.4,311.3h0M80.3,337h0M79.9,310.8h0M80.3,345.9h0M125.5,313.6h0M125.4,315.9h0M125.6,322.3h0M128.4,319.2h0M128.1,338.5h0M128.7,323.8h0M128.3,340.6h0M128.5,340.3h0M128.3,327.1h0M128.7,338.1h0M128.7,322.2h0M128.3,339.7h0M128.3,335.5h0M106.9,308.6h0M98.4,322.7h0M98.8,320.7h0M98.7,334.6h0M98.7,352h0M98.7,317.4h0M98.6,330.4h0M98.7,322.9h0M98.6,337.7h0M65.4,330.8h0M65.1,310h0M111.8,334.8h0M112,312.6h0M111.7,328h0M65.8,313.9h0M65.5,311.9h0M65.6,329.2h0M65.6,310.7h0M134.2,318.6h0M134.8,317.7h0M134.6,315.1h0M134.3,321.3h0M141.1,314.7h0M140.9,323.3h0M141.1,319.3h0M141,322.2h0M67.9,322.2h0M67.9,315.7h0M68.1,329h0M137.9,360.3h0M137.6,360.2h0M138,323h0M137.8,313.5h0M137.6,316.9h0M120,320.6h0M119.5,312.1h0M143.9,320.4h0M144.1,318h0M143.9,316.5h0M144.2,323.7h0M60.7,337.7h0M60.8,337h0M60.8,331.5h0M60.2,324.2h0M60.1,332h0M117.8,342h0M118.2,311.2h0M88.3,308.6h0M61,321.9h0M119.1,313.1h0M119,323.1h0M111.1,318.5h0M110.9,312.4h0M111.1,316.8h0M147.1,320h0M147.1,340.2h0M87.9,315.1h0M87.5,315.2h0M87.5,315.8h0M87.6,311.2h0M146.6,315.6h0M80.1,328.7h0M80.2,308.8h0M80.3,325.5h0M80.4,351.2h0M79.8,347.3h0M79.7,356.2h0M79.8,316h0M67.5,319.4h0M66.7,308.7h0M66.7,311.3h0M86.2,312.1h0M86,317.3h0M85.8,310.4h0M213.6,263.5h0M263.8,252.2h0M204.7,270.1h0M186.6,277.4h0M166.3,275h0M201.8,275.9h0M187.1,254.6h0M188.8,274h0M271.8,259.8h0M195.1,275.9h0M198.8,269.7h0M261.8,251.6h0M265.6,242.8h0M258.7,259.3h0M198.8,273.6h0M234.9,261.9h0M252.2,267.1h0M242,262h0M247.1,270.1h0M256.1,266.8h0M168.3,284h0M188.9,272.8h0M263.2,261.4h0M225.4,270.7h0M272.3,267.5h0M161,282.4h0M233.3,250.3h0M240.6,268.8h0M188.6,272.4h0M231.2,269.9h0M184.5,276.6h0M155.9,280.3h0M175.5,282.1h0M175.8,271.4h0M164,269.7h0M232.2,266.2h0M197.3,269.2h0M206.8,265.9h0M151.9,284.9h0M237.3,266.4h0M255.5,264.2h0M154.5,283.2h0M180.6,271.5h0M260.5,271.8h0M153.3,273.7h0M202.6,274.6h0M224.6,260.5h0M248.5,253.6h0M234.6,257.1h0M161.4,285.4h0M206.4,265.6h0M198.2,275.8h0M165.8,282.1h0M258,264.1h0M257.4,250.4h0M246.8,249.5h0M181.9,277.3h0M180.2,281.2h0M266.3,265.5h0M228.8,267.5h0M217.5,267.2h0M240.1,266h0M186.1,277.3h0M190.6,254.6h0M270.4,271.8h0M255.6,261.4h0M159.9,282.2h0M258.2,269.2h0M263.5,264.5h0M273,261.8h0M166.4,264.7h0M205.7,272.1h0M252.3,232.4h0M270.5,268.3h0M222.9,267.2h0M270.5,265.4h0M233.6,254.1h0M255.2,265.7h0M164,279.6h0M183.9,264h0M155,285.2h0M258.8,271.1h0M223,271.6h0M203.4,275h0M198.4,268.3h0M203.1,269.3h0M247.6,269h0M263.5,266.5h0M167.9,270.3h0M258.9,263.5h0M252.6,232.2h0M182.3,279.7h0M164.1,280.9h0M236.8,250.5h0M269.3,272.1h0M248.2,269.3h0M274.7,270.1h0M265.1,268h0M185.8,278.2h0M177.4,277.3h0M267,258.2h0M160,267.7h0M154.1,286.2h0M227,270.4h0M262.5,250.5h0M170,278.8h0M250.8,251.7h0M220.9,268.1h0M221.4,267.1h0M220.6,260.7h0M193.5,270h0M204.8,273.1h0M180.6,271.4h0M243.9,258h0M256.9,266.6h0M162.4,280.7h0M168.3,284.2h0M195.5,266.6h0M253.7,251.3h0M244.5,263h0M261.6,261.5h0M171.8,278h0M170.1,283.9h0M248.9,268.8h0M270.6,269.1h0M150,274.8h0M265.7,268h0M217.2,261.3h0M219.1,269.8h0M235.1,254.4h0M160.3,282.2h0M150.7,284.6h0M175.2,267.4h0M189.4,275.5h0M189.1,246.9h0M174.1,275.3h0M196.2,273.9h0M159.2,270h0M175.2,284.1h0M260.7,271.7h0M151.4,283.4h0M209.8,264.1h0M195,275.3h0M229.9,266.5h0M259.6,267.7h0M177.8,281.8h0M182,275.3h0M215.2,262.1h0M271.2,266.6h0M267.5,268.5h0M210.4,267.7h0M247.6,248.6h0M217.4,267.5h0M234.4,264.8h0M155.2,284.9h0M268.3,244h0M252.9,269.8h0M271.8,271.3h0M167.5,275.2h0M193.9,275.2h0M255.8,237.5h0M174.7,278.6h0M258.8,265h0M213.6,268.1h0M208.5,266h0M253,267.3h0M154.1,282h0M171.5,264.2h0M238.6,261.6h0M266.1,271.4h0M174.6,284h0M262.5,271.3h0M262.2,253.6h0M266.6,270.2h0M256.9,249.7h0M238.9,266.3h0M274.7,267.6h0M176.3,273.6h0M160.8,282.6h0M151.9,283h0M200.5,274.8h0M211.6,245.8h0M161.5,272.5h0M171.1,279.9h0M192.8,269.9h0M151.5,274.4h0M205.4,225.7h0M173.1,267.4h0M152.5,284h0M230.2,269.5h0M182.6,271.1h0M244.5,256.4h0M189.6,268.9h0M152.9,280.8h0M234,259.5h0M176.3,266.9h0M243,269.3h0M255.1,263.3h0M248.5,265h0M247.1,266.7h0M168.7,284.2h0M257.2,271.1h0M184,271.6h0M235.6,267.7h0M170.2,268.5h0M261.8,263.3h0M268.1,266.7h0M194.3,270.2h0M194.8,274h0M249.1,267.8h0M202,273.3h0M274.5,271.6h0M236.4,250.5h0M250.1,269.4h0M152.7,280.9h0M192.2,274h0M186.6,278.5h0M241.3,264.2h0M229.5,259.4h0M197.6,266.8h0M209.5,263.5h0M193.5,274h0M160.5,283.7h0M221.5,255.6h0M241,249.3h0M160.4,284.2h0M196.3,271.6h0M223.6,266h0M155.4,273.7h0M164.9,281.9h0M219.8,271.1h0M214.5,264h0M175.9,273h0M200.6,260.9h0M264.6,268.5h0M201.3,260.6h0M159,284.6h0M194.9,264.9h0M153.7,279.6h0M158.7,285.1h0M220.6,269.6h0M236.8,265.8h0M178,272.8h0M205.7,273.2h0M238.7,252.3h0M263.8,244.4h0M196.3,267.3h0M226,271.9h0M240.5,268.2h0M203.1,268.8h0M213.1,267.7h0M259.1,269.2h0M225.3,266.9h0M265.6,260.8h0M239.2,228.1h0M245.8,257.9h0M243.4,258.8h0M177.1,254.2h0M172.4,280.1h0M192.5,272.6h0M229.9,256.1h0M255,271h0M171.6,284.6h0M238.8,264.9h0M271.9,270.6h0M269.6,262.6h0M245.3,255.1h0M260.6,263.7h0M258.6,266.3h0M225.8,271.2h0M178.6,280h0M223.4,254.2h0M155.3,282.2h0M250.7,265.5h0M216.5,267.7h0M269.7,264.6h0M240.4,261.9h0M162.6,277.1h0M266.2,252.7h0M265.2,270.1h0M247.2,266.4h0M259.5,265.6h0M196.9,269.9h0M208.7,257.7h0M219.2,270h0M216.9,271h0M167,275.4h0M207.7,271.9h0M192.6,258.3h0M185.8,273.1h0M154.3,287.1h0M179.4,274.4h0M267.1,266.4h0M159.6,281.9h0M252.5,251.2h0M240.9,267.1h0M211.9,265.9h0M154.4,271.8h0M183.1,260.5h0M233.3,263.8h0M154,282h0M250.4,267.5h0M181.6,277.5h0M218.8,267.1h0M189.8,270.3h0M261.5,268.6h0M260.3,271.6h0M236,266h0M215.6,265.8h0M160.1,284.7h0M273.4,258.1h0M268.8,268.6h0M262.4,265.6h0M273.9,238.6h0M182.3,279.3h0M159,285h0M235.3,263.7h0M259.2,267.3h0M266.7,270.1h0M183.8,261.7h0M182.8,276.9h0M250.3,269.2h0M180.5,280.2h0M246.9,268.5h0M213.7,266.5h0M189.5,277h0M183.3,271h0M161.9,271.4h0M165.1,284.9h0M246.5,259.8h0M190.1,272.4h0M168.5,264h0M222,252.8h0M224.5,270.1h0M257.2,265.2h0M151.1,278.2h0M190.2,242.8h0M190.1,242.6h0M190.1,269.5h0M190.1,247.6h0M190.9,253.1h0M190.1,254.5h0M190.1,258h0M190.1,241.7h0M252.1,251.5h0M251.6,264.5h0M198.5,245.3h0M199.1,266.8h0M198.9,268.1h0M199,260.6h0M199.3,264.3h0M199.3,260.9h0M199.3,254.6h0M199.4,251h0M199.3,248h0M198.6,250.7h0M161.9,240.4h0M161.5,225.2h0M161.3,249.9h0M161.5,276.8h0M161.1,272.9h0M160.8,219.4h0M161.4,223.9h0M173.9,249.4h0M174.1,255.2h0M174.1,255.4h0M174.1,231.1h0M174.2,241.2h0M174.5,256.7h0M174.1,272h0M174,272.8h0M174.1,275.8h0M237.8,255.2h0M238.1,258.8h0M238,261.3h0M238.1,248h0M199.4,340.1h0M209.9,318h0M227.8,307.8h0M200.7,307h0M224.2,308.7h0M257.3,317.3h0M194.3,318.8h0M260.7,306.6h0M200.2,349.3h0M258,320.5h0M195.3,322.1h0M160.5,318.8h0M221.4,344.4h0M221.2,308.5h0M260.2,318.2h0M190.7,323.1h0M180.6,331h0M238.4,319.3h0M229.6,310.3h0M239.3,322.8h0M173,313.2h0M182.9,312h0M167,335.3h0M268.8,327.1h0M157.4,313.1h0M246.3,320.4h0M220.8,313.6h0M251.7,319.4h0M151.4,316.6h0M254.4,310.4h0M268.6,307.2h0M215.3,306.7h0M214.1,326.8h0M264.7,312.9h0M157.8,314.2h0M197.8,317.4h0M170.8,316.3h0M224.1,312.5h0M192.8,313.5h0M157.5,313.5h0M246.8,319h0M215.2,308h0M245.8,311h0M268.1,312.3h0M187.6,310.1h0M234.5,316h0M224.9,308.8h0M245.7,318.7h0M202.5,308.5h0M271.9,317.4h0M165.6,315.8h0M204.6,309.1h0M214.9,322.6h0M195.8,320.9h0M257.9,314.4h0M188.2,312.5h0M198.1,332.3h0M253.8,309h0M225.8,305.7h0M263.4,327.2h0M177.1,316.6h0M187.6,310h0M235.4,315.5h0M150.6,315.2h0M232.6,311.3h0M152.1,324.9h0M229.8,313h0M231.4,333.8h0M191.9,348.4h0M205.2,307.4h0M231.4,323.8h0M229.4,313.8h0M212.2,310.3h0M238.5,312.1h0M233.7,308h0M248.9,309.6h0M159,310.1h0M224.8,320.7h0M221.8,317.5h0M204.9,310.6h0M265.4,306.2h0M268.5,318.6h0M242.5,311.7h0M173.5,311.7h0M260.9,309.2h0M262.2,315.6h0M274.8,310.9h0M158.4,331h0M173.1,311.3h0M196.1,308.7h0M167.4,315.8h0M263.8,310.1h0M196.8,319.1h0M187.5,320.8h0M264.1,306.7h0M216.8,306h0M246.7,308.7h0M251.3,325.5h0M266.3,315.4h0M211.6,308.3h0M184.7,313.8h0M261.6,318.6h0M251.2,314.8h0M161.3,313.1h0M254,335.6h0M220.5,309.1h0M212.4,306h0M166.1,315.2h0M167.5,317h0M250.8,314h0M241.4,315.6h0M265.2,308.3h0M227.6,306.8h0M267.7,313.3h0M179.8,315.3h0M251.3,313.2h0M247.9,306.7h0M225.6,306.6h0M263.7,308.5h0M180.7,316.8h0M214,312.2h0M237.2,322h0M208.4,314h0M266.4,309.9h0M165.7,318h0M175.2,312.9h0M226.5,325.7h0M150.9,324.3h0M167,324.3h0M225.6,314h0M203.3,330.8h0M269.6,315.1h0M208.9,308.9h0M198.6,309.3h0M263.7,311.7h0M267.2,309.7h0M232.7,311h0M232.6,328.7h0M159.3,313.4h0M153.3,319.1h0M255.9,323.8h0M266.4,314.9h0M202.9,309.4h0M175.5,311.1h0M239.5,316h0M156,328.8h0M253.8,311.7h0M202.1,322.7h0M202.8,314.6h0M212.2,312.6h0M199,310h0M159.7,317.1h0M222.8,325.6h0M180.4,311.4h0M238.5,308.6h0M224.7,310.4h0M193.6,308.3h0M211.6,316.7h0M179.4,314.7h0M207.8,333.3h0M196.1,308.6h0M214.9,315h0M274.6,315.7h0M155.8,314.1h0M160.4,311.2h0M154.4,317.9h0M171.6,339.1h0M174.2,326.3h0M264.2,313.7h0M208,321.3h0M243.6,313.1h0M194.3,308.4h0M203.4,309.5h0M264.9,313.8h0M177.9,314.8h0M172.3,312.7h0M156.7,317.5h0M163.1,340.9h0M271,323.3h0M172.1,317.2h0M224.7,307.7h0M225.7,316.9h0M173.7,328.1h0M240.6,316.1h0M257,305.3h0M244.8,308h0M245.7,308.6h0M197,310h0M236.9,315.1h0M251.7,305.5h0M185.6,356.7h0M179.9,324h0M188.8,312.2h0M156.9,321.8h0M164.1,327.2h0M198.7,316h0M217,307.3h0M249.3,341.2h0M250.1,330.1h0M174.7,314.8h0M151.6,311.9h0M247.9,307.3h0M183.7,316.7h0M169.6,313h0M181.5,316.5h0M172.3,311.3h0M263.6,310.8h0M246.3,307.7h0M267.5,315.4h0M201,308h0M249.1,305.8h0M221.6,325.6h0M264.1,329.8h0M203.6,306.2h0M193.7,315.8h0M222.3,316.1h0M272.5,308.1h0M195.4,307.3h0M254.1,309.9h0M179.1,313.8h0M210.6,306.1h0M213.4,318h0M162.5,312.7h0M180.1,311.9h0M219.4,317.1h0M263.8,307.6h0M271.7,312.2h0M247.6,319.9h0M241.3,312.2h0M152.4,339.2h0M155.5,319.8h0M177.2,317.1h0M172.8,316h0M246.2,311.2h0M254.7,309.9h0M233.6,310.6h0M264.4,309.5h0M258.7,305.6h0M256.9,305.6h0M237.1,307.2h0M247.5,307.2h0M158.8,319.9h0M222.1,315.7h0M249,307.3h0M162,327.6h0M255.7,309.4h0M260.9,306.2h0M246.1,309.6h0M198.1,319.5h0M188.4,309.6h0M212.5,307.1h0M151.7,353.9h0M173.8,312h0M181.5,312.5h0M258.2,307.1h0M231,306.1h0M232.7,313.5h0M244.4,309.4h0M202.2,308.1h0M262.7,309.1h0M213.2,316.8h0M192.2,316.5h0M154.4,337h0M170.9,312.3h0M178.1,317.6h0M199.9,325.4h0M235.9,312.7h0M190.5,312h0M175.3,321h0M248.9,323.9h0M170.8,324.9h0M270.6,341.5h0M167.7,317h0M217.4,320.4h0M225.7,324.9h0M151.8,317.8h0M225.2,308.7h0M177.3,322.7h0M183.4,333h0M160,312.5h0M268.2,327.9h0M181.5,317.8h0M204.3,307.9h0M167.5,321.7h0M176.5,351h0M239.8,323.7h0M187.9,312.5h0M227.1,322.5h0M177.3,312.9h0M173.7,312.7h0M241.9,309.2h0M206,314.7h0M169.9,311h0M270.6,329.1h0M260.6,320.8h0M213.1,306.5h0M180,312.1h0M216.5,310.1h0M171.6,312.6h0M221.8,308.5h0M151.6,310.8h0M250.4,319.7h0M214.6,313.5h0M208.4,305.8h0M190.7,309.8h0M161.5,314.7h0M205.3,307h0M168.4,316.4h0M262.1,306.9h0M220.3,316h0M198.5,320h0M228.7,309.8h0M206.5,320.1h0M258.4,309.8h0M216.2,312.1h0M168.8,324.2h0M178.6,316.2h0M163.8,323.5h0M264.4,315.1h0M216.1,312.1h0M196.3,314h0M219.7,335h0M236.8,312.5h0M233.9,330.5h0M251.7,329.1h0M190.1,311.2h0M174.5,326.8h0M210.7,305.3h0M224.9,321.8h0M264.8,327.7h0M258.6,307.2h0M214.5,309.3h0M230.4,308.8h0M154.7,332.8h0M247.3,322.8h0M198.2,315.6h0M255.5,318.9h0M233.4,306.9h0M163.4,332.6h0M260.4,312h0M259,309.8h0M222.5,313.2h0M216.7,310h0M197.9,321.1h0M222.4,307.5h0M225.7,312.3h0M272,307.7h0M163.7,318.1h0M221,310.9h0M232.4,307.8h0M201.6,313.8h0M271.8,307.6h0M221.5,309.7h0M164.4,317.5h0M220.4,325.9h0M240,322.5h0M247.4,308.4h0M190.9,314h0M222.4,328.6h0M157.7,328.7h0M157.2,316.6h0M222.4,307.1h0M187.9,317.7h0M219.8,308.1h0M153.4,320.8h0M240.3,326h0M271.8,306.7h0M261.5,315.8h0M231.9,311.1h0M168,314.2h0M262.9,313.2h0M269.1,307.7h0M152.3,326.9h0M164.1,311.1h0M220.4,316h0M166.9,316.1h0M155.7,309.9h0M203.8,323.1h0M213.9,305.7h0M203.6,315.2h0M266.9,308.7h0M229.2,314.3h0M247.3,309.8h0M274,322.3h0M192.7,312.6h0M257,325.7h0M265.8,312.9h0M267.9,307.3h0M248,318.1h0M178.4,314h0M157.4,311.2h0M255.9,307.2h0M192.3,313.5h0M170,315.6h0M207.6,306.2h0M175.6,316.9h0M260.3,315.9h0M266.9,306.6h0M165.5,336.2h0M237.3,312.2h0M204.2,328.7h0M252.1,313.3h0M211.7,308.5h0M217.4,307.7h0M164.6,311h0M181.5,317.6h0M182.2,331.6h0M234,306.5h0M257.4,326.7h0M268,305.9h0M241.3,328.2h0M238.3,308.4h0M160.1,312.2h0M257.4,311.5h0M200.2,315.8h0M167.6,320.8h0M218.9,311.1h0M238.7,310.6h0M155.9,313.4h0M160,317.2h0M166.5,322.6h0M232.1,308.2h0M264,318.1h0M198.8,314.3h0M248.2,316h0M236.6,307.4h0M155.4,319.3h0M232.4,314.4h0M193.5,316.9h0M224.1,308.7h0M180.4,311.4h0M239,308.8h0M256.7,310.2h0M188.2,344.2h0M197.5,319.1h0M220.7,335.3h0M165.2,310.8h0M151.7,353.5h0M209.6,341.7h0M209.9,306.8h0M198,307.9h0M195,318h0M254.6,314.1h0M174.6,316.2h0M233.8,312.5h0M248,327.8h0M192,308.4h0M196.2,307.9h0M163.8,327.3h0M213.9,330.2h0M258.7,313.9h0M260.9,316.9h0M216,322.2h0M208.8,307.8h0M241.4,325.2h0M196.2,314.8h0M217,307.6h0M243.1,313.9h0M266,324.4h0M164.2,312.7h0M237.1,308.8h0M253,316.3h0M268.8,314.8h0M236,313.4h0M235.2,346.3h0M194.1,309.9h0M250.6,309.1h0M218.9,322.5h0M255.9,317.5h0M151.8,320h0M206.6,310.2h0M158.4,310.2h0M155.7,312.8h0M197.6,312.5h0M252.3,306.4h0M202.7,326h0M253.7,326h0M215.5,309.1h0M199.4,324.2h0M247.6,347.3h0M262.3,318.6h0M256,335.2h0M171,312.3h0M273.5,313.4h0M206.1,311.4h0M256,305.3h0M211.3,313.5h0M162.3,320.5h0M259.3,306.6h0M181.3,328.4h0M217.9,354h0M192.8,309.5h0M196.3,322.9h0M204.5,319.7h0M247.7,318.2h0M167.1,318.6h0M263.6,305.4h0M188.5,325.9h0M170.6,321.8h0M257.5,306.1h0M269.7,306.7h0M151.7,313h0M214.1,306h0M231.9,314.4h0M274.4,328.8h0M259.8,344.8h0M252.3,329.6h0M184.1,317.2h0M187,314.4h0M160,310.9h0M212.7,327.4h0M249.3,307.5h0M217.8,313.5h0M175.6,324h0M235,314.2h0M162.2,318.5h0M243.5,311.7h0M198.5,312.3h0M152.3,324.4h0M254.4,332.6h0M227.4,315.2h0M156,311.7h0M228.2,310.7h0M235.2,314.9h0M233.4,328h0M191.8,312.9h0M156.1,321.1h0M251.9,308.2h0M236.4,311.5h0M190.7,322.8h0M166.5,315.8h0M163.5,322h0M212.7,321.9h0M171.3,317.8h0M232.5,312.6h0M240.4,308.4h0M194.8,307.5h0M242.4,323.4h0M243.5,314.7h0M154.7,316.3h0M250.5,314.3h0M161.1,312.3h0M205.5,324.4h0M164,310.5h0M243,320.2h0M171.9,320.6h0M239.4,310.9h0M181.6,311.7h0M157.5,312.7h0M195,319.6h0M158.7,325.6h0M173.4,311.4h0M176.1,324.4h0M228,306.7h0M200.4,325.8h0M199.6,345.3h0M199.8,350.5h0M199.6,321.1h0M199.8,361.3h0M199.7,357.1h0M200.1,362h0M204.2,359.1h0M203.8,354.6h0M203.8,313.1h0M162.7,319.8h0M163,326.8h0M162.4,325.3h0M243.6,322.2h0M243.9,326.3h0M243.2,317.7h0M243.3,321.8h0M243.3,349.7h0M243.3,353.1h0M243.6,341.3h0M243.8,330.8h0M255.1,365.2h0M255.3,344.9h0M255.1,349.9h0M255,315.2h0M255.7,328.2h0M254.7,315.7h0M189.8,319.2h0M189.7,334h0M256.7,330.7h0M191.6,332.4h0M191.5,327.1h0M191.5,329.5h0M269,323.2h0M269.1,319.4h0M224.2,323.4h0M224.9,318.4h0M154.7,348.3h0M154.3,318.8h0M270.7,322h0M229.7,340.1h0M229.8,315.6h0M230.6,319.8h0M229.7,316.7h0M193.5,313.5h0M192.8,315.7h0M166.4,327.1h0M166.8,347.4h0M166.4,336.7h0M166.3,348.8h0M166.6,341.6h0M166.8,324h0M166.7,340.3h0M166.5,343h0M221.8,322.2h0M272,330.5h0M271.8,320.8h0M271.9,337.2h0M208.4,326.8h0M208.5,324.1h0M243.6,314.2h0M243.8,313.5h0M243.9,314.9h0M272.3,334.7h0M268.1,311.4h0M268.5,327.5h0M268.4,317.1h0M245.5,312.9h0M245.4,311.7h0M245.4,314.9h0M192.7,324.3h0M192.8,327.2h0M192.8,329h0M177.3,347.2h0M177.8,326h0M177.4,324.9h0M177.7,357h0M177.3,359.3h0M177.6,332.6h0M177.7,354.2h0M177.8,364.9h0M177.3,322.3h0M258,317.1h0M257.7,333.7h0M258,337.6h0M257.9,337h0M207.7,321.1h0M231.5,315.7h0M230.7,320.9h0M231.2,312.9h0M242,330.6h0M242,322.4h0M226.2,347h0M226.8,323.2h0M226.1,330h0M226.3,325.1h0M226.4,335h0M226.7,331.5h0M263.8,320.2h0M264,318.8h0M263.5,320.6h0M263.7,329.1h0M263.6,316.8h0M274.5,331.5h0M274.5,318.2h0M164,325.3h0M164.4,326.8h0M164.1,319.9h0M164.8,328.7h0M177.5,342.7h0M177.4,348.6h0M177.5,344.5h0M177,343.1h0M177.2,323.9h0M175.4,327h0M249.4,314.3h0M249.5,313.1h0M249.6,320.8h0M249.5,317.4h0M285.4,258.9h0M279,272.6h0M285,273.4h0M283.3,275h0M294.3,279.2h0M290.7,273.2h0M286,272h0M288.1,277h0M277.9,272.7h0M279.2,247.4h0M281.5,264.2h0M285.3,270.5h0M275.1,270.6h0M292.4,280.7h0M282.3,263.5h0M277.1,274.1h0M293.1,281h0M285.8,271.9h0M290.6,280.4h0M283.5,269.2h0M283.1,276.2h0M284.2,264h0M294.6,283.1h0M285.6,275.5h0M280.6,274.7h0M294.5,286.6h0M287.8,274.8h0M293.8,275.4h0M278.6,264.3h0M285.3,274.2h0M292.8,285.1h0M289.4,261.2h0M288.4,278.8h0M293.3,282.3h0M292,321.9h0M279.6,317.6h0M287.6,316.8h0M281.2,308h0M290.6,313.9h0M279.9,311.3h0M279.6,307.9h0M282.7,308.6h0M287.9,308.7h0M282.1,326.2h0M284.2,316.8h0M279.6,310.2h0M276.7,348.7h0M294.2,321.7h0M279.1,320.1h0M291.1,333.7h0M290.5,309.7h0M290.6,312.7h0M285.1,316.2h0M279.3,314h0M292.7,309.1h0M284.8,313.9h0M277.2,309.3h0M283.7,308h0M280.2,314h0M279.6,321.1h0M294.5,310.9h0M283,316.5h0M281.1,309.3h0M288,309.1h0M275.1,310.8h0M292.6,309.1h0M292.8,323.5h0M291.7,322.5h0M289.2,340.1h0M278.4,310.3h0M286.4,309.4h0M285.4,309.9h0M294.6,321.6h0M287.2,308.2h0M280.5,313.2h0M294.9,310.8h0M285.1,316.9h0M287.4,321.8h0M282.2,312h0M279.6,321.8h0M285.4,310.7h0M293.4,325h0M279.2,326.4h0M286.6,324.8h0M286.2,308h0M284.7,311.1h0M279.7,311.5h0M294.3,317.8h0M279.7,312.2h0M292.2,328.8h0M276.2,311.1h0M286.8,310.8h0M275.4,313.7h0M285.8,322.6h0M289.8,317.1h0M287,315h0M290.9,317.2h0M288.7,309.9h0M275.8,314h0M283.9,328.9h0M283.2,334.8h0M283.1,333h0M282.8,333.3h0M291.8,327.8h0M286.6,317.4h0M286.7,334.7h0M287.1,319.1h0M287,315.8h0M286.8,331h0M286.8,334.7h0M281.5,336.8h0M282.1,349.5h0M281.8,323.4h0M281.8,351.8h0M281.3,326h0M282,348.8h0M361.3,286.9h0M331.1,285.7h0M360.9,275.3h0M344.5,283.1h0M349.6,290.1h0M310,287.5h0M316.9,286.2h0M324.5,278.9h0M331.2,283.3h0M333.9,279.9h0M296.9,284.3h0M350.2,281.1h0M340.6,289.3h0M346.1,273.6h0M339.9,284.6h0M325.2,285.7h0M360.7,268.8h0M321.8,275.3h0M354.3,273.8h0M314.4,269.3h0M318.7,263.9h0M302.7,287.5h0M320.6,278.6h0M312.3,289.7h0M312.7,285.2h0M312.7,285.9h0M342.6,277.6h0M326.7,278.7h0M312.5,288.7h0M332,286.6h0M334.1,289.1h0M324.3,286.7h0M332.4,275.9h0M297.2,285.8h0M302,286.8h0M346.5,265.5h0M345.2,292.7h0M318.8,280.5h0M308.2,277.6h0M338.3,282.2h0M344.7,287.1h0M298.5,281.6h0M354.3,264.4h0M296.6,279.8h0M329.4,286.5h0M350.7,291.8h0M358,285.5h0M362.6,278.3h0M322.8,276.2h0M327.5,287.7h0M309,291.1h0M348.1,292.8h0M360.7,288.2h0M363.4,277.9h0M346.4,285.1h0M332.2,279.9h0M330.4,288.7h0M348.7,285.2h0M323.9,287.3h0M336.4,277.2h0M344.4,288.7h0M350.5,285.5h0M346.6,289.7h0M342.4,285.8h0M322.6,285.3h0M324.5,289.6h0M357.7,274.5h0M303.8,265.2h0M338.4,283.1h0M318.1,289.6h0M326.2,289h0M342.1,285.9h0M315.8,287.4h0M331.5,288.3h0M304.9,288.5h0M353,281.7h0M350.1,281.4h0M316.1,289.1h0M299.2,267.5h0M332.7,277.3h0M340.9,290.3h0M328.9,281.1h0M303.4,289.4h0M344.4,291.9h0M324.4,288.4h0M313,285.3h0M346.7,288.1h0M347.8,286.2h0M337.2,280.6h0M324.3,287h0M298.8,288.7h0M342.7,291.7h0M308.2,281.6h0M359.9,285.6h0M307.4,286.8h0M299.4,288.7h0M344.6,283.7h0M360.1,288.8h0M324.2,273.5h0M312.6,288.7h0M363.5,281.6h0M356.3,289.1h0M298.5,256.5h0M298.5,258.2h0M298.7,252.9h0M298.5,273.8h0M304.7,270.7h0M304.6,277.9h0M304.7,273.3h0M305,230.1h0M309,318.5h0M349.7,328.4h0M328.2,338h0M351.8,318.6h0M306,313.6h0M340.9,327.2h0M349.9,314.2h0M351.2,310.3h0M303.2,311.6h0M329.7,322.7h0M309.5,322.5h0M312.9,314.1h0M358.1,327.3h0M310.4,318.6h0M347.2,314.8h0M338.9,313.2h0M347.8,351.1h0M327.3,319.8h0M337.5,311.5h0M326.8,311.9h0M347.4,313.7h0M300.6,316.5h0M299.5,315.2h0M342.7,313.3h0M341.6,334.3h0M342.7,316.2h0M337.7,317.2h0M364,311.6h0M307,327.7h0M336,315.7h0M361.7,316.7h0M308.1,315.9h0M310.6,312.8h0M315.4,311.9h0M343.1,324.9h0M298.3,316.4h0M334.6,316.2h0M320.9,319h0M349.7,312.4h0M354.2,323.4h0M313,330.9h0M306.5,308.4h0M304.7,308.8h0M324.6,319.4h0M362.5,335h0M352.9,311.7h0M307.7,308.9h0M352.4,323.3h0M298.4,321.4h0M313.9,320.7h0M326.6,317.5h0M338.5,318.7h0M357.3,323.4h0M321.5,315.7h0M296.7,316.7h0M298.8,314.7h0M359.6,318.6h0M298.4,308.9h0M362,315h0M320.8,335.9h0M354.4,313.9h0M303.4,316h0M321.7,318.1h0M306,325h0M357.6,337.9h0M308.3,315.8h0M304.9,308.8h0M349.9,320.9h0M336.2,314.9h0M314.6,315.2h0M318.6,311.1h0M317.5,336.1h0M324.2,330h0M313.2,320.2h0M298,308.3h0M310.2,334.6h0M307.3,317.8h0M364.5,315h0M305.2,310.3h0M332.2,313.7h0M297.2,313.6h0M296.2,322.9h0M327,321.5h0M313.1,314h0M352.7,310.6h0M310,316.7h0M352.5,316.3h0M347.5,312.1h0M317.1,313.9h0M326.1,316.6h0M364.7,315.4h0M349.6,311h0M358.9,316.2h0M359.5,315.9h0M356.2,322.3h0M302.2,313.4h0M363.6,314.5h0M332.3,319.3h0M325.6,313.3h0M316.6,311.6h0M313.4,309.3h0M347.4,315.1h0M310.4,309.9h0M321.9,311.4h0M324.8,311.9h0M335.4,329.9h0M356.3,321h0M353,341.6h0M306,308.7h0M327.5,319.2h0M353.2,312.1h0M331.7,311.6h0M335.1,324.7h0M319.1,334.4h0M339.3,317.2h0M307.8,320.9h0M298.8,333.4h0M298.7,337.5h0M319.2,312.8h0M358.2,320.8h0M330.8,314.6h0M331.6,314.4h0M346.6,313.1h0M305.6,324.2h0M329.8,318.5h0M298,307.7h0M319.6,330.1h0M328.3,315.4h0M320.4,309.7h0M318.1,312.2h0M297.5,315h0M316.6,316.6h0M336.3,311.8h0M315.6,311.9h0M347.8,310.2h0M334.1,325.8h0M320.7,316.3h0M330.9,318.2h0M306.9,312.3h0M308.3,322.3h0M347,323.7h0M344.8,319.4h0M335.1,311.9h0M339.8,310h0M328.3,313.2h0M343.8,322.1h0M318.2,312.2h0M344.8,321.3h0M312.8,309.4h0M356,311.2h0M308.9,313h0M298.5,308.7h0M321,310h0M297.9,314h0M307.1,312.5h0M298.5,308.8h0M335,310.7h0M328.5,317.3h0M337,313.4h0M323.6,322.8h0M310.3,324.3h0M325,316.3h0M331.4,320.6h0M305.8,313.1h0M333.1,328.3h0M321.5,316.3h0M321.5,333h0M360.2,311h0M339.9,330.8h0M298.5,324h0M335.8,316.4h0M314.2,314.6h0M310.4,314.6h0M319.5,337.1h0M323.4,313.3h0M323,314.8h0M338.7,317.5h0M352.8,316.8h0M319.3,324.3h0M321.8,323.4h0M353.3,315.8h0M358.9,311h0M338.4,325.2h0M323.8,317.8h0M321.4,325.8h0M328.3,311.1h0M343.6,329.4h0M323.4,312.2h0M347.1,321.6h0M343.6,309.6h0M303.4,324.1h0M333.8,322.1h0M298.5,317.5h0M317.7,310.8h0M339.6,318.7h0M361.3,310.7h0M357.2,322.7h0M315.5,317.5h0M330.4,312.8h0M353.8,330.5h0M334.8,313.6h0M352.8,310.8h0M300.2,322.4h0M334.6,314.6h0M297.9,308.1h0M303.6,311.3h0M332,310.7h0M350.2,317.5h0M325,326.3h0M311.8,311h0M311.3,316h0M330.7,314.7h0M317.9,328.5h0M320,332.2h0M305.4,309.7h0M319.8,320.6h0M303.1,308.4h0M308.2,325.1h0M349.3,330.6h0M358.9,316.2h0M339.8,326.9h0M330,330.7h0M340.9,309.8h0M354.4,312.9h0M347.9,312.3h0M329.5,312.6h0M349.1,330.6h0M338.6,348.8h0M313.9,315.3h0M356.7,319.7h0M336.4,318.2h0M363.2,325.2h0M349.1,309.8h0M322.6,313.1h0M306.8,317.9h0M359.5,319.9h0M345.6,321.6h0M303.5,331h0M324.5,314h0M341.7,336.2h0M296.8,318.7h0M346.7,325.8h0M306.4,310.4h0M360,314.7h0M347.7,324h0M311,310.9h0M297.5,323.1h0M352.7,333.2h0M336.3,309.5h0M312.2,310.2h0M306,311h0M297.4,316.8h0M318.9,335.5h0M314.3,343.8h0M315.3,309.7h0M314.8,315.7h0M319.3,314.3h0M310.9,309.7h0M305.9,337.7h0M356.8,318h0M346.1,312.8h0M315.4,340.4h0M328.2,333.9h0M351.9,326h0M326.7,313.4h0M299.2,341.9h0M343.5,310.2h0M353.4,310.9h0M354.6,310.5h0M296.5,317.9h0M357.3,329.7h0M358.9,316.2h0M305.5,343.3h0M360.8,322.1h0M318.4,324.8h0M295,309.4h0M354.6,311.8h0M304,312h0M342.2,312h0M352.3,317.3h0M310.2,312.6h0M353.5,320.2h0M347.3,311.8h0M352.3,333.6h0M349.3,315.3h0M322.4,318.2h0M351.5,324h0M332.6,310.8h0M310.2,325.3h0M347.7,321.4h0M364.1,315.9h0M362.6,312.8h0M307.7,330.7h0M302.4,315.6h0M349.3,312.9h0M354.6,313.8h0M326.2,313.3h0M338.6,330.5h0M330.6,327.7h0M330.4,328.9h0M330,314.8h0M309.2,309.4h0M316.4,317h0M335.7,314.1h0M334,338h0M346.7,315.6h0M315.9,319.4h0M347.4,333.1h0M319.9,312.1h0M298.2,307.5h0M333.6,327.6h0M302.6,309.4h0M296.4,356.5h0M311.7,315.2h0M312.1,324.4h0M347.2,326h0M322,318.9h0M322.2,319.9h0M325.5,324.5h0M325.6,319h0M325.3,318.3h0M323.2,325.9h0M323.4,319.1h0M323.1,322.1h0M322.7,317.1h0M315.3,327.5h0M313.4,348.5h0M313.2,345.6h0M313.5,338.4h0M313.5,344.2h0M313.5,340h0M313.3,363.9h0M313.3,365.6h0M313.3,334.1h0M313.7,325.4h0M295.8,314.1h0M334.1,351.3h0M333.4,339.9h0M334,350.5h0M333.8,320.2h0M333.8,336.2h0M307.4,366.5h0M307.2,332.3h0M307.3,325.2h0M307.4,362.2h0M307.9,331.7h0M307.2,336.2h0M307.1,341.6h0M307.7,352.6h0M297.3,348.9h0M297,334.3h0M296.9,350.1h0M297.2,362.2h0M297.3,337.2h0M358.3,318.4h0M357.9,321.4h0M358.9,323h0M326.7,319.1h0M325.9,322.6h0M297.8,315.3h0M297.2,329.7h0M342.6,323.5h0M342.6,326.9h0M343,343.3h0M343,328.8h0M335.1,338.7h0M334.1,328.5h0M334.7,317.8h0M334.6,326.3h0M355.5,325.2h0M346.1,326.1h0M346.6,318.2h0M320.2,330.7h0M320.4,316.1h0M320.1,318.1h0M405.2,275.3h0M369.6,285h0M501.5,272.2h0M396.1,283h0M488.4,281.1h0M489.9,277.5h0M461.8,248.6h0M522.6,283.5h0M488.7,282.4h0M524.8,287.1h0M445.3,258.3h0M501.9,280.5h0M485.4,273.1h0M428.4,266.6h0M506.2,283.9h0M493.9,257.7h0M423.2,276.7h0M395,283.8h0M502.8,283.6h0M408.2,280.9h0M410.3,280.2h0M514,274.3h0M487.1,265.4h0M424.8,260.9h0M495.9,279.5h0M398.5,283.7h0M481.4,275.4h0M494.6,281.4h0M365.3,284.9h0M382.1,283.9h0M521.4,278.9h0M434.4,274.9h0M494.6,275.2h0M407,283.7h0M500.6,261.8h0M517.2,282.4h0M449.8,263.6h0M366.3,286h0M497.1,283.8h0M470.1,242.4h0M491.9,283.5h0M402.9,277.4h0M398.8,268.2h0M467.1,268.7h0M414.8,251.2h0M488.2,280.5h0M391.4,274h0M372.2,284.2h0M403,283.8h0M450.8,270.1h0M379.4,286.3h0M506.5,282.3h0M518.5,258.4h0M446.7,263.4h0M368.6,278h0M449.9,265.8h0M525,284.1h0M414.4,262.1h0M393.8,265.5h0M391,278.2h0M484.8,253.2h0M491.1,280.3h0M430.2,266.9h0M452.4,269h0M450.8,267.3h0M416.2,280.8h0M379.4,284.2h0M451.5,242.8h0M396.4,286h0M413,275.4h0M457.7,270.3h0M511.2,276.5h0M407.1,281.5h0M519.8,270.8h0M421.3,279.9h0M426.7,273.1h0M499.2,260.7h0M396.8,286.1h0M393.5,285.1h0M503.3,281.8h0M498.8,283.6h0M381.6,282.4h0M463,258.1h0M466.9,245.7h0M447,222.1h0M502.3,275.8h0M500.1,273.3h0M498.1,282.7h0M473.4,272.7h0M435.1,252.3h0M475.7,269.1h0M506.9,280.7h0M427.8,269.7h0M473.3,272.5h0M418.3,273.4h0M421.4,276.3h0M454.2,270.2h0M465.9,249.4h0M464.6,272.7h0M453.4,267.2h0M431.8,275h0M511.9,268.6h0M456.3,268.8h0M381.5,274.9h0M403.7,259h0M505.4,284.5h0M524.5,271.3h0M377.6,283.9h0M411.6,277.2h0M499.5,283.3h0M376.3,278.6h0M396.8,283.8h0M412.2,281.5h0M382.7,280.5h0M487.8,269.5h0M453.4,250.3h0M374,272.3h0M458.5,269.2h0M480.9,277.2h0M450.2,271h0M500.4,279.3h0M519.1,280.9h0M489,275.1h0M372.9,282.3h0M458.9,261.5h0M375.2,279h0M488.8,279h0M420.3,274.8h0M483.5,277.2h0M510.3,281.1h0M452.8,257.2h0M416,282.7h0M473.9,259.9h0M515.6,284h0M370.5,286h0M428.7,274.9h0M472,263.9h0M463.1,246.2h0M502.6,284h0M375.2,282.5h0M366.6,284.6h0M511.8,274.3h0M482.1,250h0M382.9,272.3h0M485.4,281.6h0M518.1,284.3h0M441,268.3h0M440.3,270.9h0M494.2,276.9h0M388.1,285.5h0M406.4,285.7h0M375.8,268.5h0M369.1,286.8h0M377.3,287.1h0M451.7,253.9h0M504.4,282.3h0M498.2,263.1h0M404.8,286.7h0M423.4,277.7h0M523.6,286.5h0M429.8,271.1h0M436.8,275.5h0M477.8,274.2h0M420.7,266.9h0M489.9,283.5h0M464.8,256.3h0M375.6,286.9h0M489.5,279.1h0M398.7,283.3h0M474.1,269.8h0M490,282.5h0M432.3,268h0M499,276.7h0M481.3,277.3h0M393.9,282.7h0M390.6,282.1h0M502.4,267.4h0M420.7,279h0M461.6,270.2h0M458.6,271.1h0M491.3,277.6h0M504.5,282h0M408.5,282.2h0M477.8,274.9h0M519.4,272.3h0M446.9,271.4h0M428.5,275.4h0M515.1,281.7h0M488.1,272.3h0M368.9,258h0M489.7,279.2h0M445.3,272.1h0M481.3,276.4h0M421.5,279.4h0M428.7,274.4h0M425.9,250.3h0M493,280.7h0M475.7,264.9h0M454.7,224.9h0M518,283h0M487.8,280.6h0M437.4,271.7h0M391,280.7h0M505.3,279.7h0M390.2,274.1h0M489.5,273.4h0M451.9,268.9h0M388.2,281.2h0M471.3,262.3h0M428.4,249.4h0M401.1,281.7h0M374.6,246.6h0M449.6,265.5h0M469.5,272.7h0M505.8,273.8h0M403.1,282.7h0M501.3,282.4h0M396,280.5h0M499,283.2h0M465.7,261.8h0M422.3,267h0M425.6,251.4h0M401.5,271.4h0M374,282.5h0M374.5,274.7h0M486.5,276.8h0M419.9,266h0M383.7,282.9h0M512,283.6h0M490.7,280.5h0M466.7,257.5h0M386.4,276.7h0M419.9,278.1h0M402.5,280h0M519.1,279.3h0M491.7,278.3h0M483.7,276.2h0M446.3,273.9h0M506.5,281.3h0M479.1,262.3h0M456.4,268.6h0M504.9,285.2h0M485.9,281.2h0M477.2,273.6h0M507.1,278.3h0M383.3,257.3h0M420.1,279.6h0M500,284.5h0M398.1,284.5h0M430,260.5h0M376.6,279h0M409.2,276.6h0M491.4,276.4h0M385.7,278.6h0M437.2,276.6h0M524.7,281.6h0M476.3,229.7h0M403.7,281.7h0M427.6,268.7h0M498.9,276h0M420.3,278.9h0M422,270.3h0M439.3,268.8h0M419.4,276h0M505.5,253.6h0M389.6,280h0M392.8,262.3h0M446.6,274.2h0M495,264h0M383.7,282.7h0M374.8,260h0M524.8,284.3h0M461,271.3h0M441.7,252.9h0M491.5,279.9h0M498.5,284.7h0M490.8,280.2h0M498.3,281h0M447.5,271.8h0M376.2,284.8h0M377.8,284h0M425.4,257.6h0M423.7,277.5h0M433,274.6h0M404.9,272h0M441.1,271.9h0M462.2,263.1h0M516.5,266.6h0M424,278.4h0M435.2,267.5h0M464.3,267.1h0M461.6,269.9h0M391.9,285.1h0M441.8,275.9h0M395.8,280.4h0M390.2,284.8h0M384.7,275.6h0M432.4,253.5h0M476.1,268.8h0M455.9,231.3h0M377.8,286.2h0M365.8,279.8h0M503.7,275h0M501.6,272.9h0M372.3,288.1h0M472.1,269.8h0M390.2,266h0M475.7,275.4h0M412.7,264.3h0M502.8,275.2h0M517,276.5h0M513.7,279.9h0M435.4,274.8h0M399.6,285.5h0M388.1,281.1h0M464.5,252.3h0M387.2,276.7h0M436.5,271.3h0M367.9,274.3h0M448.9,272.4h0M440.8,275.9h0M411.9,284.3h0M497.4,277.3h0M510.7,283.4h0M505.4,266.4h0M442.5,275.9h0M387.4,269.9h0M456,256h0M453.3,237.6h0M430.2,247.9h0M524,286.3h0M404.6,259h0M411.1,279.9h0M455.2,265.5h0M382.1,279.9h0M427.9,275.8h0M414.3,279.3h0M388.4,265.1h0M372.9,286.3h0M415.3,251.1h0M384.7,285.8h0M417.1,275.4h0M441.5,267.5h0M371.8,268h0M479,265.4h0M394.6,284.7h0M521,248.5h0M447.3,267.4h0M439.6,276.6h0M473,266.1h0M459,259.8h0M441.9,275.4h0M517,285.1h0M408.2,282.5h0M462.5,266h0M456.5,259.5h0M462.8,270.2h0M424.3,271.8h0M462.2,260.6h0M373.3,265.8h0M445.2,271.3h0M420,276.1h0M371.8,282.2h0M375.7,268.1h0M466.6,270.6h0M445.1,268.8h0M384,284.8h0M494,246.9h0M418.5,280.9h0M410.5,280.8h0M491.9,282h0M463.8,263.2h0M365.8,282.9h0M381.5,286.5h0M383.5,284.9h0M451.5,270.1h0M511,275.8h0M522.3,279.6h0M406.1,284.2h0M495.7,282.2h0M380.1,285.1h0M384.9,275.9h0M507.6,273.8h0M369.3,276.5h0M497.9,284.1h0M409.9,285h0M524.3,277.2h0M429,271.4h0M471.3,272.1h0M412.9,274h0M416.8,278.7h0M419.3,268.7h0M365.1,281.4h0M435.6,268.5h0M462.5,261.9h0M392.7,268.1h0M497,283.7h0M470.2,273.9h0M408.9,280.7h0M435.6,275.8h0M505.2,277.9h0M395.8,270h0M456.5,270.9h0M503.3,284.7h0M379.6,281.2h0M384.4,278h0M521.2,281.3h0M513.3,276.9h0M506.5,285.3h0M445.9,266.1h0M489.7,280.1h0M441.2,269h0M479.5,274.5h0M479.7,267.6h0M473,274.6h0M427.6,272.6h0M424.7,271.7h0M493.7,276.6h0M393.2,279.2h0M477.1,273.8h0M458.3,271.4h0M391.5,283.5h0M489,281.5h0M409.1,267.7h0M431.5,273.6h0M448.8,266.6h0M499.3,285h0M444.5,266.1h0M495.7,270.1h0M465.8,270.2h0M382.5,285.8h0M442.6,272h0M471.6,248.5h0M393.2,283.5h0M420.9,266.4h0M413.1,276.3h0M452.3,266.7h0M454.4,260.3h0M500.2,283h0M402,283.7h0M500.3,277.1h0M503.1,282.1h0M385.4,273.7h0M517.4,271.8h0M474.5,275.1h0M430.7,274.5h0M378,287.1h0M411.1,268h0M463,267.3h0M422.2,279.6h0M508.8,260.3h0M511.4,280.9h0M456.8,263.7h0M400.4,279.6h0M458.1,262.6h0M374.8,285.7h0M475,272.9h0M489.2,282.7h0M473.3,249.9h0M369.9,252.1h0M374.7,287h0M450.4,269.3h0M421.2,279.7h0M486.3,282.7h0M518.8,246.5h0M498.7,284.4h0M464.4,265.2h0M429.8,272.5h0M491.9,283.2h0M425.1,233.9h0M493.1,267.3h0M503.7,283.6h0M513,280.5h0M453.1,268.8h0M472.3,272.2h0M401.8,259.3h0M388.8,272h0M365.6,279.5h0M505.5,283.2h0M453.4,260.3h0M514.1,272.7h0M377.2,282.6h0M414.5,279.1h0M489.2,277.6h0M387.5,285.2h0M504.2,270.2h0M397.3,281.8h0M382.5,277h0M403.2,285.6h0M514,263.7h0M483.1,267.4h0M395.8,261.6h0M398.9,284.2h0M472.7,270h0M477.5,272h0M492.1,267.2h0M515.7,275.9h0M375.2,282.6h0M428.5,269.3h0M503.7,282.8h0M508.7,263.5h0M472.7,259.6h0M433.9,275.3h0M440.4,274.5h0M497.2,277.9h0M505.5,279.5h0M373.6,278.1h0M416.9,264h0M410.4,274.6h0M395.8,281.4h0M461.3,267h0M370.2,280.4h0M484.3,279h0M411.8,270.5h0M473.4,271.5h0M499.7,251.6h0M524.2,282h0M519.5,274.1h0M437,276.7h0M482.8,276.8h0M503.2,279.8h0M498.3,279.6h0M466.1,265.2h0M436.4,274.5h0M521.5,286.8h0M503.8,282h0M383,260.7h0M367.4,286.6h0M403.6,257.4h0M455.4,269.1h0M458.4,259.7h0M500.8,285.3h0M513,261.9h0M402.2,281h0M448.9,268.2h0M404.1,279.6h0M478,268.3h0M516.6,280.9h0M451,253.4h0M463.7,272h0M460.2,262.4h0M481.3,265.1h0M437,265.7h0M394.7,281.5h0M505.6,274.8h0M445.1,272.4h0M457,263.3h0M425.1,273.5h0M521,282.6h0M394.7,283h0M437.2,269.5h0M485.7,272.6h0M496.7,265.8h0M478.1,276.3h0M409.4,256.7h0M368.4,276.1h0M513.1,266.8h0M389.4,282h0M425.1,277.4h0M463.3,260.1h0M474.1,251.5h0M416.2,282.8h0M393.6,251.2h0M388.7,284.7h0M474.9,269.1h0M511.7,273.2h0M505.4,282.1h0M367,267.8h0M407.2,282.9h0M509.4,283.6h0M388.1,283.4h0M502,269.4h0M450.5,269.8h0M412.8,277.3h0M435.6,269h0M411.6,276.9h0M406.9,281.2h0M511.6,279.4h0M383.6,283.4h0M474.5,273.5h0M420.7,278.5h0M454.9,264.5h0M436.5,272.6h0M379.3,266.6h0M420.1,280.2h0M397.3,286.2h0M504.9,283.7h0M515.2,279.3h0M384.6,281.4h0M399.4,275.6h0M519.6,265.8h0M399.4,272.8h0M462.4,272.4h0M451.2,262.1h0M430.7,273.9h0M512.6,280.1h0M430.7,261.3h0M465.3,261.9h0M437,263.3h0M390.3,266.5h0M477.3,276.5h0M468,272.2h0M510.5,282.8h0M389,277.5h0M408.7,283.8h0M454.9,260.5h0M479.3,271.9h0M478.7,269.8h0M399.8,286h0M498.2,284.2h0M377.4,267.6h0M366.7,279.4h0M508.3,280.2h0M484,280.8h0M483.1,264.4h0M466.3,269h0M462.5,268.3h0M500.1,281.6h0M506.7,274.4h0M452.3,252h0M484.6,277.9h0M502.5,283.9h0M494.3,277.8h0M426.9,265.4h0M455.6,269.4h0M494,283.7h0M519.2,262.4h0M516.7,277.8h0M506.2,270.1h0M377.2,284.6h0M514.1,271.7h0M386.4,278.3h0M471.8,255.3h0M481.9,275.9h0M503.5,279.9h0M433.7,265.3h0M431.3,268h0M476.8,273h0M368.8,266h0M437,259.7h0M368.6,277.5h0M413.2,274.2h0M416.6,280.9h0M468.5,272.1h0M492.7,280.5h0M501.2,282.5h0M437.4,269.2h0M373.9,287.3h0M405.1,282.1h0M508.5,285.2h0M406.9,285.6h0M496.2,273.3h0M453.5,268.4h0M497.2,271.7h0M463.9,266.7h0M419.2,275.7h0M376.1,271.7h0M370.8,273.9h0M514.8,276.1h0M386.6,275.2h0M396.5,281.8h0M417.9,279.4h0M484.7,277.9h0M446.4,273.8h0M397.4,284.5h0M395.6,279.3h0M387.9,270.7h0M376.3,263h0M492,280.2h0M449.2,269.3h0M417.5,278.1h0M434.1,272.9h0M447.7,269.5h0M467.9,272.5h0M524.7,286.5h0M369.2,271.9h0M522,283.1h0M376,271h0M487.3,259.5h0M377.5,281.9h0M433.6,271.1h0M388.7,277.9h0M426.4,274.5h0M469.6,261.6h0M432.6,272.4h0M383,284.8h0M482.5,276.8h0M440.8,272.8h0M407.4,266.7h0M491.2,281.1h0M465,248.3h0M492.7,284.1h0M408,267.6h0M524.9,280.5h0M496.9,280.6h0M371,277.3h0M403.8,283.3h0M466.7,265.8h0M500,280.4h0M393.2,282.9h0M491.7,276.6h0M473.5,273h0M396.7,274.7h0M493.2,282.4h0M415.4,245.5h0M493.6,282.6h0M406.9,276.8h0M478.1,273h0M493,254.4h0M434.8,273.1h0M398.5,276.7h0M383.1,279.9h0M376.7,287.7h0M519,283.6h0M416.1,273.3h0M378.3,276.5h0M444.9,265.7h0M469.7,269.3h0M509.3,281h0M390,272.5h0M373.3,285.4h0M509.5,284.3h0M419.9,280.6h0M508,284.4h0M455.2,262.6h0M506.1,284.9h0M367.5,281.6h0M394.3,281.8h0M510.7,278.4h0M399,282.5h0M493.4,274.4h0M398.3,264.3h0M453.7,268.1h0M458.7,271.4h0M514.4,262h0M513.8,279.9h0M468.8,270.7h0M477,270.1h0M511.9,276.8h0M502.4,285h0M494.2,272h0M461.1,268.8h0M522.2,265.8h0M516.6,262h0M436.9,245.1h0M486,243.4h0M511.9,284.5h0M393.9,284.8h0M420.9,278.4h0M408.3,285.2h0M498.2,284.1h0M369.4,262.4h0M407.2,282.8h0M448.1,268.7h0M426.9,249.5h0M391.5,282.7h0M512.1,276.4h0M482.6,276.4h0M403.6,282.4h0M376.4,285.8h0M414.5,242.3h0M501.3,279.5h0M444.4,274.9h0M475.2,258.8h0M494.2,280.9h0M372.3,263.7h0M384.9,277.4h0M373,283.3h0M386.9,277.9h0M373.1,283.7h0M469.3,264h0M425.8,272.6h0M430.5,275.8h0M476.1,264.8h0M463.6,269.5h0M373.8,275.1h0M498.5,281.4h0M430.1,273.5h0M401.3,282.3h0M451.3,242.9h0M462.8,264.9h0M406.9,266.3h0M422,257.4h0M470,248.5h0M461.3,268.7h0M445.8,269.4h0M396.7,261.3h0M473.7,261.8h0M491.4,279.5h0M460.9,270.6h0M456.5,251h0M385.1,281.2h0M411.6,278.3h0M519,281.1h0M410.6,271.5h0M406.4,276.2h0M459.4,258.9h0M489.6,266.9h0M517.5,276.1h0M496.7,284.4h0M424.6,260.3h0M441,266.2h0M511.6,276.5h0M512.2,280.4h0M492,281.2h0M523.3,273h0M520.8,283.7h0M409.6,284h0M411.9,280.4h0M491.1,276.1h0M447.3,267.4h0M442,274.9h0M367.5,275.9h0M392.3,282.3h0M433.6,260.1h0M483.4,259.9h0M495.7,275.8h0M388.5,277.8h0M421,273.9h0M382.7,285.1h0M473.6,270.7h0M468.4,269h0M466.5,268.1h0M399.5,265.9h0M479,276.6h0M464,259.9h0M421.7,274h0M389.9,272.5h0M484.4,276.6h0M439,274.7h0M370.1,284.1h0M389.7,281.2h0M374.9,275.4h0M422.2,278.8h0M493.2,278.7h0M440.2,276.2h0M370.4,281.7h0M524.2,284.7h0M385.8,281.6h0M513.8,275.1h0M367.7,285.7h0M426.7,274.8h0M461.7,268.2h0M472.3,274.8h0M510.8,284.2h0M367.3,283.5h0M400.6,286.8h0M516.7,284.3h0M477.3,274.8h0M494.5,258h0M409.4,284.5h0M386.7,270.8h0M431,269.8h0M424.1,272.1h0M427,273.3h0M469.5,253.2h0M469.4,264.4h0M372.2,277.3h0M372.2,275.2h0M418.7,267.3h0M418.2,266.7h0M418.6,254.1h0M418.7,272.9h0M508.7,240.4h0M508.8,248.4h0M508.7,240.1h0M508.8,249.6h0M415.7,259.1h0M415.9,257.9h0M484,270.2h0M483.6,263.8h0M483.5,274.6h0M477.6,238.5h0M477.1,246.8h0M477,267.6h0M477.3,246.1h0M477.1,267.3h0M506.3,276.4h0M506.3,267.7h0M506.3,273.9h0M502.7,258.2h0M502.7,267.7h0M502.4,274.5h0M435.8,262.6h0M431.6,259.1h0M454.1,259.8h0M375.2,265.9h0M375.4,258.7h0M516.1,276.4h0M408,259.3h0M408.8,264h0M408.9,270.7h0M472.6,247.5h0M473.1,260.9h0M472.6,252.3h0M485.3,274.3h0M426.6,259.6h0M426.7,262.1h0M426.6,258h0M426.3,271h0M382.6,278.5h0M382.4,269.4h0M524.6,314.1h0M424.6,320.6h0M379.8,319.5h0M373.4,312.8h0M515.6,311.9h0M449.3,315.1h0M400.7,320.1h0M445.8,299.4h0M487.9,315.2h0M392.9,316.8h0M454.3,305.8h0M435.3,299.6h0M380.9,322.1h0M521.2,314.3h0M403.2,317.8h0M414.4,320.4h0M486,315h0M387.3,322.5h0M491.7,308.8h0M388.1,350.8h0M512,326.8h0M460.2,300.7h0M421.4,306.3h0M456.5,308h0M388.1,322.6h0M494.5,309.2h0M376.7,314.1h0M488.9,312h0M386.1,313.8h0M503,319h0M443,330h0M417.4,317.5h0M460.6,303.6h0M398.7,323.2h0M495,306.7h0M478.1,331.7h0M494.9,306.8h0M379,322.1h0M508.2,335.2h0M369.1,345h0M468.2,305.6h0M403,317.7h0M515.4,338.1h0M511.1,324.6h0M403.2,317h0M406.4,314.1h0M472,321.5h0M509.4,309.8h0M385.9,313.4h0M404.8,323.7h0M391.5,317.4h0M510.9,328.7h0M398.1,329.1h0M499.2,325.1h0M426.3,307.7h0M380.7,325.9h0M401.4,314.9h0M414.7,315.1h0M513.6,321.1h0M491.1,309.9h0M475.6,301.7h0M446.1,323.4h0M408,314.8h0M511.6,320.3h0M466.4,311.1h0M481,313.8h0M517.6,310.1h0M373.3,334.4h0M397.4,318h0M383.3,329.3h0M434.5,301.6h0M453.9,305.2h0M436.5,312.3h0M456,303.5h0M472.2,313.5h0M442,302.2h0M524.5,344h0M445.7,300.4h0M427.9,307.5h0M465.8,327.1h0M388.3,317.2h0M376.9,317.7h0M399.7,322h0M499.2,309.2h0M381.7,335.9h0M481.5,307.4h0M470.4,307h0M365.4,329.9h0M464.7,315h0M396.9,316.6h0M430.3,314.4h0M483.6,309.9h0M413.4,320.3h0M371.3,317.5h0M418.5,318h0M372.2,315.3h0M388,312.6h0M523.9,314.2h0M418.7,308.3h0M403.1,322.5h0M467.1,304.9h0M411.1,319h0M484.9,311.6h0M373.8,317.5h0M448.6,303h0M374,330.2h0M459.4,300.9h0M365.2,312.4h0M511.4,321.3h0M417.4,306.2h0M480.1,310.8h0M379.1,326h0M446.4,324.8h0M380.6,320.3h0M488.7,311.7h0M492.9,309.2h0M482.7,306.3h0M384.8,318.6h0M522.1,316.8h0M438.2,311h0M414.9,309h0M367.9,323.3h0M510.2,324.5h0M387.7,315.3h0M503.5,314.2h0M491.7,315.2h0M478.8,302.1h0M464.5,325h0M479.9,305.2h0M504.9,324.4h0M472.8,317h0M522.1,310.4h0M369.3,314.8h0M488.8,340h0M366.8,311h0M499.9,306.8h0M369,325.6h0M452.1,301.6h0M424.1,314h0M500.4,313.2h0M488.3,320.9h0M394.7,318.8h0M425,309.1h0M507.5,324.6h0M485.6,304.5h0M420.4,310.3h0M439.8,305.1h0M372.7,311.7h0M475.8,301.9h0M453,315.8h0M391.8,318.7h0M439.3,299.7h0M505.4,356.7h0M391.4,322h0M383.9,315.4h0M471.9,312.5h0M513.8,309.3h0M372.8,311.9h0M474.1,300.5h0M397.2,311.9h0M465.4,303.4h0M401.9,315.3h0M521.1,312.3h0M408.1,315.9h0M480.1,306.5h0M379.1,313.5h0M493.1,310.3h0M390.6,315.1h0M484.8,313.6h0M504.9,319h0M508.2,329h0M500.8,327.3h0M412.9,328h0M416,320.1h0M435.3,301.1h0M452.9,365.6h0M448.8,303.6h0M396.8,331.1h0M417.7,310.7h0M483.4,307.1h0M434.2,312.2h0M414.8,312.6h0M457.6,304.1h0M517.8,319.3h0M479.5,302.9h0M444.5,306.6h0M486.3,305.6h0M441,312.3h0M393.4,318.1h0M427.6,301.2h0M524.5,319.4h0M500.8,309.2h0M496.6,314.1h0M410.1,320.3h0M501,314.7h0M446,316.8h0M498.3,324.4h0M523,323.9h0M381.3,321.9h0M449.1,301.6h0M498,307.3h0M403,316.4h0M510.3,312h0M503.9,308.1h0M503.8,308.7h0M493.3,342.3h0M523,313.2h0M506.2,313.8h0M421.7,305h0M469,307.5h0M386.8,317.4h0M453.4,318.7h0M498,317.3h0M513,310.9h0M408.2,322.6h0M412.3,326.8h0M511.5,321.2h0M446.5,302.7h0M503.8,350.9h0M424,305.2h0M412,336h0M398.2,328.3h0M494.4,309.3h0M383.3,326.7h0M458.3,311.3h0M515.6,313.4h0M469.3,302.6h0M444.4,299.5h0M492.8,308.8h0M388.3,318h0M431.7,301.6h0M477.6,302.1h0M414.1,333.8h0M420.6,308h0M395.4,320.5h0M390.7,317.9h0M457.8,301.3h0M372.3,314.3h0M399.3,317h0M456.7,317.6h0M384.9,334.9h0M398.5,313.8h0M445,299.3h0M524,312.4h0M366,315.3h0M433.4,310.8h0M486.6,364h0M522.2,330.4h0M413.9,306h0M446.1,300.4h0M402.8,325h0M370.1,320.9h0M421.8,303.1h0M408.1,313.4h0M395.7,317.8h0M419.2,311.9h0M394.9,324.1h0M492.1,356.2h0M399.2,324.6h0M419.6,305.9h0M467.1,319.6h0M476.1,327.1h0M429.4,301.7h0M486.6,310.9h0M435.7,300.9h0M437,299.7h0M481.4,311.1h0M449.4,299.6h0M366,338.3h0M397.2,347.4h0M512.8,313.4h0M417.2,304.8h0M412.9,313.9h0M428.7,302.3h0M463.6,317.4h0M428,303.1h0M412.7,311.4h0M518.7,347.4h0M377.5,315h0M496.4,323.2h0M415.7,320.5h0M430,301.5h0M503.9,322.7h0M451.2,299.5h0M446.6,325.9h0M449.6,302.5h0M464,308.1h0M447.8,312.4h0M491.6,308.2h0M411.2,315.5h0M420.6,317.3h0M486.4,316.8h0M513.2,330h0M501.7,313.3h0M516.7,309.2h0M475.9,308.1h0M434.2,310.4h0M449.8,305.1h0M383.3,321.3h0M409.8,313.4h0M404.5,315.9h0M401.4,327h0M433.3,307.3h0M505.5,316.2h0M461.9,300.5h0M396.3,326.3h0M447.8,309h0M373.7,312.9h0M415.1,306.3h0M517.9,328.3h0M506.3,314.7h0M419.7,314.7h0M382.6,331.6h0M472.2,315.6h0M485.9,309.5h0M508.8,314.3h0M402.7,318h0M476.4,323.5h0M442,305.3h0M387.2,331.3h0M433,314.6h0M374.8,314.6h0M483.9,307.8h0M368.9,312.5h0M469.1,304h0M514.1,309.4h0M471.2,300h0M495.4,322.4h0M373.5,311.2h0M517,336.1h0M511.9,308.7h0M441,299.6h0M374.6,314.9h0M519.1,310.7h0M405.9,321.2h0M449,309.1h0M459.6,306.6h0M378.8,357.7h0M489.7,326.3h0M424,306.7h0M387.5,312.4h0M456.8,302.8h0M408.7,319.1h0M418.8,306.8h0M503.7,356.9h0M448.3,301.6h0M421.1,335.4h0M384.7,313.7h0M456.9,306.8h0M492.9,314.9h0M496.2,323.9h0M499,318.3h0M388.7,320.5h0M523.5,314.2h0M417.8,308.2h0M488.6,323.6h0M500.8,320h0M430.6,306.3h0M500.7,322h0M476.7,301.2h0M431.5,306.1h0M448.6,300h0M384.9,313.5h0M379.1,349.4h0M472.7,310.4h0M489,318.2h0M490.6,325.8h0M473.7,303.3h0M519.1,325.2h0M481.4,308.5h0M382.9,314.5h0M374.6,334.1h0M378.8,314.5h0M510,308.5h0M497.6,316.1h0M511,320.5h0M405.6,327.3h0M489.1,307.2h0M408.9,317.5h0M453.2,301.2h0M422.4,308.1h0M484.1,303.4h0M413.9,316.1h0M454.7,317.4h0M507.2,319.6h0M391.4,314.5h0M470.6,307.9h0M521.9,315.4h0M396.9,319.7h0M477.7,305h0M404.8,339.6h0M514.6,323.9h0M412.7,308.1h0M468.3,328h0M508.4,308.5h0M402.6,330.4h0M524.4,318h0M504,313.5h0M382.9,337.8h0M429.8,312.1h0M478.9,312h0M506.4,317.1h0M403.9,312h0M501.1,309h0M374.8,328.3h0M389.9,313.1h0M473.2,330.8h0M519.5,325.3h0M419.8,308.8h0M374.7,320.8h0M502.6,306.9h0M417.5,318.5h0M431,326.1h0M431.8,346.8h0M379.2,333.4h0M515.4,320.6h0M501,309.4h0M452.8,303.5h0M370.3,350.6h0M375.5,317.8h0M410.9,320.8h0M510.9,320.1h0M424.2,303.3h0M409.5,309.3h0M511.4,315.7h0M397.5,312.3h0M388.4,312.4h0M430.3,307.6h0M512.2,310.6h0M382.8,315.3h0M368.3,311.8h0M414.1,309.9h0M506,322.5h0M509.9,316.9h0M418.7,305.1h0M517.9,309.1h0M496.8,330.2h0M494.9,329.7h0M433.3,328.6h0M422.7,322.8h0M373,332.6h0M425.4,312.7h0M370.7,310.8h0M381.2,315.8h0M413.3,341.9h0M432.9,312.5h0M408.7,312h0M487,307.3h0M504.7,345.9h0M438.9,300.7h0M392.6,322.3h0M411.9,311.7h0M439.6,310.6h0M420.3,313.9h0M447.4,309.8h0M440.6,326.3h0M495.9,312.2h0M412.1,325.6h0M429.9,310.8h0M510.5,344.5h0M375.7,322.2h0M449.7,303.5h0M383,323.5h0M431.9,319.3h0M442.3,303.8h0M428.8,303.6h0M491.3,311h0M485.3,307.2h0M525,325.9h0M465,314.6h0M477.4,307.1h0M389.1,334.2h0M518,313.9h0M495.1,307.7h0M404.8,335h0M418.3,331.7h0M457.1,303.3h0M444.4,320.5h0M405.5,312.3h0M398.5,318.2h0M381,314.7h0M520.4,324.9h0M406.9,310.7h0M369.7,317.4h0M494.5,313.3h0M467.6,308.2h0M415.9,325h0M519,310.1h0M479.5,309h0M439.3,306.1h0M426.2,302.4h0M431.7,305.2h0M461.9,300.4h0M372.1,311.6h0M388.1,316.1h0M465.5,307.1h0M504.3,324.3h0M507.9,322.1h0M524.6,324.6h0M428.1,305.7h0M382.4,315.9h0M519.1,333.1h0M505.9,327.9h0M498.1,322.1h0M372.8,317.3h0M521.9,312.3h0M451,304.9h0M495.4,314.9h0M383.3,322.3h0M523.7,314h0M444.8,306h0M426.3,303.6h0M396.7,318.4h0M436.1,301.9h0M510.6,309.3h0M512.2,318.5h0M504.5,320.2h0M473.5,301.9h0M517.4,332.3h0M441.5,331.4h0M466.3,301.4h0M414.2,307.5h0M467.7,327.7h0M388.8,313.8h0M375.2,321.5h0M520.8,325.4h0M470.8,304.8h0M505.3,307.1h0M443.5,315.6h0M523.6,335.4h0M522.3,314h0M517.6,321.2h0M416.8,321.6h0M463.4,303.8h0M386.4,313h0M449.5,315.3h0M383.4,316.8h0M453.7,303.5h0M436.5,309.5h0M434.7,313.6h0M514.1,322.3h0M426.1,333.1h0M423.9,305.8h0M468.4,305.1h0M407.2,317.4h0M512,337h0M419.2,305.6h0M378.5,319.8h0M431.4,309h0M474.5,303.5h0M434.6,302.4h0M520.8,311.1h0M416,307.4h0M385.6,313.8h0M396.4,313.8h0M454.1,326.9h0M524.4,311.4h0M500.2,326.1h0M489.7,310.8h0M373,317.7h0M462.4,305.6h0M514.1,309.5h0M407.9,320.6h0M500.6,308.5h0M460.8,307h0M428.6,307.8h0M384.9,320.9h0M471.7,302.2h0M468.6,304h0M507.2,311.6h0M401.7,318.2h0M523.7,317.2h0M445.8,311.6h0M371.7,314.9h0M434.9,306.4h0M507,309.2h0M517.1,316.9h0M488.7,307h0M487.8,308.9h0M508.1,308h0M494.5,308.6h0M377.8,322.8h0M401.8,346.4h0M489.9,308.2h0M393.3,333.2h0M512.2,318.8h0M488.6,307.6h0M503.6,316.9h0M444.7,300.1h0M486.2,315.6h0M423.7,305.5h0M441.3,308.2h0M388.3,315.2h0M436.7,299.8h0M518.3,315.3h0M466.9,313.4h0M493.2,315.7h0M483,304.4h0M409.6,312.2h0M520.6,319.1h0M460,325.7h0M371.5,315.2h0M508.8,311h0M412.4,314.4h0M399.2,318.1h0M470.4,322h0M396.9,312.4h0M476.1,305.7h0M512.4,333.2h0M511.6,308.3h0M482.5,304h0M472,308.8h0M430.4,314.7h0M386.1,343.9h0M399.4,314h0M469.1,306.6h0M497.5,305.8h0M517.5,317.2h0M415.3,324.8h0M506.2,335.3h0M412,313.5h0M440.9,302.4h0M486.1,310.6h0M388.5,320.3h0M497.8,306.8h0M498.3,329.8h0M481.5,306.3h0M523.6,315h0M520,309.4h0M486.9,310.6h0M498.8,315.3h0M524.6,313.6h0M436.9,303.5h0M494,318.3h0M489.8,305.9h0M372.3,313.3h0M502.4,322.2h0M374.9,312.4h0M482.5,305.2h0M472.3,303.5h0M509.3,311h0M487.1,315.2h0M366.2,312.5h0M493.1,326.1h0M477.3,305.6h0M435.6,312.5h0M486.5,337.7h0M423.7,315.8h0M399.6,341.6h0M472.7,307.4h0M397.3,313.9h0M384.3,314h0M492.6,311.6h0M488.2,309.9h0M461.5,308.9h0M438.9,303.4h0M523.9,310.2h0M367.5,322h0M411.1,310.7h0M402.6,315.1h0M471,300.6h0M473.4,340.2h0M473.7,359.4h0M473.2,323.7h0M514.9,329.9h0M514.7,334.9h0M514.7,323.7h0M484.1,337.4h0M484,325.2h0M484.3,345h0M484.2,324.1h0M484.4,322.9h0M403.7,334.4h0M403.8,335.2h0M403.6,324.4h0M457.1,311.3h0M457.2,338.5h0M457.1,333.8h0M456.9,351.5h0M456.7,353.4h0M456.9,346.4h0M504.4,339.5h0M504.6,367.2h0M504.6,339.8h0M412.1,325.1h0M412.2,329.3h0M411.9,345.7h0M411.8,363.2h0M412.2,312.9h0M412.4,330.1h0M412,356.5h0M374.4,330.1h0M374.4,320.2h0M373.8,319.5h0M374.5,329.8h0M374.1,335.6h0M426.7,313.8h0M426.9,309.2h0M427.4,307.1h0M366.6,363.9h0M366.2,318.1h0M366.6,348.6h0M366.5,361.3h0M366.1,345.6h0M366.4,331.6h0M398.6,331.5h0M492.1,344.5h0M492.5,322.5h0M492,316.3h0M491.5,358.3h0M492.4,344.6h0M491.9,325.8h0M418.5,340.1h0M418.9,318.3h0M418.2,327h0M418.7,347.1h0M435.6,315.7h0M435.1,316.4h0M435.4,318.8h0M435.1,310.4h0M388.9,318.1h0M389.4,320.3h0M389.4,318.2h0M388.9,329.7h0M470.1,315.7h0M470.2,307.5h0M516.8,325.1h0M516.2,345.5h0M517.2,326.4h0M516.3,344.1h0M516.2,316.2h0M423.7,310.7h0M423.4,320h0M423.6,324.6h0M454.7,307.4h0M454.6,309.1h0M520.3,318.4h0M520.3,320.1h0M473.7,342.6h0M473.4,353.8h0M474,318.9h0M473.5,342.5h0M473.8,348.6h0M486.5,319.2h0M396.5,341h0M522.6,316.1h0M522.6,332.8h0M522.8,327h0M522.2,319.3h0M522.5,319.3h0M459.5,307.3h0M459.7,320.1h0M373.9,321.5h0M374,319.5h0M424.9,313.3h0M425.3,323.2h0M425.3,311h0M438.3,305h0M414.5,317.1h0M459,314.3h0M458.9,334.9h0M458.5,332.2h0M459,341.3h0M459.2,339.2h0M443.9,314.3h0M443.6,342.6h0M443.8,309.2h0M373.4,325.8h0M373.4,323.7h0M398.3,323h0M398.3,331h0M500.3,313.5h0M500.7,312.1h0M500.5,317.7h0M396.5,329.9h0M397.3,330h0M396.3,349.1h0M509.9,329.8h0M509.9,328.2h0M510.1,315.4h0M521.9,334.6h0M425.5,340.5h0M425.5,327.2h0M425.5,343.2h0M425.3,327.4h0M425.5,309.7h0M524.1,340.1h0M523.8,316.6h0M524.1,320.4h0M524.1,316.4h0M456.6,340.7h0M456.8,324h0M456.9,322.4h0M457,363.5h0M456.6,338.8h0M484.1,327.7h0M483.4,323h0M483.5,325.8h0M545.1,261.5h0M530.9,261.9h0M531.3,285.5h0M526.1,272.3h0M549.7,272.7h0M541.1,285h0M539.8,284.1h0M548,282.5h0M546.4,274.1h0M535.5,282.1h0M532.2,275.7h0M545,269.1h0M559.1,280h0M561.7,274.6h0M540,283.3h0M556.9,280.8h0M555.1,270.7h0M530.4,287h0M529.6,278.6h0M542.4,281.6h0M563.4,279.9h0M527.5,254h0M551,267.3h0M532.3,284.5h0M536.1,286h0M557.5,277.8h0M537.2,268.1h0M560.7,280.1h0M547.4,275.9h0M553.1,271.9h0M537.5,283.3h0M563.8,279.4h0M527.2,281.7h0M556.7,279.3h0M544.4,281h0M531.5,281.4h0M539.5,259.8h0M528.5,267.2h0M540.1,284h0M533.7,284.9h0M527,286.5h0M533.7,265.2h0M549.7,275.2h0M549.7,277.3h0M535.6,285.9h0M549.7,282.6h0M564.9,261.2h0M526.3,276.2h0M528.8,287.2h0M540.8,268.2h0M530.2,281.8h0M537.1,280h0M537.6,285.2h0M561.6,276.4h0M556.2,261.4h0M543.6,273.8h0M541.3,280.7h0M531.4,279.2h0M553.6,280.3h0M530.4,285.3h0M543.9,284.3h0M541.9,283.2h0M527.4,279.5h0M528.8,284h0M551.2,224.2h0M553,273.8h0M533.1,265.8h0M542.2,281.2h0M559.7,272.7h0M557.3,281.1h0M562.7,275.4h0M545.5,283.6h0M533.4,281.7h0M555,280.4h0M543.8,280.5h0M549.3,277h0M531.6,277.1h0M556.5,275.6h0M526.6,264.2h0M557.2,280.4h0M540.8,257.1h0M538.3,282.8h0M526.6,280.6h0M533.6,258.8h0M525.6,281.1h0M543.2,268.7h0M529.6,279.6h0M551.2,282.1h0M559.8,273.7h0M540.3,282.3h0M555.9,257.3h0M528.4,284.2h0M531.4,281.2h0M530,280.7h0M529.4,278.7h0M541,279.3h0M564.9,262.3h0M533,283.2h0M547.8,278.1h0M527.4,278.9h0M536.1,276.6h0M531.4,284.6h0M558.7,273.9h0M554.1,278.3h0M559.1,268.3h0M558.8,279.8h0M532.5,274.8h0M540,284.9h0M539.9,276.9h0M560.6,264h0M560.7,276.6h0M559.8,256.7h0M532.1,268.1h0M556.8,280.4h0M561,272.5h0M544.7,280.9h0M544.9,279.8h0M550.2,268.8h0M559.7,280h0M547.1,282.4h0M548.3,281.9h0M527,287.3h0M564,281.8h0M557.4,276.4h0M558.4,271h0M547.2,280.2h0M548.7,280.6h0M534.1,264.4h0M535.1,283.4h0M561.6,279.3h0M537.4,282.7h0M556.7,263h0M554.6,254.7h0M545.7,269.4h0M535.1,286h0M539.1,267.6h0M541.6,282.6h0M533.1,279.9h0M529.3,266.3h0M563.1,273.1h0M540.1,284.5h0M544.5,282.5h0M562,278.6h0M535,267.6h0M529.1,282h0M544.5,280.6h0M549.1,269.2h0M561.1,278.4h0M556.7,278.3h0M557.6,275.2h0M537.8,279.7h0M535.7,277.4h0M553,271.4h0M528.5,276h0M525.5,276.6h0M561.1,269.5h0M538.8,280.8h0M550.2,261.3h0M546.8,283.6h0M531.4,281.4h0M543.6,265.7h0M556.7,281.6h0M529.5,273.4h0M548.8,280.7h0M527.9,285.5h0M557,271.7h0M525.8,283.2h0M542.5,276.2h0M528.8,285.3h0M561.7,272.5h0M551,282.2h0M540,264.2h0M539.4,278.3h0M539.7,280h0M539.5,278.7h0M531.6,264.9h0M532.1,262.6h0M532.1,257.4h0M531.6,273.2h0M529.2,315.5h0M564.7,319.3h0M561.7,313.9h0M545.1,313.6h0M562.7,311.9h0M526.1,312.9h0M541.6,313.7h0M562,315.1h0M534.5,325.7h0M563.9,312h0M555.4,312.3h0M558.8,343.7h0M550.9,312.8h0M525.7,315.8h0M531.5,313.4h0M558.3,328h0M558,352.3h0M552.8,320.4h0M527.7,325.8h0M526.1,327.7h0M560.5,318.4h0M548.3,325.7h0M562.4,318.1h0M546.7,315.2h0M529.5,314.6h0M556.8,322.6h0M560.7,312h0M529.1,356.3h0M564.9,327.3h0M550.7,313.5h0M547,322.5h0M556.2,335.1h0M556,317.4h0M555.1,321.3h0M543.6,319.4h0M539.8,321.6h0M536.5,327.7h0M534.3,317.3h0M562.3,316.7h0M548.3,315.2h0M541.9,322h0M552.8,319.1h0M535.9,324.7h0M540.1,318.5h0M543.7,330.4h0M553.5,326.2h0M542.4,311.8h0M543.4,324.1h0M563.8,316.1h0M529.3,355.9h0M544.9,325.9h0M550,320.4h0M533.5,312.3h0M539.1,315.8h0M531,313.6h0M559,313.1h0M547.5,311.5h0M530.1,319.3h0M531.1,336h0M531.8,326.2h0M534.5,321h0M538,311.4h0M541.8,333.8h0M545,311.7h0M545.7,334.9h0M543.6,319h0M555.8,311.3h0M537.6,314.6h0M537.3,320h0M556.2,319.7h0M556.4,316h0M560.8,313h0M542.7,320h0M525.4,319h0M542.7,339.2h0M529.7,312.6h0M543.9,326h0M549.2,327.2h0M564.4,342.3h0M532.8,327.7h0M533.8,323.3h0M533.1,315.2h0M555.7,316.6h0M559.8,335h0M550.2,317.5h0M560.7,323.4h0M553,314.6h0M551.7,312.5h0M555,324h0M544.8,311.7h0M527,325.7h0M543.1,319h0M542.9,311.5h0M554.8,320.7h0M549.9,311.8h0M560.8,318.8h0M539.8,323.6h0M546.2,326.8h0M559.8,313.5h0M540,335.3h0M538.3,314.4h0M562.6,318.4h0M541.4,320.1h0M545,313.5h0M537,317.3h0M531.8,315h0M547.2,318.1h0M541.5,314.8h0M528,323.9h0M563.3,325.9h0M560.4,311.9h0M537.4,313.6h0M529.2,314h0M527.2,326.5h0M548.8,317.7h0M534.9,311.2h0M526.2,339.7h0M544.1,320.4h0M543.7,318.4h0M553.2,329.3h0M541.8,311.2h0M546.9,315.8h0M535,325.6h0M555.2,312.5h0M548.4,319.4h0M556.6,324.1h0M558.6,313.5h0M556,329h0M541.4,312.4h0M548.6,317.4h0M553,326.9h0M530.6,321.3h0M530.5,311.9h0M551.8,332.6h0M532,318.8h0M532.5,325.9h0M538.8,317.2h0M538.9,354.5h0M531.4,344.1h0M531.3,321.6h0M531,325.6h0M531.3,325.2h0M531.6,341.2h0M560.9,364.7h0M560.7,346.8h0M560.5,325.9h0M560.7,360.8h0M560.4,329.9h0M560.3,346.8h0M560.2,362.2h0M550.5,326.1h0M550.5,316.6h0M536.6,356h0M536.8,348.7h0M536.4,317.7h0M536.8,338.8h0M536.8,359.5h0M536.8,354.5h0M536.4,350.2h0M582.4,271.6h0M578.6,273.3h0M579.1,257.1h0M599.5,250.4h0M597,253.3h0M567.4,249.6h0M573.6,257.6h0M591,268.1h0M582,271.9h0M586,259.5h0M587.7,269.7h0M571.5,272.6h0M599.5,276.3h0M592,269.1h0M598.5,267.9h0M587,273.4h0M580.2,257.3h0M573,267.5h0M595.7,276.1h0M597.4,273.1h0M566,279.1h0M580.6,263.6h0M579.7,263h0M581,274.2h0M575.1,272.2h0M568.7,282.2h0M594.5,276.6h0M568,282.2h0M587.6,263h0M579.1,266.2h0M581.7,264.3h0M590,272.5h0M573.7,260.1h0M565.8,272.7h0M566.6,279.4h0M573.1,274.5h0M585.7,248.1h0M597.9,275h0M565.8,279.9h0M591.4,271.1h0M567.1,281.7h0M591.3,273.6h0M584.8,265.5h0M593.3,267.1h0M574.3,252.3h0M569,271.6h0M579.5,269.8h0M586.6,273.6h0M578.2,256.9h0M598.2,272.7h0M597.5,270.2h0M573.9,262.6h0M583.9,274.5h0M582.9,271.7h0M581.4,270.9h0M591.2,265.6h0M589.6,275h0M576.6,259h0M585.6,273.5h0M589.6,274.4h0M574,262.3h0M573,275h0M587.3,271.4h0M584.3,232.3h0M570.7,266.2h0M595.8,273.4h0M594.8,276.7h0M586.7,251.1h0M598.4,272.7h0M580.9,272.4h0M590.2,263.2h0M576.8,256.2h0M594,269.8h0M572.8,262.5h0M584,267.6h0M598.4,263.9h0M572.8,263.8h0M591,274.7h0M578,270.4h0M594.5,273.8h0M577.4,269.7h0M582.3,260.4h0M589.5,273.3h0M571.2,278h0M589.6,275.2h0M570.9,265.1h0M591.3,275.1h0M568.8,281.3h0M577.1,268.1h0M570.8,274.1h0M570.6,268.5h0M574.7,262.4h0M580.6,273h0M569,272.6h0M580.1,273.2h0M577.6,273.6h0M567.1,260.2h0M596.8,275.2h0M580.7,264.6h0M576.1,269.9h0M589.5,274.8h0M582.2,270.2h0M578.7,272.5h0M565.6,278.4h0M595.5,251.5h0M595.8,273.5h0M565.5,279.4h0M575.1,268h0M596.9,270.4h0M573.8,273.2h0M574.2,263.1h0M589.5,271.3h0M579.6,272.5h0M593.9,254.6h0M580.5,259.1h0M566.5,271.5h0M565.6,270.8h0M594.9,275.8h0M575.6,273.9h0M568.2,272.1h0M593.5,264.5h0M568.5,281.7h0M581.6,271h0M578.1,266.6h0M599.8,273.6h0M571.6,270.3h0M580.2,256.6h0M578.7,260.9h0M590.8,274.7h0M567.4,282h0M578.6,244.3h0M583.2,249.8h0M594.3,259.6h0M585,256.9h0M588,271.2h0M594.8,265.3h0M586.6,264.8h0M589,254.6h0M565.7,275h0M589.3,274.3h0M570.3,281.5h0M591,273.9h0M568.1,275.2h0M589.7,268.3h0M594.6,248.9h0M594.6,275.4h0M590.8,260.4h0M574.4,275.5h0M574.7,275.6h0M567.6,266.8h0M597.3,251.5h0M594.7,263.7h0M573.1,276.9h0M588.6,260.7h0M581.2,272.7h0M595.3,273.9h0M569.5,260.5h0M579,255.5h0M582.5,272.6h0M586.4,272.7h0M572.6,265.2h0M568.5,279.9h0M584.3,251.3h0M566.3,280h0M573.5,266.2h0M582.2,248.5h0M583.5,274.4h0M567.3,275.9h0M597.4,263.8h0M597.9,271.6h0M565.3,237.1h0M580.5,265.3h0M599.8,269.2h0M571,275.4h0M584.7,268.7h0M594.1,270.6h0M597.1,262.2h0M573.8,274.8h0M567,277.1h0M571.3,278.5h0M571.1,278.5h0M566,279.6h0M586.3,270.4h0M586.6,274.5h0M590,273.9h0M590.4,267.3h0M589.7,263.4h0M568.9,277.9h0M581.7,271.3h0M578.9,270.3h0M581.5,263.9h0M568.2,272.1h0M570.7,270.5h0M572.8,270.2h0M596,264.8h0M584.4,264.4h0M574,274.4h0M576.8,266.9h0M576.2,258.3h0M571.7,277.2h0M584.9,267.1h0M584.5,268h0M582.1,261.3h0M566.7,281.7h0M572.3,275.9h0M575.5,265.5h0M586.3,256.1h0M580.3,269.9h0M572.8,274.8h0M573.7,271.5h0M597.5,266.2h0M568.7,263.6h0M593.6,274.7h0M596.2,276.3h0M571.6,271.1h0M580,266.5h0M598.6,277.6h0M595.1,276.4h0M596.5,264.1h0M568,281.1h0M576.4,259.4h0M589.8,272.4h0M590,275.7h0M573.1,273.2h0M570.6,279h0M571.3,271.9h0M598.6,275.5h0M591.8,273.2h0M570,280.6h0M588.1,267.7h0M571.7,279.5h0M575.7,271.8h0M565.8,276.3h0M570.5,277h0M590.4,273.3h0M569.4,276.2h0M591.6,269.3h0M569.8,267.5h0M593.8,260.2h0M573.7,271.6h0M575.1,266.5h0M587.9,274.4h0M591.3,270.8h0M574.3,270.9h0M566.7,272.6h0M598.2,273.4h0M593.3,272.4h0M583.8,271.9h0M565,264.9h0M583.5,252.5h0M573.3,270.7h0M599.9,276.3h0M593.8,272h0M599.6,271.2h0M579,268.5h0M586,271.5h0M594,258.6h0M586,236h0M572.7,277.8h0M591.4,263.5h0M589.6,269.8h0M569.7,275.1h0M599.4,271.5h0M583.5,274.5h0M580.6,270.5h0M588.6,271h0M598.3,273.5h0M591.7,274.9h0M586.2,264.2h0M570.6,276.4h0M595.4,267.8h0M592.2,264.3h0M583.4,268.1h0M590.9,269.9h0M588.6,269.1h0M591.1,271.1h0M594.1,272.8h0M593.6,272.8h0M565.6,263.3h0M569.5,276.9h0M574.8,275.2h0M573.2,275.9h0M570.9,275.3h0M567,278.3h0M572.5,269.6h0M567.8,272h0M570.8,257.1h0M578.5,268.1h0M595,274.4h0M583,263.7h0M582,273.2h0M598.1,250.5h0M568.8,266h0M576.8,272.1h0M583.5,273.8h0M592.7,259.3h0M575.2,273.1h0M581.2,267.6h0M567.3,277.9h0M584.5,270.1h0M582.8,271.1h0M598.4,272h0M573.4,277.1h0M585.3,260.4h0M588.9,273.6h0M567.3,281.6h0M581,272h0M579.8,266.8h0M580.5,263.4h0M585.8,267.1h0M579.1,273h0M584.9,254.7h0M587.7,261.8h0M591.4,270.7h0M594,272.8h0M565.5,274.8h0M592,264.9h0M572.3,271h0M569.6,252.5h0M569.4,267.6h0M569.1,250.8h0M569.7,271.9h0M569,268h0M569.7,259.4h0M568.4,321h0M579.8,312h0M576.6,307.6h0M583.7,330.4h0M585.8,300.3h0M580.4,302.6h0M578,301.1h0M598.3,307.9h0M571.4,315.1h0M566.8,310.4h0M569.6,309.1h0M585.9,339.5h0M577.8,302.1h0M576.3,304.7h0M594.3,342.3h0M578.3,311.1h0M577,316.9h0M575.9,304.6h0M574.3,314.6h0M598.4,310h0M595.7,306.7h0M585.6,313.4h0M569.7,317.5h0M568.7,309.5h0M582.1,313.4h0M568,308.3h0M594.3,300.9h0M569.3,324.3h0M584.2,317.7h0M597,305.1h0M570.4,327.6h0M576.3,307.5h0M584.2,303.2h0M575.4,302.4h0M583,325.6h0M565.6,322.2h0M573.9,321.7h0M567.3,311.6h0M568.2,329.8h0M576.3,329.6h0M569.6,321.6h0M598.5,306.1h0M595.5,308.3h0M583.9,315.2h0M581.8,314.5h0M592.8,304.9h0M585.2,317.5h0M573.1,305.9h0M584.6,301.2h0M575.1,310.5h0M598.3,304.8h0M569.3,314h0M583.6,330.2h0M598.4,302.4h0M587.7,324.3h0M565.2,319.2h0M589.1,303.5h0M586.5,301.8h0M597.1,304.3h0M584.7,302.3h0M590.4,321.3h0M570.4,330.1h0M572.5,318.1h0M574.8,304.7h0M584.9,303h0M583,308.6h0M594.2,299.5h0M577.2,300.7h0M595.4,299.4h0M573.4,317.4h0M569.3,321h0M574.4,303.8h0M569.3,312.1h0M581.9,310.4h0M568.5,314.5h0M575.9,301.6h0M568,311.8h0M578.1,326.4h0M599.1,299.5h0M591.1,300.5h0M571.5,309h0M567.2,309.4h0M584.1,312.7h0M596.5,322.5h0M576.1,313.4h0M585.6,311.1h0M588.8,309.5h0M586.5,352.3h0M585.2,307.2h0M585.6,345.5h0M585.7,337.9h0M585.9,362.2h0M585.9,342.4h0M585.6,350.9h0M585.7,359.7h0M594.6,323.5h0M594.4,304.7h0M594.6,316.8h0M585.7,315h0M586.2,317.5h0M585.7,305.7h0M585.8,314.3h0M599.7,321h0M599.6,315.8h0M599.4,331.8h0M600,326.4h0M579.9,324.7h0M580.5,341h0M580.1,343.8h0M580.5,318.9h0M579.8,336.3h0M579.8,344.6h0M580.4,332.4h0M580.1,324.4h0M580.2,340.1h0M580.1,349.5h0M579.9,333.8h0M580.1,348.7h0M623.5,267.8h0M611.8,262.4h0M628.8,271.9h0M669.1,266.6h0M622.3,276.4h0M647,261.6h0M676.9,276h0M643.7,275h0M670.5,270.3h0M679.6,265.1h0M673.9,257.5h0M641.2,266.1h0M631,267.8h0M607.9,271.2h0M657.3,258.4h0M673.3,274.8h0M654.8,267.1h0M644.3,276.2h0M623.2,266.6h0M668.3,265.1h0M607.3,245h0M628.1,264.9h0M649.6,276.9h0M613,269.2h0M629.1,262.8h0M657.3,273.3h0M613.4,268.9h0M650.6,272.9h0M629.3,275.3h0M627.8,275.1h0M646.5,278h0M611.3,274.8h0M655.8,270h0M601,277.8h0M646.1,275.9h0M673.8,274.7h0M638.1,274.4h0M648.7,274.5h0M652.6,273h0M629.7,243h0M656.9,269.2h0M608.3,275.7h0M652.2,274h0M678.4,263.7h0M636.6,271.7h0M623.4,272h0M625.3,275h0M659.2,270.5h0M601.3,256.8h0M666.6,265.9h0M667.6,239.4h0M632.2,270.4h0M628,268.8h0M647.2,275.4h0M602.3,268.3h0M639.7,266.2h0M631.1,274.5h0M652.6,265.2h0M639.8,275h0M658.6,271.9h0M676.6,267.8h0M665.7,268.3h0M624.9,274.9h0M638.7,271.7h0M634.6,255.4h0M645.1,269.9h0M632.4,274.1h0M641.7,270.7h0M648.7,277.8h0M601,260.6h0M646.9,278.4h0M601.2,257.3h0M670.3,272.2h0M676.1,272.6h0M638.6,277.1h0M626.1,240.4h0M669.7,270.3h0M640.1,271.3h0M630.3,264.3h0M610.1,275.1h0M604.3,272h0M636.5,276.6h0M619.1,272.8h0M675.2,271.4h0M658.8,272.7h0M655.9,272.9h0M645.4,271.7h0M600.7,261h0M639.1,267.7h0M657.9,268.2h0M647.6,264.1h0M635.2,274.6h0M626.1,275h0M672.3,264.6h0M636.6,267.3h0M670.5,271.8h0M622.7,267.8h0M625.7,276.6h0M628.5,264.6h0M654.2,260.9h0M616.1,275.9h0M647.8,277.7h0M640.7,274.4h0M625.8,272.7h0M650.1,268.2h0M661.5,257.9h0M622.3,272.4h0M660,272.8h0M678.9,263.7h0M637.4,260.9h0M601,278.3h0M619.9,268.6h0M610.3,268.3h0M675.7,274.6h0M620.9,268.8h0M620.3,265.6h0M677.4,277.3h0M628.7,234.8h0M624.2,274.6h0M606.7,274.6h0M636.7,270.5h0M610,270.5h0M681.1,287.9h0M674.3,266h0M658.1,269.5h0M649,269.5h0M612.8,263.5h0M627.4,275.1h0M644.2,264h0M609,275.5h0M678.7,281.4h0M624.5,268.9h0M646,256.8h0M652.9,275h0M614.6,263.3h0M606.1,269.4h0M671,270h0M601.6,269.7h0M613.7,274.9h0M678.6,273.6h0M655.7,271.3h0M621.8,273.8h0M676.5,275.1h0M650.9,277h0M600.1,270.3h0M607,255.9h0M676.2,268.8h0M627,276.2h0M661.7,272.3h0M678.6,276.2h0M633,275h0M664.8,250.9h0M678,267.5h0M639.6,265.7h0M643.5,262.3h0M650.7,262.1h0M667.5,265.7h0M611.5,269.3h0M604.7,275.7h0M638.6,251.7h0M650.5,275.3h0M636.9,266.4h0M600.6,261.1h0M639.7,264.5h0M621.2,262.5h0M607.1,247.2h0M653,272.4h0M662.1,271.7h0M612.2,255.4h0M658.6,270.9h0M673.3,269.3h0M619,273.3h0M647.4,252.5h0M628.6,271.8h0M674.5,263.2h0M630,268.8h0M618,271.1h0M644.4,272.4h0M675.1,268.9h0M676.8,264.9h0M680.6,274.7h0M673.7,276.4h0M680.3,268.6h0M621.6,272.1h0M634,271.8h0M622.8,274.7h0M618.3,264.3h0M627,266.5h0M614.2,268.4h0M675.5,276.1h0M619.4,273.6h0M648.8,277h0M656.7,266.4h0M614.8,274.1h0M681.2,286.5h0M612.2,255.3h0M673.6,276.1h0M626.3,273.6h0M606,271.9h0M623.7,272.4h0M645.6,276.4h0M641.5,276.6h0M676.6,278.8h0M649.7,257.3h0M623.6,272.4h0M625.7,260.5h0M613,250.7h0M611.8,267.8h0M620.7,270.7h0M608.7,275.8h0M666.5,270h0M675.8,258.9h0M676.1,255.6h0M655.6,251.5h0M655.8,262.6h0M655.5,267.8h0M656.2,235.9h0M607,270.7h0M606.8,260.4h0M606.8,269.7h0M641.6,260.8h0M656.2,242.9h0M656.5,266.3h0M656.1,219.7h0M656.5,248.7h0M674.8,251.1h0M674.6,248.9h0M674.5,264.1h0M673.9,266.4h0M674.4,259.9h0M674.8,253.7h0M674.3,271h0M674.4,257.1h0M674.4,262h0M607.5,265.7h0M607,254.9h0M629.4,252.3h0M629.1,239.8h0M629,242.6h0M629.2,238.8h0M629,269.2h0M674.6,237.2h0M669.5,258.5h0M669.1,254.7h0M669.6,266.1h0M669.5,264.4h0M669.5,257.4h0M669.6,262.9h0M645,262.3h0M645.5,269.8h0M645.6,269.4h0M673.2,265.2h0M671.3,258.2h0M671.1,259h0M671.5,261.7h0M671.1,263.6h0M670.8,259.1h0M633.8,357.2h0M628.4,301.6h0M675.2,309.8h0M660.9,307.1h0M636,306.1h0M657,318.1h0M667.3,327.8h0M608.5,299h0M614.9,303h0M677.2,301.7h0M652,308h0M635,304.9h0M663.3,331.1h0M679.3,324.3h0M615.8,351.3h0M622.2,307.5h0M675.8,305.7h0M647.7,303h0M629,299.9h0M627.2,301.5h0M641.2,303.1h0M680.4,298.5h0M679.4,309.4h0M628.5,302.4h0M654.1,310.5h0M678.2,299.2h0M629.2,301h0M618.5,308.8h0M647.2,319.2h0M680.8,299.1h0M600.1,301.6h0M637.3,326.3h0M640.1,309.7h0M658,306.7h0M636.5,301h0M661.5,308.6h0M610.7,302.8h0M674.7,327.9h0M681.2,302.1h0M637.5,304.8h0M605.2,318.4h0M647.4,310.6h0M639.3,304.8h0M660.2,307.9h0M608.8,316.2h0M654.4,304.3h0M628.5,298.8h0M673.1,305.7h0M665.2,314.4h0M619,310.9h0M644.5,318.1h0M609,303.4h0M651,305.7h0M638.5,303.3h0M610.4,308.6h0M624.7,302.5h0M605.1,305.2h0M627.5,299.1h0M665.2,314.5h0M623.8,305.4h0M605.2,299.6h0M613.2,305.3h0M613.6,311.5h0M603.7,306.3h0M671.3,313.7h0M652.3,331.8h0M663.1,314.1h0M677.4,308.5h0M649.2,308h0M610.2,308.9h0M677,307.5h0M665.8,315.3h0M640.1,304.9h0M646.5,319.6h0M639.6,302.9h0M639.4,304.5h0M667.2,326.7h0M603.6,315.6h0M611,310h0M669.9,320.2h0M630.8,300.8h0M674.2,304.6h0M660.6,310.1h0M606.7,303.8h0M655.4,312.1h0M663.3,313.1h0M656.3,305.2h0M671.5,306.8h0M607.1,302.8h0M602.2,302.1h0M678.2,302.5h0M664,312.3h0M611.1,305.1h0M649,333.9h0M641.7,327.9h0M662.4,331.2h0M627.8,306.6h0M623.7,304.7h0M639.4,308.2h0M647.1,335h0M605.4,298.5h0M679.2,315.5h0M636.7,322.1h0M677.9,308.5h0M608.1,339h0M656.4,321h0M643.1,304.8h0M604.1,307.3h0M674,321.3h0M644.4,309.1h0M627.9,298.3h0M619.7,303.8h0M646.8,305h0M667.2,304.7h0M678.5,314.5h0M638.6,305.6h0M605.6,301.5h0M615.1,300h0M610.8,314.2h0M668.7,313h0M640,306.6h0M649.6,316.9h0M619.6,305h0M621.9,300h0M665.5,305.8h0M670.6,309h0M675.9,308.6h0M637.4,319.6h0M614.6,305.1h0M669.6,305.2h0M605.5,304.8h0M635.8,302.2h0M626.4,308h0M674.5,308.5h0M606.3,304.4h0M616.3,301.6h0M670.9,314.2h0M636,320.3h0M662.8,312.4h0M680.9,299.9h0M615,306.5h0M674.3,304h0M657.3,310.6h0M616.1,304.5h0M641.5,302.1h0M656,340.9h0M641.6,309h0M603.6,300.3h0M616.7,299.2h0M664,311.4h0M651.6,317.1h0M615.2,300.1h0M674.2,315.6h0M605.4,336.8h0M637.2,328.8h0M657.7,330.3h0M634,300.7h0M610.6,301.3h0M656,318.2h0M660.5,310.8h0M645.1,302.5h0M667.9,304.5h0M618.1,321.5h0M641,304.7h0M668.7,308.5h0M629.9,321.6h0M635.4,310.4h0M604.9,318.5h0M610.1,299.9h0M617.9,312.6h0M675,303.5h0M638.3,327.7h0M638.2,326.6h0M638.6,343.5h0M638.5,323.2h0M638,337.8h0M638.2,310.3h0M675.7,324.1h0M675.3,337.1h0M675.8,334.8h0M675.4,318h0M630.1,304.6h0M629.8,317.8h0M630.3,323.4h0M630,317.7h0M622.1,308.7h0M621.9,304.5h0M602,316h0M602.3,310.2h0M602,306.5h0M601.6,322.6h0M601.5,318h0M601.7,311.2h0M602.2,336.1h0M654.3,317.6h0M659.3,326.9h0M659.6,311.2h0M615.7,318.6h0M615.5,325.3h0M615.4,318.2h0M628.9,313.9h0M674.8,324.3h0M674.9,315.1h0M650.8,321.5h0M650.5,323.5h0M651.1,318.8h0M647.1,309h0" stroke="#2ca02c" stroke-width="3.1" stroke-linecap="round" fill="none"/>
<path d="M59.2,275.1 60.2,301.8 61.1,273.1 62.1,305.3 63,268.5 64,306.9 64.9,274.4 65.9,305.5 66.8,273.7 67.8,312 68.7,275.1 69.6,304.8 70.6,276 71.5,307.9 72.5,273.3 73.5,308.9 74.4,269.3 75.3,305.7 76.3,260.2 77.2,310.2 78.2,277.2 79.1,310.7 80.1,271.2 81,303.7 82,273.2 82.9,305.8 83.9,265.6 84.8,312 85.8,263 86.7,306.8 87.7,258.3 88.6,311.1 89.6,264.2 90.5,311.9 91.5,269.3 92.4,305.5 93.4,273.6 94.3,304 95.3,273.6 96.2,299.9 97.2,276.3 98.1,296.8 99.1,271.6 100,309.6 101,273.4 101.9,309.4 102.9,277.2 103.8,300 104.8,274.6 105.7,303 106.7,271.6 107.6,301.4 108.6,266 109.5,300.9 110.5,271 111.4,303.5 112.4,266.1 113.3,302.7 114.3,271.3 115.2,342.6 116.2,259.6 117.1,320.2 118.1,271.2 119,309.4 120,279.2 120.9,316.6 121.9,274.5 122.8,306.3 123.8,278.1 124.7,314.5 125.7,278.3 126.6,306.2 127.6,277.9 128.5,309.7 129.5,281.1 130.4,308.6 131.4,282.8 132.3,318.3 133.3,283.1 134.2,306.3 135.2,280.3 136.1,312 137.1,276.2 138,308.7 139,279.6 139.9,307.2 140.9,278.7 141.8,308.8 142.8,274.9 143.7,313.1 144.7,280 145.6,324.7 146.6,286.1 147.5,308.9 148.5,285.8 149.4,319.5 150.4,288.4 151.3,318.8 152.3,286.8 153.2,310.7 154.2,286.2 155.1,314 156.1,286 157,314.4 158,283.6 158.9,324.7 159.9,280.9 160.8,309.9 161.8,286.6 162.7,330 163.7,281.9 164.6,314.4 165.6,285 166.5,314.7 167.5,280.9 168.4,311.8 169.4,281.5 170.3,336.2 171.3,276.2 172.2,314.3 173.2,280.7 174.1,314.4 175.1,282.5 176,316 177,284.9 177.9,312.6 178.9,276.8 179.8,333.7 180.8,282.5 181.7,311.3 182.7,275.2 183.6,313.5 184.6,268.5 185.5,309.4 186.5,274.1 187.4,323.5 188.4,273.2 189.3,313.1 190.3,272.8 191.2,309 192.2,271.3 193.1,310.3 194.1,272.4 195,312.9 196,263.4 196.9,311.4 197.9,270.4 198.8,318.3 199.8,272.9 200.7,311.6 201.7,268.5 202.6,311.3 203.6,271 204.5,308.7 205.5,269.2 206.4,305.9 207.4,257.7 208.3,317.1 209.3,265.9 210.2,305.7 211.2,260.8 212.1,311.1 213.1,266.4 214,309.2 215,263.4 215.9,311.8 216.9,266.3 217.8,342.6 218.8,271 219.7,308.7 220.7,268.2 221.6,306.6 222.6,264.2 223.5,327.3 224.5,268.4 225.4,310.7 226.4,266.7 227.3,307.8 228.3,266.2 229.2,313.2 230.2,260.8 231.1,310 232.1,265 233,306.6 234,269.3 234.9,305.8 235.9,269.8 236.8,310.9 237.8,264.6 238.7,305.6 239.7,264.4 240.6,356.7 241.6,255.7 242.5,312.4 243.5,264.4 244.4,308.8 245.4,265.1 246.3,311.6 247.3,267.3 248.2,323.5 249.2,263.4 250.1,306.7 251.1,268.1 252,305.6 253,267.8 253.9,305.9 254.9,270 255.8,304.4 256.8,268.4 257.7,306.4 258.7,264.2 259.6,308.7 260.6,269.2 261.5,306.8 262.5,273.6 263.4,307.6 264.4,272.9 265.3,311.1 266.3,273.8 267.2,309.7 268.2,269.1 269.1,307.4 270.1,264.1 271,307 272,269.3 272.9,324.7 273.9,272.4 274.8,311.7 275.8,270.4 276.7,312.8 277.7,264.3 278.6,309.7 279.6,241.7 280.5,308.4 281.5,268.4 282.4,343.9 283.4,275.7 284.3,308.9 285.3,275.1 286.2,323.5 287.2,278 288.1,315.8 289.1,277.2 290,308.4 291,282.1 291.9,313.5 292.9,280.8 293.8,308.7 294.8,283.6 295.7,306.7 296.7,278.7 297.6,320.9 298.6,285.7 299.5,308.3 300.5,287.9 301.4,311.3 302.4,290.9 303.3,307.4 304.3,287 305.2,310 306.2,282.6 307.1,312.3 308.1,288.4 309,327.3 310,291.6 310.9,311.3 311.9,287.8 312.8,313.2 313.8,280 314.7,351.6 315.7,287.2 316.6,310.9 317.6,289.1 318.5,315.5 319.5,292.3 320.4,312.9 321.4,288 322.3,315.2 323.3,285.3 324.2,335 325.2,286.6 326.1,310.7 327.1,283.8 328,311.9 329,277.5 329.9,327.3 330.9,284.6 331.8,310.8 332.8,279.5 333.7,314.3 334.7,282.4 335.6,315.9 336.6,258.3 337.5,310.5 338.5,279.3 339.4,336.2 340.4,286.9 341.3,309.3 342.3,293.9 343.2,315 344.2,294.5 345.1,324.7 346.1,293.8 347,314.1 348,290 348.9,310 349.9,287.5 350.8,323.5 351.8,273.6 352.7,310 353.7,285.9 354.6,319 355.6,286.4 356.5,315.5 357.5,290.3 358.4,317.1 359.4,291.1 360.3,320.9 361.3,274 362.2,321.1 363.2,280 364.1,315.3 365.1,284.6 366,313.2 367,287.4 367.9,316.2 368.9,284.5 369.8,323.5 370.8,286.7 371.7,313.3 372.7,283.7 373.6,316.4 374.6,277.5 375.5,326 376.5,283.9 377.4,311.8 378.4,288.9 379.3,323.2 380.3,282.6 381.2,322.2 382.2,282.6 383.1,316.6 384.1,284.7 385,314 386,280.8 386.9,311.3 387.9,271.1 388.8,328.6 389.8,279.5 390.7,315.4 391.7,281 392.6,311.7 393.6,282.6 394.5,313.3 395.5,285.1 396.4,320.9 397.4,285.6 398.3,314.1 399.3,281.4 400.2,311.6 401.2,281.8 402.1,314.8 403.1,276.9 404,316 405,283.1 405.9,329.8 406.9,285.8 407.8,313.7 408.8,283.6 409.7,312.2 410.7,281 411.6,307.5 412.6,280.1 413.5,306.3 414.5,283.3 415.4,310.7 416.4,278.5 417.3,313.2 418.3,282.3 419.2,307.9 420.2,277.9 421.1,305.9 422.1,274.4 423,308.2 424,268.5 424.9,308.1 425.9,273 426.8,305.3 427.8,273.6 428.7,302.9 429.7,276.6 430.6,314.5 431.6,271 432.5,313.2 433.5,259.6 434.4,301.9 435.4,271.6 436.3,299.6 437.3,275.8 438.2,299.8 439.2,273.2 440.1,304.1 441.1,266 442,302.6 443,270.9 443.9,303.6 444.9,274.4 445.8,303.6 446.8,272.1 447.7,301 448.7,269.5 449.6,305.1 450.6,266 451.5,314.5 452.5,254.5 453.4,303.2 454.4,264.5 455.3,300.6 456.3,261.6 457.2,305.5 458.2,258.3 459.1,304 460.1,267.4 461,304.4 462,260.8 462.9,317.1 463.9,267.8 464.8,304.9 465.8,256.3 466.7,303 467.7,262.1 468.6,314.5 469.6,269.8 470.5,308 471.5,259.8 472.4,299.8 473.4,270.6 474.3,301 475.3,263.4 476.2,303.9 477.2,271.2 478.1,306.1 479.1,273.4 480,305.9 481,268.5 481.9,307.6 482.9,275.2 483.8,307.7 484.8,276.2 485.7,306 486.7,280.5 487.6,312 488.6,279.1 489.5,306.7 490.5,282.8 491.4,307.2 492.4,283.4 493.3,308.8 494.3,280.1 495.2,308.8 496.2,276.2 497.1,306.7 498.1,281.8 499,310.3 500,281.9 500.9,317.1 501.9,283.4 502.8,311.8 503.8,286.3 504.7,308.4 505.7,282.1 506.6,309.8 507.6,276.9 508.5,308.3 509.5,282.2 510.4,308 511.4,282.3 512.3,313.5 513.3,284.6 514.2,310.4 515.2,285.6 516.1,320.9 517.1,281.7 518,309.8 519,270.1 519.9,308.8 520.9,278 521.8,310.6 522.8,281.5 523.7,323.5 524.7,289 525.6,313 526.6,288 527.5,315.1 528.5,285 529.4,331.1 530.4,286.5 531.3,317.3 532.3,283.3 533.2,311.2 534.2,281.1 535.1,323.5 536.1,278 537,315.5 538,282.7 538.9,317.4 539.9,283.4 540.8,328.6 541.8,285.7 542.7,316.6 543.7,285.8 544.6,313.6 545.6,281 546.5,313.2 547.5,281.1 548.4,323.5 549.4,278.8 550.3,324.9 551.3,273.6 552.2,326 553.2,279.1 554.1,314 555.1,280.9 556,317.5 557,276.2 557.9,329.8 558.9,268.5 559.8,312.3 560.8,276.9 561.7,317.1 562.7,283 563.6,309.4 564.6,279.6 565.5,311.2 566.5,280 567.4,310.5 568.4,282.8 569.3,308.7 570.3,282.4 571.2,307.9 572.2,278.9 573.1,320.9 574.1,274.8 575,317.1 576,266.3 576.9,301.5 577.9,257 578.8,303.8 579.8,261.7 580.7,315.8 581.7,271.3 582.6,301.1 583.6,271.5 584.5,313 585.5,266 586.4,308.9 587.4,269.8 588.3,313.2 589.3,271 590.2,301.2 591.2,271.2 592.1,304.8 593.1,262.1 594,326 595,232.7 595.9,304.8 596.9,231.4 597.8,303.2 598.8,262.5 599.7,298.3 600.7,277.4 601.6,302.1 602.6,275.1 603.5,312 604.5,268.5 605.4,300.5 606.4,264.2 607.3,300.8 608.3,269 609.2,299 610.2,272.4 611.1,300.6 612.1,264.7 613,315.8 614,272.1 614.9,299.7 615.9,272.2 616.8,303.2 617.8,271 618.7,300.2 619.7,275.6 620.6,303.8 621.6,264 622.5,298.5 623.5,271.1 624.4,300.2 625.4,267.2 626.3,309.4 627.3,273.7 628.2,305.4 629.2,271.8 630.1,308.7 631.1,268.5 632,300 633,270.5 633.9,301 634.9,272.6 635.8,299.4 636.8,272.7 637.7,313.2 638.7,272 639.6,301.9 640.6,254.5 641.5,323.5 642.5,226.3 643.4,301.5 644.4,268.2 645.3,307.4 646.3,276.5 647.2,306.1 648.2,278.3 649.1,302.3 650.1,277.3 651,304.9 652,273.9 652.9,311.2 653.9,269.5 654.8,316.3 655.8,254.5 656.7,309.9 657.7,268.3 658.6,306.4 659.6,268.4 660.5,308.2 661.5,259.6 662.4,308.5 663.4,268.5 664.3,313.2 665.3,270.1 666.2,310.4 667.2,257.9 668.1,309 669.1,234 670,343.9 671,260.8 671.9,304.6 672.9,242.9 673.8,303.9 674.8,267.8 675.7,304.9 676.7,280.3 677.6,300.9 678.6,284.8 679.5,299.9 680.5,288.4 681.4,293.7" fill="none" stroke="#000" stroke-width="3.4" stroke-linejoin="round"/>
</g>
<g clip-path="url(#cc)">
<path d="M69.6,537.5h0M67.8,523.4h0M73.4,525.2h0M80.6,495.3h0M77.5,498.6h0M71.6,513.9h0M75.4,510.6h0M86.9,511.4h0M92.1,510.6h0M95.9,513.2h0M108.7,492.7h0M114.3,507.3h0M120.2,485.8h0M127.1,494.5h0M130.4,497.8h0M134.7,494h0M141.9,491.5h0M143.9,493.5h0M145.7,499.1h0M181.7,448.8h0M188.6,450.6h0M190.7,452.6h0M227,450h0M241.3,466.4h0M243.8,467.2h0M246.4,474.1h0M213.2,479.2h0M256.6,486.3h0M264.3,490.2h0M197.8,506.8h0M200.9,507.3h0M186.8,515h0M210.6,510.6h0M215,506.8h0M221.3,511.9h0M226.5,509.3h0M230.3,506.3h0M234.1,506.8h0M236.7,499.1h0M258.4,497.8h0M254.6,506.8h0M202.2,523.4h0M208.6,549.5h0M199.6,550.8h0M218.8,547.7h0M221.3,549h0M249.5,541.3h0M253.3,544.6h0M251.5,552.8h0M268.6,565.1h0M165.6,498.6h0M168.9,504.2h0M169.7,510.6h0M371.1,441.6h0M354.5,446.7h0M353.2,451.3h0M351.4,468.5h0M344.7,474.1h0M346.8,478.2h0M349.3,477.4h0M356.5,477.4h0M363.4,477.4h0M366,472.3h0M367.2,487.6h0M369.3,495.3h0M311.5,473.1h0M314.8,476.1h0M328.9,481.7h0M327.1,487.6h0M325.6,493.5h0M308.5,487.6h0M343,497.8h0M358.3,499.6h0M360.8,500.4h0M286.7,497.8h0M284.9,500.4h0M290.6,505.5h0M275.2,506.8h0M280.8,506.8h0M289.3,511.9h0M291.8,510.6h0M304.6,514.5h0M305.9,523.4h0M298.2,525.2h0M300.3,529.8h0M272.2,536.9h0M270.6,543.8h0M279.1,538.7h0M282.4,554.1h0M268.8,565.6h0M339.1,532.3h0M331.5,521.6h0M346.8,506.8h0M354.5,508.1h0M373.6,506.3h0M371.3,441.6h0M430.8,441.6h0M429.3,450.6h0M456.9,479.4h0M387.4,488.9h0M394.3,486.3h0M391,491.5h0M407.1,488.9h0M408.8,487.6h0M396.8,495.3h0M403.2,494.5h0M389.2,498.4h0M400.2,499.6h0M453.8,486.9h0M455.6,487.6h0M448.7,490.2h0M432.6,501.2h0M435.2,504.2h0M374.6,506.8h0M377.7,508.8h0M386.6,510.6h0M393,514.5h0M421.1,507.3h0M423.7,508.1h0M427.5,508.1h0M417.3,513.2h0M410.9,508.8h0M379.7,523.4h0M401.9,522.1h0M439,534.9h0M442.8,535.4h0M464.6,527.2h0M465.8,532.3h0M471,537.5h0M370,496.6h0M403.2,513.2h0M556.8,488.9h0M558.1,497.8h0M560.6,499.1h0M506.9,495.3h0M555.5,501.7h0M567,503h0M568.3,513.2h0M570.8,514.5h0M496.7,518.3h0M501.8,516.5h0M505.7,510.6h0M509.5,518.3h0M522.3,519.6h0M520.5,526h0M518.5,528.5h0M484.7,534.9h0M486.5,536.2h0M490.3,535.4h0M495.4,535.4h0M491.6,540h0M493.4,542.1h0M487.8,542.6h0M551.7,520.8h0M553,523.4h0M566.5,520.8h0M569.6,527.2h0M572.6,530.3h0M582.3,514.5h0M477.6,518.3h0M584.9,514.5h0M582.3,506.8h0M592.4,481.7h0M590.3,485.8h0M593.4,501.2h0M583.2,502.4h0M581.4,506.8h0M594.9,508.8h0M645.3,509.3h0M600.6,513.2h0M577,522.1h0M585.2,513.2h0M622.3,522.1h0M631.7,527.2h0M640.2,529.8h0M653.7,531.8h0M650.4,533.6h0M651.7,531.1h0M655.5,523.4h0M656.8,522.1h0M671.6,528.5h0M676,520.8h0M680.3,520.8h0M613.3,513.2h0M543.9,529.9h0M499.8,507h0M450.9,504h0M322.8,516.6h0M653.4,523.5h0M182.9,541.7h0M674.8,509.2h0M588.9,525.9h0M198.1,548.1h0M650.9,525h0M333.9,506.2h0M333.2,509.1h0M221.9,527.4h0M531.7,527h0M327,517.2h0M546.1,512.9h0M508.5,517.4h0M402.4,519.7h0M186.5,537.2h0M457.6,492h0M69.8,505.9h0M630.5,523.8h0M419.7,526h0M566.7,515h0M452.4,504.5h0M460.2,511.4h0M499,495h0M426.7,511.7h0M629.6,518h0M68.3,498.8h0M270.8,511.3h0M410.1,519.6h0M88.4,504.6h0M296.4,517h0M525.6,510.1h0M233.8,511.5h0M321.7,518.7h0M530.8,528.5h0M558.2,518.5h0M547.7,509.4h0M144.6,508.2h0M260.3,510.6h0M486.6,520.1h0M432.3,522.2h0M575.5,513.7h0M669.8,526.5h0M243.7,482.5h0M629.2,519.8h0M506,514.9h0M232,527.7h0M678.3,513.2h0M531.4,528.2h0M523.3,499.5h0M108.8,498.1h0M412,526.5h0" stroke="#1f77b4" stroke-width="3.1" stroke-linecap="round" fill="none"/>
<path d="M74.2,487.1h0M71.6,494h0M118.4,480.7h0M60.6,531.1h0M63.9,517.5h0M66.5,519.6h0M132.2,543.1h0M134.2,535.4h0M129.1,521.6h0M136.3,521.6h0M143.9,527.2h0M147,520.1h0M79.3,511.9h0M83.1,513.2h0M90.8,506.8h0M99.7,499.1h0M106.1,503h0M122.7,490.2h0M171.5,496.1h0M173.3,494.5h0M175.3,500.4h0M177.4,503h0M163.1,514.5h0M164.6,523.4h0M166.4,528h0M172.8,517.5h0M179.2,528.5h0M220.1,508.8h0M197.1,531.1h0M199.6,534.9h0M188.1,552.8h0M191.9,561.7h0M195.8,564.3h0M203.5,560.5h0M205.5,558.4h0M211.1,560.5h0M213.7,572h0M215,577.1h0M223.9,551.5h0M225.2,552.3h0M227.7,536.2h0M230.3,533.6h0M234.1,531.1h0M239.2,526h0M230.3,540h0M232.8,542.6h0M238,543.1h0M240.5,541.3h0M242.3,538.7h0M245.6,543.8h0M248.2,545.1h0M244.3,527.2h0M253.3,537.5h0M257.1,533.6h0M261,534.9h0M264.8,528.5h0M267.3,527.2h0M259.7,542.6h0M262.2,545.1h0M257.6,523.4h0M275.2,481.7h0M351.4,462.1h0M349.3,488.9h0M348.8,509.3h0M267.6,523.4h0M266.3,528.5h0M268.8,533.6h0M277.8,518.3h0M280.8,529.3h0M284.2,527.2h0M279.1,541.3h0M286,543.8h0M288,547.7h0M289.3,555.4h0M291.8,537.5h0M293.1,540h0M295.7,534.9h0M298.2,542.6h0M301.3,532.3h0M299.5,540h0M308.5,533.6h0M311,532.3h0M304.6,523.4h0M307.2,524.7h0M316.6,533.6h0M320,531.1h0M322.5,528.5h0M314.8,547.7h0M312.3,555.4h0M311,559.2h0M329.4,523.4h0M332.7,518.3h0M334,520.8h0M360.8,534.9h0M362.1,540h0M364.7,531.1h0M366,522.1h0M372.3,534.9h0M371.3,514.5h0M401.9,529.8h0M404.5,530.3h0M407.1,534.9h0M408.3,538.7h0M410.4,539.5h0M417.3,542.6h0M419.1,541.3h0M387.9,533.6h0M385.8,538.7h0M384.1,540h0M413.5,526.7h0M430.1,529.8h0M432.6,532.3h0M431.3,537.5h0M437.7,524.7h0M440.3,520.8h0M442.8,527.2h0M446.7,517h0M450.5,513.2h0M453.1,515.7h0M455.6,519.6h0M458.2,511.9h0M460.7,514.5h0M463.3,510.6h0M465.8,513.2h0M478.6,499.1h0M479.9,500.4h0M471,536.2h0M479.4,529.3h0M397.6,509.3h0M551.7,465.4h0M574.7,471.5h0M536.3,482.5h0M520.5,486.3h0M519,491.5h0M553,490.2h0M576,490.2h0M480.1,499.1h0M486.5,511.9h0M482.7,513.2h0M490.8,522.1h0M492.9,519.6h0M512.1,521.6h0M514.6,522.6h0M506.9,528.5h0M502.6,532.3h0M505.2,536.2h0M524.8,537.5h0M526.1,540.5h0M531.2,549h0M528.2,553.3h0M529.2,559.2h0M533.8,529.8h0M543.5,526h0M550.4,527.2h0M548.6,529.8h0M543.5,532.3h0M545.3,536.2h0M546.6,543.8h0M559.3,524.7h0M561.9,523.4h0M557.3,534.4h0M564.5,524.7h0M572.6,506.3h0M584.9,537.5h0M581.8,545.1h0M582.9,541.3h0M565.7,506.8h0M575.5,471.5h0M576.3,490.2h0M605.7,499.1h0M639.4,506.3h0M642,509.3h0M630,510.6h0M637.6,511.4h0M633.3,516.5h0M676,508.1h0M580.1,511.9h0M606.9,518.3h0M608.7,521.6h0M610.8,525.2h0M612.8,527.2h0M614.6,529.3h0M617.2,529.8h0M615.9,531.8h0M600.6,518.3h0M596.7,522.1h0M586.5,529.3h0M585.2,536.9h0M583.2,541.3h0M581.4,545.1h0M593.4,528.5h0M627.4,523.4h0M633.8,528.5h0M647.8,523.4h0M649.1,528.5h0M644,523.4h0M659.3,522.1h0M679.8,520.1h0M287.5,512.7h0M115.8,491.9h0M345,503.2h0M587.5,528.5h0M92.8,497.8h0M436.6,519.5h0M356.1,507.5h0M194.8,549.1h0M321.2,508.9h0M289.2,514.5h0M301.9,510.2h0M102.3,500h0M473.7,510.6h0M585.5,522.2h0M554,506h0M426.3,515.8h0M128.8,517.2h0M591.7,523.9h0M320.4,507h0M175.9,510.6h0M468.3,527.7h0M644,523.1h0M507.6,522h0M444.8,521.3h0M199.7,543.4h0M493.4,516.2h0M638.4,522.6h0M588.1,521.8h0M318.6,486.4h0M427.9,529.6h0M351,494h0M177,505.9h0M427,518h0M567.6,514h0M379.9,542.6h0M166.4,515.8h0M268.4,512.7h0M488.5,515.5h0M576.2,517.1h0M259.4,514.9h0M256.9,520.6h0M551.1,501h0M659,520h0M348.4,497.6h0M130.1,513.1h0M149.5,514.6h0M547.4,513.4h0M531.7,525h0M264.8,510.9h0M87.3,498.3h0M370.3,516.4h0M298.9,525.7h0M400.4,519.9h0M342.8,536.5h0M125.3,500.9h0" stroke="#ff7f0e" stroke-width="3.1" stroke-linecap="round" fill="none"/>
<path d="M87.7,486.3h0M90.8,488.4h0M93.8,488.4h0M87.7,490.2h0M70.3,497.1h0M72.9,498.6h0M62.7,506.8h0M120.2,518.3h0M123.5,504.2h0M141.9,522.1h0M145.7,514.5h0M150.8,515h0M129.1,518.3h0M59.6,522.1h0M135.5,500.4h0M262.2,463.3h0M263.5,467.2h0M225.2,485.1h0M264.8,483.8h0M267.3,486.3h0M223.4,501.2h0M186.8,506.8h0M194.5,506.8h0M195.8,522.6h0M203.5,521.6h0M208.1,518.3h0M209.8,517h0M206,523.4h0M200.9,532.3h0M202.2,538.7h0M183.5,561.7h0M185.6,561.7h0M190.2,566.9h0M190.7,572.7h0M175.3,513.2h0M170.2,513.2h0M231.6,506.8h0M234.1,505.5h0M269.9,472.3h0M270.1,470.5h0M272.2,469.7h0M273.2,472.3h0M317.4,471.8h0M320,473.1h0M302.1,480.7h0M303.8,481.2h0M268.1,485.8h0M266.3,485.1h0M280.3,485.8h0M282.4,492.7h0M279.1,494h0M290.6,494h0M298.2,499.1h0M292.6,501.7h0M295.7,503h0M305.9,495.3h0M300.8,497.8h0M336.6,492.7h0M334,500.4h0M332,508.1h0M339.1,506.8h0M323.8,527.2h0M325.8,528.5h0M353.2,527.2h0M358.3,527.2h0M351.9,537.5h0M341.7,571.2h0M374.9,554.1h0M284.2,509.3h0M288,513.2h0M368.5,526.7h0M366,518.3h0M439.5,487.6h0M437.7,492.7h0M441.6,490.2h0M442.8,501.2h0M445.4,499.1h0M448,500.4h0M449.7,501.2h0M435.9,510.6h0M410.9,508.1h0M414.7,515.7h0M408.3,527.2h0M428.8,534.9h0M427.5,541.3h0M425.7,543.8h0M377.7,546.4h0M379.7,550.8h0M376.4,555.4h0M381.5,552.8h0M383.3,560h0M391.7,558.4h0M393,561.7h0M372,537.5h0M473.5,540h0M476.1,499.6h0M472.2,509.3h0M468.4,506.3h0M431.3,524.7h0M513.8,478.2h0M492.9,484.3h0M490.8,487.6h0M512.1,486.3h0M515.4,488.9h0M535.1,488.9h0M537.6,489.4h0M540.2,491.5h0M495.4,494h0M499.3,493.5h0M549.1,492h0M551.7,496.6h0M547.1,499.1h0M488.3,500.4h0M479.6,499.1h0M526.1,500.4h0M523.6,506.8h0M527.4,509.3h0M530,513.2h0M563.2,505.5h0M565.7,501.7h0M581.1,508.1h0M482.7,543.8h0M574.7,534.4h0M579.8,536.9h0M481.4,529.8h0M561.9,519.6h0M602.6,506.3h0M583.2,509.3h0M580.1,511.9h0M610.8,513.2h0M614.6,511.4h0M617.9,511.9h0M622.3,511.9h0M630,511.9h0M653,512.4h0M655.5,511.9h0M650.4,514.5h0M636.3,515.7h0M644,517h0M663.2,519.6h0M674.7,508.1h0M590.3,527.2h0M589.1,534.4h0M592.4,533.6h0M579.6,536.2h0M635.1,529.3h0M660.6,526.7h0M575,533.6h0M490,516.2h0M140.5,503.2h0M464.9,509.4h0M185.7,546h0M504,518.4h0M317.7,490.3h0M100.5,509.3h0M247.4,511.9h0M395,508.3h0M447.3,519.3h0M72.3,501.8h0M396.1,503.2h0M641.6,517.1h0M573.1,516.9h0M447.2,508.3h0M584.7,517.3h0M453.4,513.7h0M368.7,507.5h0M160,504.7h0M521.8,508.9h0M482.2,524h0M661.8,512.2h0M572.2,514.3h0M543.7,522.7h0M129.4,516.7h0M265.8,506.8h0M674.6,510.5h0M544.8,522h0M428,517.3h0M210.9,534.1h0M638.6,522.7h0M381.4,541h0M372.4,531.7h0M142.1,507.5h0M349.6,499.2h0M658.8,519.5h0M544.9,514h0M522.3,514.9h0M83.6,501.9h0M241.5,491.4h0M502.3,513.4h0M337.4,525.9h0M361.2,516.8h0M159.3,489.4h0M150,506.1h0M101.7,496.3h0M601.2,497.2h0M234.8,520.6h0M639.4,521.4h0M541.2,506.1h0M476.7,512h0M96,500h0M417.7,525.1h0M334.7,497.9h0M361.1,521.8h0" stroke="#2ca02c" stroke-width="3.1" stroke-linecap="round" fill="none"/>
<path d="M59.6,514.5 59.6,514.5 62.2,511.1 64.8,509.5 66.5,508.1 67.4,505.5 70,501.2 72.6,500.1 72.9,500.4 75.2,500.5 77.8,499.6 80.4,504.5 80.6,504.2 83,508.1 85.2,503 85.6,503.6 88.2,500.3 90.8,500.9 92.1,500.4 93.4,501.3 96,503.2 98.5,505.5 98.6,505.6 101.2,502.1 103.8,498.7 104.8,497.8 106.4,496.9 109,497.6 111.6,499.6 111.7,500.4 114.2,497.4 116.8,490.3 117.6,486.3 119.4,493.9 122,498.3 122.7,500.4 124.6,500.5 127.2,503.9 129.1,511.9 129.8,509.7 132.4,504.7 134.2,503 135,505.5 137.6,514 139.9,514.5 140.2,513.9 142.8,510.5 145.4,513.1 145.7,513.2 148,511.9 150.6,506.6 151.6,504.2 153.2,502 155.8,499.5 158.4,497.7 158.5,497.8 161,499 162.6,504.2 163.6,506 166.2,508.6 167.7,508.8 168.8,509.1 171.4,506.4 174,507.3 175.3,508.1 176.6,507.5 179.2,510.3 180.4,517 181.8,528.9 184.3,551.5 184.4,551.2 187,540.2 188.6,542.6 189.6,542 192.2,540.4 194,556.6 194.8,551.9 197.4,543.8 197.8,543.1 200,541.3 202.2,543.8 202.6,542.5 205.2,540.3 207.3,533.6 207.8,533.3 210.4,530.2 212.4,537.5 213,543 215.6,540.3 216.2,532.3 218.2,518.1 220.8,526.8 220.8,527.2 223.4,518.9 225.2,514.5 226,513.5 228.6,519.5 229,522.1 231.2,527 232.8,519.6 233.8,516.1 236.4,514.6 236.7,514.5 239,507.1 240.5,504.2 241.6,495.7 244.2,485.8 244.3,485.1 246.8,506.2 248.2,522.1 249.4,534.3 251.5,531.1 252,529.5 254.6,518.8 255.8,513.2 257.2,519.8 259.7,509.3 259.8,509.4 262.4,497.4 264.3,503 265,506.7 267.6,510.6 267.6,509.8 270.2,509.8 271.4,513.2 272.8,503.2 275.2,486.3 275.4,488.3 278,513.1 279.1,523.4 280.6,519 282.9,511.9 283.2,513 285.8,519.9 286.7,520.8 288.4,515 290.6,519.6 291,519.2 293.6,513.9 294.4,511.9 296.2,515.2 298.8,520.9 299,521.6 301.4,518.6 302.8,511.9 304,509.7 306.6,507.5 307.2,507.3 309.2,506.4 311.8,495 312.3,492 314.4,505.6 316.1,499.1 317,495.4 319.6,505.2 320,509.3 322.2,520.7 323.8,523.4 324.8,521.1 327.4,513.7 327.6,513.2 330,514.2 332.6,511.1 332.7,511.9 335.2,500.2 336.1,499.1 337.8,533.8 339.1,549 340.4,551.6 343,532.3 343,530.8 345.6,507.5 346.8,499.1 348.2,495.6 350.6,496.6 350.8,497.8 353.4,497.1 354.5,500.4 356,503 358.3,509.3 358.6,509.2 361.2,518.2 362.1,519.6 363.8,510.9 366,506.8 366.4,507.8 369,514.8 369.3,515.7 371.6,525.4 372,527.2 374.2,533.3 375.6,540 376.8,533.9 379.4,533.9 379.7,534.9 382,535.7 383.3,527.2 384.6,521.5 387.2,513.5 387.4,513.2 389.8,525 391,528.5 392.4,529.1 394.8,511.9 395,511 397.6,506.2 398.1,509.3 400.2,514.8 401.9,520.8 402.8,520.6 405.4,519.2 407.1,522.1 408,523 410.6,521.8 412.2,518.3 413.2,521.3 415.8,525 417.3,526 418.4,529.9 421,520.2 421.1,519.6 423.6,514.1 426.2,517.7 426.2,518.3 428.8,522.3 430.1,520.8 431.4,518.1 434,515.5 435.2,515 436.6,513.9 439.2,514.8 440.3,515.7 441.8,517 444.4,512.5 444.6,513.2 447,509 449.2,506.8 449.6,507.1 452.2,507 453.8,499.1 454.8,497.5 457.4,494.3 458.2,494.5 460,503.9 462,514.5 462.6,516.7 465.2,520 466.6,522.1 467.8,526 470.2,531.1 470.4,531.4 473,516.1 474.3,511.9 475.6,513.7 477.6,514.5 478.2,516.4 480.8,522.3 482.7,524.7 483.4,525.5 486,522.4 486.5,520.8 488.6,516.8 491.2,513.6 491.6,514.5 493.8,513.2 496.2,506.8 496.4,505.7 499,500.5 500,499.1 501.6,507.7 503.6,514.5 504.2,515.2 506.8,515.2 508.2,513.2 509.4,511.9 512,502.2 512.1,501.7 514.6,496.9 515.9,501.7 517.2,507.9 519.8,514.6 520.5,515.7 522.4,513.5 524.8,509.3 525,510.2 527.6,520.6 528.7,526 530.2,528.3 532.5,511.9 532.8,508.9 535.4,495.9 536.3,492 538,495.2 540.2,506.8 540.6,508.7 543.2,520.7 544,523.4 545.8,517.4 547.8,510.6 548.4,511.4 551,512.5 553,511.9 553.6,510.2 556.2,509.4 557.3,513.2 558.8,512.2 561.4,513.7 561.9,514.5 564,512.6 566.6,515.3 567,515.7 569.2,517.9 571.8,519.7 572.1,518.3 574.4,513.8 575,514.5 577,516.8 579.6,519.4 580.1,519.6 582.2,517.5 584.7,520.8 584.8,521.1 587.4,523.5 588.3,523.4 590,518.4 592.4,518.3 592.6,518.6 595.2,517.1 596,514.5 597.8,515.7 600,510.6 600.4,510.4 603,507.1 603.6,506.8 605.6,507.5 606.9,511.9 608.2,513.1 610.8,517.6 612.1,518.3 613.4,518.6 616,517.4 617.2,517 618.6,518 621.2,520.5 622.3,520.1 623.8,521.7 626.4,520.8 627.4,520.8 629,519 631.2,520.8 631.6,521 634.2,523.7 635.1,524.2 636.8,521.1 639.4,516.2 640.2,517 642,516.8 644.6,517.1 645.3,518.3 647.2,519.1 649.8,518.3 650.4,519.1 652.4,518.8 655,518 655.5,518.3 657.6,519.9 660.2,522.4 660.6,521.6 662.8,520.3 665.4,516.4 665.7,515 668,519 669.6,522.1 670.6,521.4 673.2,519 673.4,518.3 675.8,515 678.4,514.6 678.5,515 681,520.2 681.3,520.8" fill="none" stroke="#000" stroke-width="3.3" stroke-linejoin="round" stroke-linecap="round"/>
</g>
<g fill="none" stroke="#000" stroke-width="1.4" stroke-linecap="square">
<rect x="59.0" y="23.64" width="622.2" height="147.0"/>
<rect x="59.0" y="219.07" width="622.2" height="147.2"/>
<rect x="59.0" y="432.16" width="622.2" height="147.6"/>
</g>
<path d="M59.0,23.64h-6.0M59.0,48.13h-6.0M59.0,72.63h-6.0M59.0,97.12h-6.0M59.0,121.61h-6.0M59.0,146.11h-6.0M59.0,170.60h-6.0M103.2,170.6v6.0M281.0,170.6v6.0M459.2,170.6v6.0M637.4,170.6v6.0M59.0,219.07h-6.0M59.0,243.60h-6.0M59.0,268.13h-6.0M59.0,292.66h-6.0M59.0,317.20h-6.0M59.0,341.73h-6.0M59.0,366.26h-6.0M103.2,366.26v6.0M281.0,366.26v6.0M459.2,366.26v6.0M637.4,366.26v6.0M59.0,432.16h-6.0M59.0,456.77h-6.0M59.0,481.37h-6.0M59.0,505.98h-6.0M59.0,530.59h-6.0M59.0,555.19h-6.0M59.0,579.80h-6.0M100.1,579.8v6.0M224.8,579.8v6.0M349.5,579.8v6.0M474.2,579.8v6.0M598.9,579.8v6.0" stroke="#000" stroke-width="1.4" fill="none"/>
<rect x="277.0" y="219.07" width="15.15" height="147.19" fill="none" stroke="#f00" stroke-width="4.2" stroke-linejoin="round"/>
<path d="M277.0,366.26L59.0,432.16M292.15,366.26L681.25,432.16" fill="none" stroke="#f00" stroke-width="4.3"/>
<g font-family="'DejaVu Sans','Liberation Sans',sans-serif" fill="#000">
<g font-size="13.89" text-anchor="end" letter-spacing="0.5">
<text x="48.1" y="28.7">3.0</text>
<text x="48.1" y="53.2">2.0</text>
<text x="48.1" y="77.7">1.0</text>
<text x="48.1" y="102.2">0.0</text>
<text x="48.1" y="126.7">-1.0</text>
<text x="48.1" y="151.2">-2.0</text>
<text x="48.1" y="175.7">-3.0</text>
<text x="48.1" y="224.2">3.0</text>
<text x="48.1" y="248.7">2.0</text>
<text x="48.1" y="273.2">1.0</text>
<text x="48.1" y="297.8">0.0</text>
<text x="48.1" y="322.3">-1.0</text>
<text x="48.1" y="346.8">-2.0</text>
<text x="48.1" y="371.4">-3.0</text>
<text x="48.1" y="437.3">3.0</text>
<text x="48.1" y="461.9">2.0</text>
<text x="48.1" y="486.5">1.0</text>
<text x="48.1" y="511.1">0.0</text>
<text x="48.1" y="535.7">-1.0</text>
<text x="48.1" y="560.3">-2.0</text>
<text x="48.1" y="584.9">-3.0</text>
</g>
<g font-size="13.89" text-anchor="middle" letter-spacing="0.33">
<text x="103.2" y="388.6">01-04-2013</text>
<text x="281.0" y="388.6">01-04-2014</text>
<text x="459.2" y="388.6">01-04-2015</text>
<text x="637.4" y="388.6">01-04-2016</text>
<text x="100.1" y="601.7">31-03-2014</text>
<text x="224.8" y="601.7">03-04-2014</text>
<text x="349.5" y="601.7">06-04-2014</text>
<text x="474.2" y="601.7">09-04-2014</text>
<text x="598.9" y="601.7">12-04-2014</text>
</g>
<g font-size="16.67" text-anchor="middle">
<text x="370.6" y="14.2">a)</text>
<text x="370.6" y="209.1">b)</text>
<text x="370.5" y="423.3">c)</text>
</g>
<g font-size="15.28" text-anchor="middle" letter-spacing="0.6">
<text x="370.9" y="623.8">Time</text>
<text transform="translate(14.1,292.5) rotate(-90)">dv/v (%)</text>
</g>
</g>
</svg>
</body></html>
